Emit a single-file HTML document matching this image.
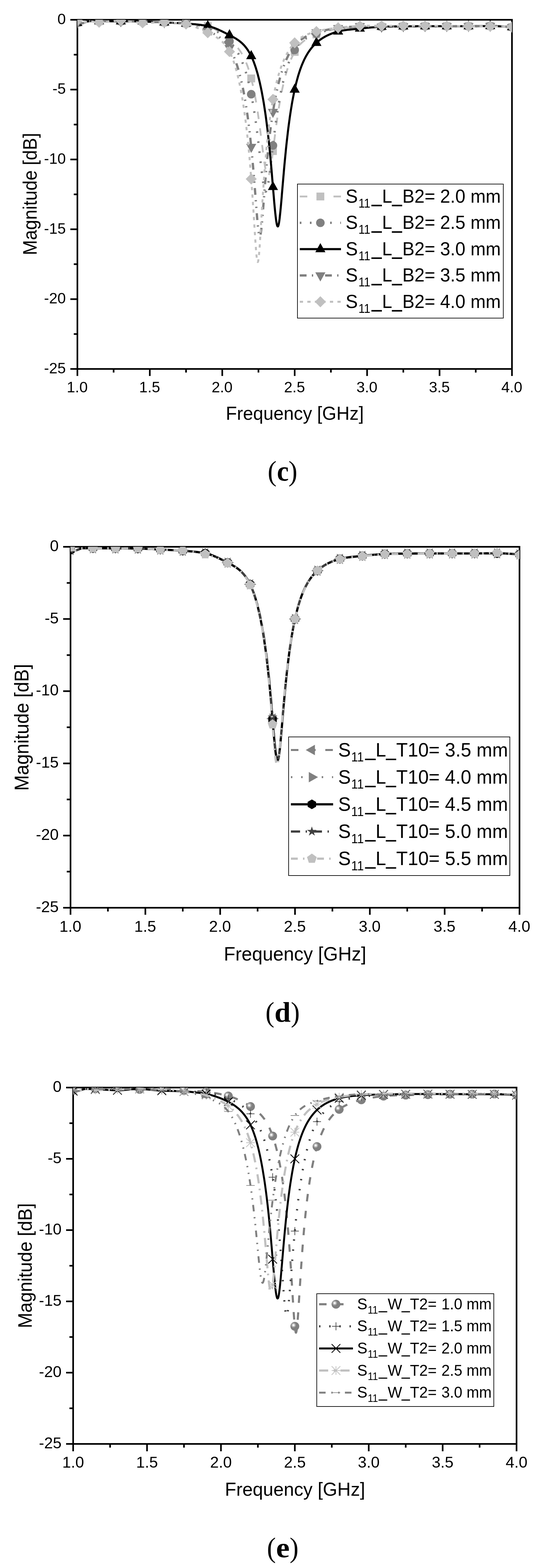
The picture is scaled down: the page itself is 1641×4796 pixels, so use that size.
<!DOCTYPE html>
<html lang="en">
<head>
<meta charset="utf-8">
<title>S11 parametric study</title>
<style>
html,body{margin:0;padding:0;background:#fff;}
body{width:1641px;height:4796px;overflow:hidden;}
svg{display:block;}
svg text{font-family:"Liberation Sans", sans-serif;fill:#000;}
svg text.cap{font-family:"Liberation Serif", serif;}
</style>
</head>
<body>
<svg width="1641" height="4796" viewBox="0 0 1641 4796">
<rect x="0" y="0" width="1641" height="4796" fill="#fff"/>
<g>
<clipPath id="clip0"><rect x="236.5" y="60.5" width="1328.0" height="1068.0"/></clipPath>
<rect x="236.5" y="60.5" width="1328.0" height="1068.0" fill="none" stroke="#000" stroke-width="5"/>
<g clip-path="url(#clip0)">
<path d="M236.5 69.9L240.9 70.7L245.4 71.1L249.8 71.2L254.2 70.6L258.6 69.0L263.1 67.1L267.5 65.5L271.9 64.8L276.3 64.7L280.8 64.7L285.2 64.7L289.6 64.7L294.0 64.7L298.5 64.8L302.9 64.8L307.3 64.8L311.8 64.8L316.2 64.8L320.6 64.8L325.0 64.9L329.5 64.9L333.9 64.9L338.3 65.0L342.7 65.0L347.2 65.0L351.6 65.1L356.0 65.1L360.4 65.1L364.9 65.2L369.3 65.2L373.7 65.2L378.2 65.2L382.6 65.2L387.0 65.2L391.4 65.2L395.9 65.2L400.3 65.2L404.7 65.2L409.1 65.2L413.6 65.2L418.0 65.3L422.4 65.3L426.8 65.4L431.3 65.5L435.7 65.6L440.1 65.8L444.6 65.9L449.0 66.1L453.4 66.3L457.8 66.4L462.3 66.6L466.7 66.8L471.1 67.0L475.5 67.2L480.0 67.5L484.4 67.7L488.8 67.9L493.2 68.1L497.7 68.4L502.1 68.6L506.5 68.9L511.0 69.1L515.4 69.3L519.8 69.5L524.2 69.7L528.7 69.9L533.1 70.1L537.5 70.3L541.9 70.5L546.4 70.7L550.8 70.9L555.2 71.2L559.6 71.4L564.1 71.7L568.5 72.0L572.9 72.3L577.4 72.6L581.8 72.9L586.2 73.2L590.6 73.5L595.1 73.9L599.5 74.2L603.9 74.6L608.3 75.1L612.8 75.6L617.2 76.2L621.6 76.9L626.0 77.7L630.5 78.7L634.9 79.7L639.3 81.0L643.8 82.7L648.2 84.7L652.6 87.0L657.0 89.5L661.5 92.3L665.9 95.3L670.3 98.4L674.7 101.6L679.2 104.9L680.1 105.6L680.9 106.3L681.8 107.0L682.7 107.7L683.6 108.4L684.5 109.1L685.4 109.8L686.2 110.5L687.1 111.2L688.0 111.9L688.9 112.6L689.8 113.3L690.7 114.0L691.6 114.7L692.4 115.4L693.3 116.1L694.2 116.8L695.1 117.5L696.0 118.2L696.9 118.9L697.8 119.6L698.6 120.3L699.5 121.0L700.4 121.7L701.3 122.4L702.2 123.2L703.1 123.9L704.0 124.6L704.8 125.3L705.7 126.0L706.6 126.8L707.5 127.5L708.4 128.3L709.3 129.0L710.2 129.8L711.0 130.6L711.9 131.4L712.8 132.2L713.7 133.0L714.6 133.8L715.5 134.7L716.4 135.5L717.2 136.4L718.1 137.3L719.0 138.1L719.9 139.1L720.8 140.0L721.7 140.9L722.5 141.9L723.4 142.9L724.3 143.9L725.2 144.9L726.1 146.0L727.0 147.0L727.9 148.1L728.7 149.2L729.6 150.4L730.5 151.5L731.4 152.7L732.3 154.0L733.2 155.2L734.1 156.5L734.9 157.8L735.8 159.1L736.7 160.5L737.6 161.9L738.5 163.4L739.4 164.9L740.3 166.4L741.1 167.9L742.0 169.5L742.9 171.2L743.8 172.9L744.7 174.6L745.6 176.4L746.5 178.2L747.3 180.0L748.2 182.0L749.1 183.9L750.0 185.9L750.9 188.0L751.8 190.1L752.6 192.3L753.5 194.6L754.4 196.9L755.3 199.2L756.2 201.7L757.1 204.2L758.0 206.7L758.8 209.4L759.7 212.1L760.6 214.8L761.5 217.7L762.4 220.6L763.3 223.6L764.2 226.7L765.0 229.9L765.9 233.1L766.8 236.5L767.7 239.9L768.6 243.4L769.5 247.1L770.4 250.8L771.2 254.6L772.1 258.4L773.0 262.4L773.9 266.5L774.8 270.7L775.7 275.0L776.6 279.4L777.4 283.9L778.3 288.5L779.2 293.2L780.1 298.0L781.0 302.9L781.9 308.0L782.8 313.1L783.6 318.4L784.5 323.8L785.4 329.3L786.3 335.0L787.2 340.7L788.1 346.6L788.9 352.6L789.8 358.7L790.7 364.9L791.6 371.3L792.5 377.7L793.4 384.3L794.3 390.9L795.1 397.7L796.0 404.5L796.9 411.4L797.8 418.3L798.7 425.4L799.6 432.4L800.5 439.5L801.3 446.6L802.2 453.6L803.1 460.6L804.0 467.6L804.9 474.4L805.8 481.1L806.7 487.7L807.5 494.0L808.4 500.1L809.3 505.9L810.2 511.4L811.1 516.5L812.0 521.2L812.9 525.4L813.7 529.1L814.6 532.3L815.5 534.9L816.4 536.8L817.3 538.2L818.2 538.9L819.0 538.9L819.9 538.3L820.8 537.0L821.7 535.1L822.6 532.6L823.5 529.6L824.4 526.0L825.2 521.8L826.1 517.2L827.0 512.2L827.9 506.8L828.8 501.1L829.7 495.1L830.6 488.9L831.4 482.4L832.3 475.7L833.2 469.0L834.1 462.1L835.0 455.1L835.9 448.1L836.8 441.1L837.6 434.0L838.5 427.0L839.4 420.1L840.3 413.1L841.2 406.3L842.1 399.5L843.0 392.8L843.8 386.2L844.7 379.7L845.6 373.3L846.5 367.0L847.4 360.8L848.3 354.7L849.2 348.8L850.0 342.9L850.9 337.2L851.8 331.6L852.7 326.1L853.6 320.7L854.5 315.5L855.3 310.3L856.2 305.3L857.1 300.4L858.0 295.6L858.9 290.9L859.8 286.3L860.7 281.8L861.5 277.4L862.4 273.1L863.3 268.9L864.2 264.9L865.1 260.9L866.0 257.0L866.9 253.2L867.7 249.5L868.6 245.8L869.5 242.3L870.4 238.8L871.3 235.5L872.2 232.2L873.1 228.9L873.9 225.8L874.8 222.7L875.7 219.7L876.6 216.8L877.5 214.0L878.4 211.2L879.3 208.4L880.1 205.8L881.0 203.2L881.9 200.6L882.8 198.1L883.7 195.7L884.6 193.3L885.4 191.0L886.3 188.8L887.2 186.5L888.1 184.4L889.0 182.3L889.9 180.2L890.8 178.2L891.6 176.2L892.5 174.3L893.4 172.4L894.3 170.6L895.2 168.8L896.1 167.0L897.0 165.3L897.8 163.6L898.7 161.9L899.6 160.3L900.5 158.8L901.4 157.2L902.3 155.7L903.2 154.3L904.0 152.8L904.9 151.5L905.8 150.1L906.7 148.8L907.6 147.5L908.5 146.3L909.4 145.1L910.2 143.9L911.1 142.7L912.0 141.6L912.9 140.5L913.8 139.5L914.7 138.4L915.6 137.4L916.4 136.4L917.3 135.5L918.2 134.6L919.1 133.7L920.0 132.8L920.9 131.9L921.7 131.1L922.6 130.3L923.5 129.5L924.4 128.7L925.3 127.9L926.2 127.2L927.1 126.5L927.9 125.8L928.8 125.1L929.7 124.4L930.6 123.8L931.5 123.1L932.4 122.5L933.3 121.9L934.1 121.3L935.0 120.7L935.9 120.2L936.8 119.6L937.7 119.1L938.6 118.6L939.5 118.0L940.3 117.5L941.2 117.0L942.1 116.6L943.0 116.1L943.9 115.6L944.8 115.2L945.7 114.7L946.5 114.3L947.4 113.8L948.3 113.4L949.2 113.0L950.1 112.6L951.0 112.1L951.8 111.7L952.7 111.3L953.6 110.9L954.5 110.6L955.4 110.2L956.3 109.8L957.2 109.4L958.0 109.0L958.9 108.7L959.8 108.3L960.7 107.9L961.6 107.6L962.5 107.2L963.4 106.8L964.2 106.5L965.1 106.1L966.0 105.7L966.9 105.4L967.8 105.0L968.7 104.6L969.6 104.3L970.4 103.9L971.3 103.6L972.2 103.3L973.1 102.9L974.0 102.6L974.9 102.3L975.8 101.9L976.6 101.6L977.5 101.3L978.4 101.0L979.3 100.7L980.2 100.4L981.1 100.1L982.0 99.8L982.8 99.6L983.7 99.3L984.6 99.0L985.5 98.7L986.4 98.4L987.3 98.2L988.1 97.9L989.0 97.7L989.9 97.4L990.8 97.2L991.7 96.9L992.6 96.7L993.5 96.4L994.3 96.2L995.2 95.9L996.1 95.7L997.0 95.5L997.9 95.2L998.8 95.0L999.7 94.8L1000.5 94.6L1001.4 94.4L1002.3 94.2L1003.2 93.9L1004.1 93.7L1005.0 93.5L1005.9 93.3L1006.7 93.1L1007.6 92.9L1008.5 92.7L1009.4 92.6L1010.3 92.4L1011.2 92.2L1012.1 92.0L1012.9 91.8L1013.8 91.6L1014.7 91.5L1015.6 91.3L1016.5 91.1L1017.4 90.9L1018.2 90.8L1019.1 90.6L1020.0 90.5L1020.9 90.3L1021.8 90.1L1022.7 90.0L1023.6 89.8L1024.4 89.7L1025.3 89.5L1026.2 89.4L1027.1 89.2L1028.0 89.1L1028.9 88.9L1029.8 88.8L1030.6 88.7L1031.5 88.5L1032.4 88.4L1033.3 88.3L1037.7 87.6L1042.2 87.0L1046.6 86.5L1051.0 85.9L1055.4 85.4L1059.9 84.9L1064.3 84.5L1068.7 84.1L1073.1 83.7L1077.6 83.3L1082.0 83.0L1086.4 82.6L1090.8 82.4L1095.3 82.1L1099.7 81.9L1104.1 81.7L1108.6 81.5L1113.0 81.5L1117.4 81.5L1121.8 81.5L1126.3 81.5L1130.7 81.6L1135.1 81.7L1139.5 81.7L1144.0 81.8L1148.4 81.9L1152.8 81.9L1157.2 81.9L1161.7 81.9L1166.1 81.9L1170.5 81.8L1175.0 81.7L1179.4 81.6L1183.8 81.5L1188.2 81.4L1192.7 81.3L1197.1 81.2L1201.5 81.1L1205.9 81.0L1210.4 80.9L1214.8 80.8L1219.2 80.8L1223.6 80.7L1228.1 80.6L1232.5 80.6L1236.9 80.5L1241.4 80.5L1245.8 80.4L1250.2 80.4L1254.6 80.4L1259.1 80.3L1263.5 80.3L1267.9 80.3L1272.3 80.3L1276.8 80.2L1281.2 80.2L1285.6 80.2L1290.0 80.2L1294.5 80.2L1298.9 80.2L1303.3 80.1L1307.8 80.1L1312.2 80.1L1316.6 80.1L1321.0 80.1L1325.5 80.1L1329.9 80.1L1334.3 80.1L1338.7 80.1L1343.2 80.1L1347.6 80.1L1352.0 80.1L1356.4 80.1L1360.9 80.2L1365.3 80.2L1369.7 80.2L1374.2 80.2L1378.6 80.2L1383.0 80.2L1387.4 80.2L1391.9 80.2L1396.3 80.2L1400.7 80.2L1405.1 80.2L1409.6 80.2L1414.0 80.2L1418.4 80.2L1422.8 80.2L1427.3 80.2L1431.7 80.2L1436.1 80.1L1440.6 80.1L1445.0 80.1L1449.4 80.0L1453.8 80.0L1458.3 80.0L1462.7 79.9L1467.1 79.9L1471.5 79.9L1476.0 79.8L1480.4 79.8L1484.8 79.8L1489.2 79.8L1493.7 79.7L1498.1 79.7L1502.5 79.7L1507.0 79.8L1511.4 79.9L1515.8 80.0L1520.2 80.2L1524.7 80.4L1529.1 80.6L1533.5 80.9L1537.9 81.1L1542.4 81.4L1546.8 81.8L1551.2 82.1L1555.6 82.4L1560.1 82.8L1564.5 83.1" fill="none" stroke="#c0c0c0" stroke-width="5.6" stroke-dasharray="23 28.5" stroke-linejoin="round"/>
<rect x="224.5" y="57.9" width="24.0" height="24.0" fill="#c0c0c0"/>
<rect x="290.9" y="52.8" width="24.0" height="24.0" fill="#c0c0c0"/>
<rect x="357.3" y="53.2" width="24.0" height="24.0" fill="#c0c0c0"/>
<rect x="423.7" y="53.6" width="24.0" height="24.0" fill="#c0c0c0"/>
<rect x="490.1" y="56.6" width="24.0" height="24.0" fill="#c0c0c0"/>
<rect x="556.5" y="60.0" width="24.0" height="24.0" fill="#c0c0c0"/>
<rect x="622.9" y="67.7" width="24.0" height="24.0" fill="#c0c0c0"/>
<rect x="689.3" y="110.4" width="24.0" height="24.0" fill="#c0c0c0"/>
<rect x="755.7" y="227.9" width="24.0" height="24.0" fill="#c0c0c0"/>
<rect x="822.1" y="450.1" width="24.0" height="24.0" fill="#c0c0c0"/>
<rect x="888.5" y="146.8" width="24.0" height="24.0" fill="#c0c0c0"/>
<rect x="954.9" y="93.4" width="24.0" height="24.0" fill="#c0c0c0"/>
<rect x="1021.3" y="76.3" width="24.0" height="24.0" fill="#c0c0c0"/>
<rect x="1087.7" y="69.9" width="24.0" height="24.0" fill="#c0c0c0"/>
<rect x="1154.1" y="69.9" width="24.0" height="24.0" fill="#c0c0c0"/>
<rect x="1220.5" y="68.6" width="24.0" height="24.0" fill="#c0c0c0"/>
<rect x="1286.9" y="68.2" width="24.0" height="24.0" fill="#c0c0c0"/>
<rect x="1353.3" y="68.2" width="24.0" height="24.0" fill="#c0c0c0"/>
<rect x="1419.7" y="68.2" width="24.0" height="24.0" fill="#c0c0c0"/>
<rect x="1486.1" y="67.7" width="24.0" height="24.0" fill="#c0c0c0"/>
<rect x="1552.5" y="71.1" width="24.0" height="24.0" fill="#c0c0c0"/>
<path d="M236.5 69.9L240.9 70.7L245.4 71.1L249.8 71.2L254.2 70.6L258.6 69.0L263.1 67.1L267.5 65.5L271.9 64.8L276.3 64.7L280.8 64.7L285.2 64.7L289.6 64.7L294.0 64.7L298.5 64.8L302.9 64.8L307.3 64.8L311.8 64.8L316.2 64.8L320.6 64.8L325.0 64.9L329.5 64.9L333.9 64.9L338.3 65.0L342.7 65.0L347.2 65.0L351.6 65.1L356.0 65.1L360.4 65.1L364.9 65.2L369.3 65.2L373.7 65.2L378.2 65.2L382.6 65.2L387.0 65.2L391.4 65.2L395.9 65.2L400.3 65.2L404.7 65.2L409.1 65.2L413.6 65.3L418.0 65.3L422.4 65.3L426.8 65.4L431.3 65.5L435.7 65.6L440.1 65.8L444.6 65.9L449.0 66.1L453.4 66.2L457.8 66.4L462.3 66.6L466.7 66.8L471.1 67.0L475.5 67.2L480.0 67.4L484.4 67.7L488.8 67.9L493.2 68.1L497.7 68.4L502.1 68.6L506.5 68.9L511.0 69.1L515.4 69.2L519.8 69.4L524.2 69.6L528.7 69.7L533.1 69.9L537.5 70.1L541.9 70.2L546.4 70.5L550.8 70.7L555.2 71.0L559.6 71.3L564.1 71.6L568.5 72.0L572.9 72.5L577.4 73.0L581.8 73.5L586.2 74.0L590.6 74.6L595.1 75.3L599.5 76.0L603.9 76.7L608.3 77.5L612.8 78.4L617.2 79.3L621.6 80.3L626.0 81.5L630.5 82.7L634.9 84.0L639.3 85.5L643.8 87.1L648.2 88.9L652.6 90.9L657.0 93.1L661.5 95.5L665.9 98.0L670.3 100.8L674.7 103.7L679.2 106.9L680.1 107.5L680.9 108.2L681.8 108.9L682.7 109.5L683.6 110.2L684.5 110.9L685.4 111.6L686.2 112.4L687.1 113.1L688.0 113.8L688.9 114.6L689.8 115.4L690.7 116.1L691.6 116.9L692.4 117.7L693.3 118.5L694.2 119.3L695.1 120.2L696.0 121.0L696.9 121.8L697.8 122.7L698.6 123.6L699.5 124.5L700.4 125.4L701.3 126.3L702.2 127.2L703.1 128.2L704.0 129.1L704.8 130.1L705.7 131.1L706.6 132.1L707.5 133.2L708.4 134.2L709.3 135.3L710.2 136.4L711.0 137.5L711.9 138.6L712.8 139.8L713.7 141.0L714.6 142.2L715.5 143.4L716.4 144.6L717.2 145.9L718.1 147.2L719.0 148.5L719.9 149.9L720.8 151.2L721.7 152.6L722.5 154.1L723.4 155.5L724.3 157.0L725.2 158.5L726.1 160.1L727.0 161.7L727.9 163.3L728.7 164.9L729.6 166.6L730.5 168.3L731.4 170.0L732.3 171.8L733.2 173.7L734.1 175.5L734.9 177.4L735.8 179.4L736.7 181.4L737.6 183.4L738.5 185.5L739.4 187.6L740.3 189.7L741.1 191.9L742.0 194.2L742.9 196.5L743.8 198.9L744.7 201.3L745.6 203.8L746.5 206.3L747.3 208.9L748.2 211.5L749.1 214.2L750.0 217.0L750.9 219.8L751.8 222.7L752.6 225.7L753.5 228.7L754.4 231.8L755.3 235.0L756.2 238.2L757.1 241.5L758.0 244.9L758.8 248.4L759.7 252.0L760.6 255.7L761.5 259.4L762.4 263.2L763.3 267.1L764.2 271.2L765.0 275.3L765.9 279.5L766.8 283.8L767.7 288.2L768.6 292.7L769.5 297.3L770.4 302.1L771.2 306.9L772.1 311.9L773.0 317.0L773.9 322.2L774.8 327.5L775.7 333.0L776.6 338.5L777.4 344.3L778.3 350.1L779.2 356.1L780.1 362.2L781.0 368.4L781.9 374.8L782.8 381.3L783.6 387.9L784.5 394.7L785.4 401.6L786.3 408.6L787.2 415.7L788.1 423.0L788.9 430.4L789.8 437.9L790.7 445.5L791.6 453.1L792.5 460.9L793.4 468.7L794.3 476.5L795.1 484.4L796.0 492.2L796.9 500.0L797.8 507.8L798.7 515.4L799.6 522.9L800.5 530.3L801.3 537.4L802.2 544.2L803.1 550.7L804.0 556.8L804.9 562.5L805.8 567.7L806.7 572.3L807.5 576.4L808.4 579.8L809.3 582.4L810.2 584.4L811.1 585.6L812.0 586.0L812.9 585.6L813.7 584.5L814.6 582.8L815.5 580.3L816.4 577.2L817.3 573.5L818.2 569.2L819.0 564.3L819.9 559.0L820.8 553.3L821.7 547.2L822.6 540.8L823.5 534.1L824.4 527.2L825.2 520.1L826.1 512.8L827.0 505.4L827.9 498.0L828.8 490.4L829.7 482.9L830.6 475.3L831.4 467.7L832.3 460.1L833.2 452.5L834.1 445.0L835.0 437.5L835.9 430.1L836.8 422.8L837.6 415.6L838.5 408.6L839.4 401.6L840.3 394.8L841.2 388.1L842.1 381.5L843.0 375.0L843.8 368.7L844.7 362.5L845.6 356.4L846.5 350.4L847.4 344.6L848.3 338.8L849.2 333.2L850.0 327.8L850.9 322.4L851.8 317.2L852.7 312.0L853.6 307.0L854.5 302.1L855.3 297.3L856.2 292.6L857.1 288.0L858.0 283.5L858.9 279.1L859.8 274.8L860.7 270.5L861.5 266.4L862.4 262.4L863.3 258.4L864.2 254.6L865.1 250.8L866.0 247.1L866.9 243.5L867.7 240.0L868.6 236.5L869.5 233.2L870.4 229.9L871.3 226.6L872.2 223.5L873.1 220.4L873.9 217.4L874.8 214.4L875.7 211.5L876.6 208.7L877.5 205.9L878.4 203.2L879.3 200.6L880.1 198.0L881.0 195.5L881.9 193.0L882.8 190.6L883.7 188.2L884.6 185.9L885.4 183.7L886.3 181.5L887.2 179.3L888.1 177.2L889.0 175.2L889.9 173.2L890.8 171.2L891.6 169.3L892.5 167.5L893.4 165.7L894.3 163.9L895.2 162.2L896.1 160.5L897.0 158.9L897.8 157.3L898.7 155.7L899.6 154.2L900.5 152.8L901.4 151.4L902.3 150.0L903.2 148.6L904.0 147.3L904.9 146.0L905.8 144.8L906.7 143.6L907.6 142.4L908.5 141.2L909.4 140.1L910.2 139.0L911.1 137.9L912.0 136.9L912.9 135.9L913.8 134.9L914.7 133.9L915.6 133.0L916.4 132.1L917.3 131.2L918.2 130.4L919.1 129.5L920.0 128.7L920.9 127.9L921.7 127.1L922.6 126.4L923.5 125.6L924.4 124.9L925.3 124.2L926.2 123.5L927.1 122.8L927.9 122.2L928.8 121.6L929.7 120.9L930.6 120.3L931.5 119.7L932.4 119.2L933.3 118.6L934.1 118.1L935.0 117.5L935.9 117.0L936.8 116.5L937.7 116.0L938.6 115.5L939.5 115.0L940.3 114.5L941.2 114.1L942.1 113.6L943.0 113.2L943.9 112.8L944.8 112.3L945.7 111.9L946.5 111.5L947.4 111.1L948.3 110.7L949.2 110.3L950.1 109.9L951.0 109.6L951.8 109.2L952.7 108.8L953.6 108.4L954.5 108.1L955.4 107.7L956.3 107.4L957.2 107.0L958.0 106.7L958.9 106.3L959.8 106.0L960.7 105.6L961.6 105.3L962.5 104.9L963.4 104.6L964.2 104.2L965.1 103.9L966.0 103.6L966.9 103.2L967.8 102.9L968.7 102.5L969.6 102.2L970.4 101.9L971.3 101.6L972.2 101.2L973.1 100.9L974.0 100.6L974.9 100.3L975.8 100.0L976.6 99.7L977.5 99.4L978.4 99.1L979.3 98.8L980.2 98.6L981.1 98.3L982.0 98.0L982.8 97.7L983.7 97.5L984.6 97.2L985.5 97.0L986.4 96.7L987.3 96.4L988.1 96.2L989.0 96.0L989.9 95.7L990.8 95.5L991.7 95.2L992.6 95.0L993.5 94.8L994.3 94.5L995.2 94.3L996.1 94.1L997.0 93.9L997.9 93.7L998.8 93.4L999.7 93.2L1000.5 93.0L1001.4 92.8L1002.3 92.6L1003.2 92.4L1004.1 92.2L1005.0 92.0L1005.9 91.8L1006.7 91.6L1007.6 91.4L1008.5 91.3L1009.4 91.1L1010.3 90.9L1011.2 90.7L1012.1 90.5L1012.9 90.4L1013.8 90.2L1014.7 90.0L1015.6 89.9L1016.5 89.7L1017.4 89.5L1018.2 89.4L1019.1 89.2L1020.0 89.1L1020.9 88.9L1021.8 88.8L1022.7 88.6L1023.6 88.5L1024.4 88.3L1025.3 88.2L1026.2 88.0L1027.1 87.9L1028.0 87.8L1028.9 87.6L1029.8 87.5L1030.6 87.4L1031.5 87.2L1032.4 87.1L1033.3 87.0L1037.7 86.4L1042.2 85.8L1046.6 85.3L1051.0 84.8L1055.4 84.3L1059.9 83.8L1064.3 83.4L1068.7 83.0L1073.1 82.6L1077.6 82.3L1082.0 82.0L1086.4 81.7L1090.8 81.4L1095.3 81.2L1099.7 81.0L1104.1 80.9L1108.6 80.8L1113.0 80.8L1117.4 80.8L1121.8 80.9L1126.3 81.0L1130.7 81.2L1135.1 81.3L1139.5 81.5L1144.0 81.6L1148.4 81.8L1152.8 81.8L1157.2 81.9L1161.7 81.9L1166.1 81.9L1170.5 81.8L1175.0 81.7L1179.4 81.6L1183.8 81.5L1188.2 81.4L1192.7 81.3L1197.1 81.2L1201.5 81.1L1205.9 81.0L1210.4 80.9L1214.8 80.8L1219.2 80.8L1223.6 80.7L1228.1 80.6L1232.5 80.6L1236.9 80.5L1241.4 80.5L1245.8 80.4L1250.2 80.4L1254.6 80.4L1259.1 80.3L1263.5 80.3L1267.9 80.3L1272.3 80.3L1276.8 80.2L1281.2 80.2L1285.6 80.2L1290.0 80.2L1294.5 80.2L1298.9 80.2L1303.3 80.1L1307.8 80.1L1312.2 80.1L1316.6 80.1L1321.0 80.1L1325.5 80.1L1329.9 80.1L1334.3 80.1L1338.7 80.1L1343.2 80.1L1347.6 80.1L1352.0 80.1L1356.4 80.1L1360.9 80.2L1365.3 80.2L1369.7 80.2L1374.2 80.2L1378.6 80.2L1383.0 80.2L1387.4 80.2L1391.9 80.2L1396.3 80.2L1400.7 80.2L1405.1 80.2L1409.6 80.2L1414.0 80.2L1418.4 80.2L1422.8 80.2L1427.3 80.2L1431.7 80.2L1436.1 80.1L1440.6 80.1L1445.0 80.1L1449.4 80.0L1453.8 80.0L1458.3 80.0L1462.7 79.9L1467.1 79.9L1471.5 79.9L1476.0 79.8L1480.4 79.8L1484.8 79.8L1489.2 79.8L1493.7 79.7L1498.1 79.7L1502.5 79.7L1507.0 79.8L1511.4 79.9L1515.8 80.0L1520.2 80.2L1524.7 80.4L1529.1 80.6L1533.5 80.9L1537.9 81.1L1542.4 81.4L1546.8 81.8L1551.2 82.1L1555.6 82.4L1560.1 82.8L1564.5 83.1" fill="none" stroke="#808080" stroke-width="7" stroke-dasharray="5 25.9" stroke-linejoin="round"/>
<circle cx="236.5" cy="69.9" r="13.1" fill="#808080"/>
<circle cx="302.9" cy="64.8" r="13.1" fill="#808080"/>
<circle cx="369.3" cy="65.2" r="13.1" fill="#808080"/>
<circle cx="435.7" cy="65.6" r="13.1" fill="#808080"/>
<circle cx="502.1" cy="68.6" r="13.1" fill="#808080"/>
<circle cx="568.5" cy="72.0" r="13.1" fill="#808080"/>
<circle cx="634.9" cy="84.0" r="13.1" fill="#808080"/>
<circle cx="701.3" cy="126.3" r="13.1" fill="#808080"/>
<circle cx="767.7" cy="288.2" r="13.1" fill="#808080"/>
<circle cx="834.1" cy="445.0" r="13.1" fill="#808080"/>
<circle cx="900.5" cy="152.8" r="13.1" fill="#808080"/>
<circle cx="966.9" cy="103.2" r="13.1" fill="#808080"/>
<circle cx="1033.3" cy="87.0" r="13.1" fill="#808080"/>
<circle cx="1099.7" cy="81.0" r="13.1" fill="#808080"/>
<circle cx="1166.1" cy="81.9" r="13.1" fill="#808080"/>
<circle cx="1232.5" cy="80.6" r="13.1" fill="#808080"/>
<circle cx="1298.9" cy="80.2" r="13.1" fill="#808080"/>
<circle cx="1365.3" cy="80.2" r="13.1" fill="#808080"/>
<circle cx="1431.7" cy="80.2" r="13.1" fill="#808080"/>
<circle cx="1498.1" cy="79.7" r="13.1" fill="#808080"/>
<circle cx="1564.5" cy="83.1" r="13.1" fill="#808080"/>
<path d="M236.5 69.9L240.9 70.7L245.4 71.1L249.8 71.2L254.2 70.6L258.6 69.0L263.1 67.1L267.5 65.5L271.9 64.8L276.3 64.7L280.8 64.7L285.2 64.7L289.6 64.7L294.0 64.7L298.5 64.8L302.9 64.8L307.3 64.8L311.8 64.8L316.2 64.8L320.6 64.8L325.0 64.9L329.5 64.9L333.9 64.9L338.3 65.0L342.7 65.0L347.2 65.0L351.6 65.1L356.0 65.1L360.4 65.1L364.9 65.2L369.3 65.2L373.7 65.2L378.2 65.2L382.6 65.2L387.0 65.2L391.4 65.2L395.9 65.2L400.3 65.2L404.7 65.2L409.1 65.2L413.6 65.3L418.0 65.3L422.4 65.3L426.8 65.4L431.3 65.5L435.7 65.6L440.1 65.8L444.6 65.9L449.0 66.1L453.4 66.3L457.8 66.5L462.3 66.6L466.7 66.9L471.1 67.1L475.5 67.3L480.0 67.5L484.4 67.7L488.8 68.0L493.2 68.2L497.7 68.4L502.1 68.6L506.5 68.8L511.0 69.0L515.4 69.2L519.8 69.4L524.2 69.6L528.7 69.8L533.1 70.0L537.5 70.2L541.9 70.4L546.4 70.7L550.8 70.9L555.2 71.2L559.6 71.4L564.1 71.7L568.5 72.0L572.9 72.4L577.4 72.7L581.8 73.1L586.2 73.4L590.6 73.8L595.1 74.2L599.5 74.7L603.9 75.1L608.3 75.7L612.8 76.2L617.2 76.8L621.6 77.4L626.0 78.1L630.5 78.9L634.9 79.7L639.3 80.7L643.8 81.8L648.2 83.2L652.6 84.7L657.0 86.3L661.5 88.1L665.9 90.0L670.3 92.0L674.7 94.1L679.2 96.2L680.1 96.7L680.9 97.1L681.8 97.5L682.7 98.0L683.6 98.4L684.5 98.9L685.4 99.3L686.2 99.7L687.1 100.2L688.0 100.6L688.9 101.1L689.8 101.5L690.7 102.0L691.6 102.5L692.4 102.9L693.3 103.4L694.2 103.8L695.1 104.3L696.0 104.7L696.9 105.2L697.8 105.7L698.6 106.1L699.5 106.6L700.4 107.0L701.3 107.5L702.2 108.0L703.1 108.4L704.0 108.9L704.8 109.3L705.7 109.8L706.6 110.3L707.5 110.7L708.4 111.2L709.3 111.7L710.2 112.1L711.0 112.6L711.9 113.1L712.8 113.6L713.7 114.1L714.6 114.5L715.5 115.0L716.4 115.5L717.2 116.1L718.1 116.6L719.0 117.1L719.9 117.6L720.8 118.1L721.7 118.7L722.5 119.2L723.4 119.8L724.3 120.4L725.2 121.0L726.1 121.5L727.0 122.1L727.9 122.8L728.7 123.4L729.6 124.0L730.5 124.7L731.4 125.3L732.3 126.0L733.2 126.7L734.1 127.4L734.9 128.1L735.8 128.8L736.7 129.6L737.6 130.4L738.5 131.1L739.4 132.0L740.3 132.8L741.1 133.6L742.0 134.5L742.9 135.4L743.8 136.3L744.7 137.2L745.6 138.1L746.5 139.1L747.3 140.1L748.2 141.1L749.1 142.2L750.0 143.3L750.9 144.4L751.8 145.5L752.6 146.6L753.5 147.8L754.4 149.0L755.3 150.3L756.2 151.6L757.1 152.9L758.0 154.2L758.8 155.6L759.7 157.0L760.6 158.5L761.5 160.0L762.4 161.5L763.3 163.1L764.2 164.7L765.0 166.3L765.9 168.0L766.8 169.8L767.7 171.6L768.6 173.4L769.5 175.3L770.4 177.2L771.2 179.2L772.1 181.3L773.0 183.4L773.9 185.6L774.8 187.8L775.7 190.1L776.6 192.5L777.4 194.9L778.3 197.4L779.2 199.9L780.1 202.5L781.0 205.2L781.9 208.0L782.8 210.8L783.6 213.7L784.5 216.6L785.4 219.6L786.3 222.7L787.2 225.9L788.1 229.2L788.9 232.5L789.8 235.9L790.7 239.4L791.6 243.0L792.5 246.7L793.4 250.5L794.3 254.3L795.1 258.3L796.0 262.3L796.9 266.5L797.8 270.7L798.7 275.1L799.6 279.5L800.5 284.1L801.3 288.8L802.2 293.6L803.1 298.5L804.0 303.5L804.9 308.7L805.8 313.9L806.7 319.4L807.5 324.9L808.4 330.6L809.3 336.4L810.2 342.4L811.1 348.5L812.0 354.8L812.9 361.3L813.7 367.9L814.6 374.6L815.5 381.6L816.4 388.7L817.3 396.0L818.2 403.5L819.0 411.2L819.9 419.0L820.8 427.1L821.7 435.4L822.6 443.8L823.5 452.5L824.4 461.4L825.2 470.5L826.1 479.8L827.0 489.3L827.9 499.0L828.8 508.9L829.7 519.0L830.6 529.3L831.4 539.7L832.3 550.3L833.2 561.0L834.1 571.9L835.0 582.6L835.9 593.3L836.8 603.7L837.6 614.0L838.5 623.9L839.4 633.6L840.3 642.8L841.2 651.6L842.1 659.8L843.0 667.3L843.8 674.0L844.7 679.8L845.6 684.7L846.5 688.5L847.4 691.1L848.3 692.5L849.2 692.7L850.0 691.6L850.9 689.2L851.8 685.6L852.7 680.9L853.6 675.1L854.5 668.3L855.3 660.7L856.2 652.4L857.1 643.5L858.0 634.1L858.9 624.3L859.8 614.2L860.7 603.9L861.5 593.4L862.4 582.9L863.3 572.4L864.2 561.9L865.1 551.4L866.0 541.1L866.9 530.9L867.7 520.9L868.6 511.0L869.5 501.3L870.4 491.7L871.3 482.4L872.2 473.3L873.1 464.3L873.9 455.6L874.8 447.1L875.7 438.7L876.6 430.6L877.5 422.7L878.4 415.0L879.3 407.4L880.1 400.1L881.0 392.9L881.9 385.9L882.8 379.1L883.7 372.5L884.6 366.1L885.4 359.8L886.3 353.6L887.2 347.7L888.1 341.8L889.0 336.1L889.9 330.6L890.8 325.2L891.6 320.0L892.5 314.8L893.4 309.8L894.3 305.0L895.2 300.2L896.1 295.6L897.0 291.1L897.8 286.7L898.7 282.4L899.6 278.2L900.5 274.1L901.4 270.1L902.3 266.2L903.2 262.4L904.0 258.7L904.9 255.1L905.8 251.6L906.7 248.2L907.6 244.8L908.5 241.6L909.4 238.4L910.2 235.3L911.1 232.2L912.0 229.3L912.9 226.4L913.8 223.5L914.7 220.8L915.6 218.1L916.4 215.5L917.3 212.9L918.2 210.4L919.1 207.9L920.0 205.5L920.9 203.2L921.7 200.9L922.6 198.7L923.5 196.5L924.4 194.4L925.3 192.3L926.2 190.2L927.1 188.3L927.9 186.3L928.8 184.4L929.7 182.5L930.6 180.7L931.5 178.9L932.4 177.2L933.3 175.5L934.1 173.8L935.0 172.2L935.9 170.6L936.8 169.1L937.7 167.5L938.6 166.0L939.5 164.6L940.3 163.1L941.2 161.7L942.1 160.3L943.0 159.0L943.9 157.7L944.8 156.4L945.7 155.1L946.5 153.9L947.4 152.7L948.3 151.5L949.2 150.3L950.1 149.2L951.0 148.0L951.8 146.9L952.7 145.8L953.6 144.8L954.5 143.7L955.4 142.7L956.3 141.7L957.2 140.7L958.0 139.8L958.9 138.8L959.8 137.9L960.7 137.0L961.6 136.1L962.5 135.2L963.4 134.3L964.2 133.5L965.1 132.6L966.0 131.8L966.9 131.0L967.8 130.2L968.7 129.4L969.6 128.6L970.4 127.9L971.3 127.1L972.2 126.4L973.1 125.7L974.0 125.0L974.9 124.3L975.8 123.6L976.6 122.9L977.5 122.3L978.4 121.6L979.3 121.0L980.2 120.3L981.1 119.7L982.0 119.1L982.8 118.5L983.7 117.9L984.6 117.3L985.5 116.8L986.4 116.2L987.3 115.7L988.1 115.1L989.0 114.6L989.9 114.1L990.8 113.5L991.7 113.0L992.6 112.5L993.5 112.0L994.3 111.5L995.2 111.1L996.1 110.6L997.0 110.1L997.9 109.7L998.8 109.2L999.7 108.8L1000.5 108.4L1001.4 107.9L1002.3 107.5L1003.2 107.1L1004.1 106.7L1005.0 106.3L1005.9 105.9L1006.7 105.5L1007.6 105.1L1008.5 104.8L1009.4 104.4L1010.3 104.0L1011.2 103.7L1012.1 103.3L1012.9 103.0L1013.8 102.6L1014.7 102.3L1015.6 102.0L1016.5 101.6L1017.4 101.3L1018.2 101.0L1019.1 100.7L1020.0 100.4L1020.9 100.1L1021.8 99.8L1022.7 99.5L1023.6 99.2L1024.4 98.9L1025.3 98.7L1026.2 98.4L1027.1 98.1L1028.0 97.9L1028.9 97.6L1029.8 97.4L1030.6 97.1L1031.5 96.9L1032.4 96.6L1033.3 96.4L1037.7 95.3L1042.2 94.3L1046.6 93.5L1051.0 92.7L1055.4 92.1L1059.9 91.5L1064.3 90.9L1068.7 90.5L1073.1 90.0L1077.6 89.6L1082.0 89.2L1086.4 88.8L1090.8 88.3L1095.3 87.9L1099.7 87.4L1104.1 86.9L1108.6 86.5L1113.0 86.0L1117.4 85.6L1121.8 85.1L1126.3 84.7L1130.7 84.3L1135.1 83.9L1139.5 83.6L1144.0 83.3L1148.4 82.9L1152.8 82.6L1157.2 82.4L1161.7 82.1L1166.1 81.9L1170.5 81.7L1175.0 81.5L1179.4 81.3L1183.8 81.2L1188.2 81.1L1192.7 81.0L1197.1 80.9L1201.5 80.9L1205.9 80.8L1210.4 80.8L1214.8 80.7L1219.2 80.7L1223.6 80.7L1228.1 80.6L1232.5 80.6L1236.9 80.5L1241.4 80.5L1245.8 80.4L1250.2 80.4L1254.6 80.4L1259.1 80.3L1263.5 80.3L1267.9 80.3L1272.3 80.3L1276.8 80.2L1281.2 80.2L1285.6 80.2L1290.0 80.2L1294.5 80.2L1298.9 80.2L1303.3 80.1L1307.8 80.1L1312.2 80.1L1316.6 80.1L1321.0 80.1L1325.5 80.1L1329.9 80.1L1334.3 80.1L1338.7 80.1L1343.2 80.1L1347.6 80.1L1352.0 80.1L1356.4 80.1L1360.9 80.2L1365.3 80.2L1369.7 80.2L1374.2 80.2L1378.6 80.2L1383.0 80.2L1387.4 80.2L1391.9 80.2L1396.3 80.2L1400.7 80.2L1405.1 80.2L1409.6 80.2L1414.0 80.2L1418.4 80.2L1422.8 80.2L1427.3 80.2L1431.7 80.2L1436.1 80.1L1440.6 80.1L1445.0 80.1L1449.4 80.0L1453.8 80.0L1458.3 80.0L1462.7 79.9L1467.1 79.9L1471.5 79.9L1476.0 79.8L1480.4 79.8L1484.8 79.8L1489.2 79.8L1493.7 79.7L1498.1 79.7L1502.5 79.7L1507.0 79.8L1511.4 79.9L1515.8 80.0L1520.2 80.2L1524.7 80.4L1529.1 80.6L1533.5 80.9L1537.9 81.2L1542.4 81.5L1546.8 81.8L1551.2 82.1L1555.6 82.4L1560.1 82.8L1564.5 83.1" fill="none" stroke="#000000" stroke-width="6.3" stroke-linejoin="round"/>
<polygon points="236.5,51.4 252.0,79.3 221.0,79.3" fill="#000000"/>
<polygon points="302.9,46.3 318.4,74.2 287.4,74.2" fill="#000000"/>
<polygon points="369.3,46.7 384.8,74.6 353.8,74.6" fill="#000000"/>
<polygon points="435.7,47.1 451.2,75.0 420.2,75.0" fill="#000000"/>
<polygon points="502.1,50.1 517.6,78.0 486.6,78.0" fill="#000000"/>
<polygon points="568.5,53.5 584.0,81.4 553.0,81.4" fill="#000000"/>
<polygon points="634.9,61.2 650.4,89.1 619.4,89.1" fill="#000000"/>
<polygon points="701.3,89.0 716.8,116.9 685.8,116.9" fill="#000000"/>
<polygon points="767.7,153.1 783.2,181.0 752.2,181.0" fill="#000000"/>
<polygon points="834.1,553.4 849.6,581.3 818.6,581.3" fill="#000000"/>
<polygon points="900.5,255.6 916.0,283.5 885.0,283.5" fill="#000000"/>
<polygon points="966.9,112.5 982.4,140.4 951.4,140.4" fill="#000000"/>
<polygon points="1033.3,77.9 1048.8,105.8 1017.8,105.8" fill="#000000"/>
<polygon points="1099.7,68.9 1115.2,96.8 1084.2,96.8" fill="#000000"/>
<polygon points="1166.1,63.4 1181.6,91.3 1150.6,91.3" fill="#000000"/>
<polygon points="1232.5,62.1 1248.0,90.0 1217.0,90.0" fill="#000000"/>
<polygon points="1298.9,61.7 1314.4,89.6 1283.4,89.6" fill="#000000"/>
<polygon points="1365.3,61.7 1380.8,89.6 1349.8,89.6" fill="#000000"/>
<polygon points="1431.7,61.7 1447.2,89.6 1416.2,89.6" fill="#000000"/>
<polygon points="1498.1,61.2 1513.6,89.1 1482.6,89.1" fill="#000000"/>
<polygon points="1564.5,64.6 1580.0,92.5 1549.0,92.5" fill="#000000"/>
<path d="M236.5 69.9L240.9 70.7L245.4 71.1L249.8 71.2L254.2 70.6L258.6 69.0L263.1 67.1L267.5 65.5L271.9 64.8L276.3 64.7L280.8 64.7L285.2 64.7L289.6 64.7L294.0 64.7L298.5 64.8L302.9 64.8L307.3 64.8L311.8 64.8L316.2 64.8L320.6 64.8L325.0 64.9L329.5 64.9L333.9 64.9L338.3 65.0L342.7 65.0L347.2 65.0L351.6 65.1L356.0 65.1L360.4 65.1L364.9 65.2L369.3 65.2L373.7 65.2L378.2 65.2L382.6 65.3L387.0 65.3L391.4 65.3L395.9 65.3L400.3 65.3L404.7 65.3L409.1 65.3L413.6 65.3L418.0 65.3L422.4 65.4L426.8 65.4L431.3 65.5L435.7 65.6L440.1 65.7L444.6 65.9L449.0 66.0L453.4 66.2L457.8 66.4L462.3 66.6L466.7 66.8L471.1 67.0L475.5 67.2L480.0 67.4L484.4 67.6L488.8 67.9L493.2 68.1L497.7 68.4L502.1 68.6L506.5 68.8L511.0 69.0L515.4 69.1L519.8 69.2L524.2 69.2L528.7 69.3L533.1 69.4L537.5 69.5L541.9 69.6L546.4 69.8L550.8 70.0L555.2 70.4L559.6 70.8L564.1 71.4L568.5 72.0L572.9 72.9L577.4 73.8L581.8 74.9L586.2 76.2L590.6 77.5L595.1 78.9L599.5 80.5L603.9 82.1L608.3 83.7L612.8 85.4L617.2 87.2L621.6 89.0L626.0 90.9L630.5 92.8L634.9 94.7L639.3 96.6L643.8 98.6L648.2 100.7L652.6 102.9L657.0 105.2L661.5 107.8L665.9 110.6L670.3 113.6L674.7 117.0L679.2 120.7L680.1 121.5L680.9 122.4L681.8 123.2L682.7 124.0L683.6 124.9L684.5 125.8L685.4 126.7L686.2 127.6L687.1 128.6L688.0 129.6L688.9 130.6L689.8 131.6L690.7 132.6L691.6 133.7L692.4 134.8L693.3 135.9L694.2 137.0L695.1 138.2L696.0 139.4L696.9 140.6L697.8 141.9L698.6 143.2L699.5 144.5L700.4 145.8L701.3 147.2L702.2 148.6L703.1 150.1L704.0 151.6L704.8 153.2L705.7 154.8L706.6 156.4L707.5 158.1L708.4 159.8L709.3 161.6L710.2 163.4L711.0 165.3L711.9 167.2L712.8 169.2L713.7 171.3L714.6 173.3L715.5 175.5L716.4 177.6L717.2 179.9L718.1 182.2L719.0 184.5L719.9 186.9L720.8 189.4L721.7 191.9L722.5 194.5L723.4 197.1L724.3 199.8L725.2 202.5L726.1 205.4L727.0 208.2L727.9 211.2L728.7 214.2L729.6 217.3L730.5 220.5L731.4 223.7L732.3 227.0L733.2 230.4L734.1 233.8L734.9 237.3L735.8 240.9L736.7 244.6L737.6 248.4L738.5 252.3L739.4 256.2L740.3 260.3L741.1 264.4L742.0 268.7L742.9 273.0L743.8 277.4L744.7 282.0L745.6 286.6L746.5 291.4L747.3 296.3L748.2 301.3L749.1 306.4L750.0 311.6L750.9 317.0L751.8 322.5L752.6 328.1L753.5 333.9L754.4 339.8L755.3 345.9L756.2 352.1L757.1 358.5L758.0 365.0L758.8 371.7L759.7 378.6L760.6 385.7L761.5 392.9L762.4 400.4L763.3 408.0L764.2 415.8L765.0 423.9L765.9 432.1L766.8 440.6L767.7 449.3L768.6 458.1L769.5 467.2L770.4 476.6L771.2 486.1L772.1 495.8L773.0 505.8L773.9 516.0L774.8 526.4L775.7 537.0L776.6 547.9L777.4 558.9L778.3 570.1L779.2 581.5L780.1 593.0L781.0 604.6L781.9 616.2L782.8 627.8L783.6 639.3L784.5 650.6L785.4 661.6L786.3 672.1L787.2 682.1L788.1 691.3L788.9 699.6L789.8 706.9L790.7 713.0L791.6 717.6L792.5 720.8L793.4 722.5L794.3 722.5L795.1 720.8L796.0 717.6L796.9 712.9L797.8 706.9L798.7 699.6L799.6 691.2L800.5 682.0L801.3 672.0L802.2 661.5L803.1 650.5L804.0 639.3L804.9 627.8L805.8 616.2L806.7 604.7L807.5 593.1L808.4 581.7L809.3 570.4L810.2 559.3L811.1 548.4L812.0 537.7L812.9 527.2L813.7 517.0L814.6 507.0L815.5 497.3L816.4 487.8L817.3 478.6L818.2 469.6L819.0 460.8L819.9 452.3L820.8 444.1L821.7 436.0L822.6 428.1L823.5 420.5L824.4 413.1L825.2 405.8L826.1 398.8L827.0 391.9L827.9 385.2L828.8 378.7L829.7 372.3L830.6 366.0L831.4 359.9L832.3 354.0L833.2 348.2L834.1 342.5L835.0 336.9L835.9 331.4L836.8 326.1L837.6 320.9L838.5 315.9L839.4 311.0L840.3 306.2L841.2 301.5L842.1 296.9L843.0 292.4L843.8 288.0L844.7 283.8L845.6 279.6L846.5 275.5L847.4 271.5L848.3 267.6L849.2 263.8L850.0 260.1L850.9 256.5L851.8 252.9L852.7 249.4L853.6 246.0L854.5 242.7L855.3 239.5L856.2 236.3L857.1 233.2L858.0 230.1L858.9 227.1L859.8 224.2L860.7 221.3L861.5 218.5L862.4 215.8L863.3 213.1L864.2 210.5L865.1 207.9L866.0 205.4L866.9 202.9L867.7 200.5L868.6 198.1L869.5 195.8L870.4 193.5L871.3 191.3L872.2 189.1L873.1 187.0L873.9 184.9L874.8 182.8L875.7 180.8L876.6 178.9L877.5 176.9L878.4 175.1L879.3 173.2L880.1 171.4L881.0 169.6L881.9 167.9L882.8 166.2L883.7 164.6L884.6 162.9L885.4 161.4L886.3 159.8L887.2 158.3L888.1 156.8L889.0 155.4L889.9 154.0L890.8 152.6L891.6 151.2L892.5 149.9L893.4 148.7L894.3 147.4L895.2 146.2L896.1 145.0L897.0 143.8L897.8 142.7L898.7 141.6L899.6 140.6L900.5 139.5L901.4 138.5L902.3 137.5L903.2 136.6L904.0 135.6L904.9 134.7L905.8 133.8L906.7 132.9L907.6 132.0L908.5 131.2L909.4 130.3L910.2 129.5L911.1 128.7L912.0 127.9L912.9 127.1L913.8 126.4L914.7 125.6L915.6 124.9L916.4 124.2L917.3 123.5L918.2 122.8L919.1 122.1L920.0 121.5L920.9 120.8L921.7 120.2L922.6 119.6L923.5 118.9L924.4 118.3L925.3 117.7L926.2 117.2L927.1 116.6L927.9 116.0L928.8 115.5L929.7 115.0L930.6 114.4L931.5 113.9L932.4 113.4L933.3 112.9L934.1 112.4L935.0 111.9L935.9 111.5L936.8 111.0L937.7 110.5L938.6 110.1L939.5 109.7L940.3 109.2L941.2 108.8L942.1 108.4L943.0 108.0L943.9 107.6L944.8 107.2L945.7 106.8L946.5 106.4L947.4 106.0L948.3 105.6L949.2 105.3L950.1 104.9L951.0 104.5L951.8 104.2L952.7 103.9L953.6 103.5L954.5 103.2L955.4 102.8L956.3 102.5L957.2 102.2L958.0 101.9L958.9 101.6L959.8 101.3L960.7 101.0L961.6 100.7L962.5 100.4L963.4 100.1L964.2 99.8L965.1 99.5L966.0 99.2L966.9 98.9L967.8 98.7L968.7 98.4L969.6 98.1L970.4 97.9L971.3 97.6L972.2 97.4L973.1 97.1L974.0 96.9L974.9 96.6L975.8 96.4L976.6 96.2L977.5 95.9L978.4 95.7L979.3 95.5L980.2 95.3L981.1 95.0L982.0 94.8L982.8 94.6L983.7 94.4L984.6 94.2L985.5 94.0L986.4 93.8L987.3 93.6L988.1 93.4L989.0 93.2L989.9 93.0L990.8 92.8L991.7 92.7L992.6 92.5L993.5 92.3L994.3 92.1L995.2 92.0L996.1 91.8L997.0 91.6L997.9 91.5L998.8 91.3L999.7 91.1L1000.5 91.0L1001.4 90.8L1002.3 90.7L1003.2 90.5L1004.1 90.4L1005.0 90.2L1005.9 90.1L1006.7 89.9L1007.6 89.8L1008.5 89.6L1009.4 89.5L1010.3 89.3L1011.2 89.2L1012.1 89.1L1012.9 88.9L1013.8 88.8L1014.7 88.7L1015.6 88.5L1016.5 88.4L1017.4 88.3L1018.2 88.1L1019.1 88.0L1020.0 87.9L1020.9 87.8L1021.8 87.6L1022.7 87.5L1023.6 87.4L1024.4 87.3L1025.3 87.2L1026.2 87.0L1027.1 86.9L1028.0 86.8L1028.9 86.7L1029.8 86.6L1030.6 86.5L1031.5 86.4L1032.4 86.2L1033.3 86.1L1037.7 85.6L1042.2 85.1L1046.6 84.6L1051.0 84.1L1055.4 83.6L1059.9 83.2L1064.3 82.7L1068.7 82.3L1073.1 82.0L1077.6 81.6L1082.0 81.3L1086.4 80.9L1090.8 80.7L1095.3 80.4L1099.7 80.2L1104.1 80.0L1108.6 79.9L1113.0 79.9L1117.4 80.0L1121.8 80.2L1126.3 80.4L1130.7 80.6L1135.1 80.9L1139.5 81.1L1144.0 81.4L1148.4 81.6L1152.8 81.7L1157.2 81.8L1161.7 81.9L1166.1 81.9L1170.5 81.8L1175.0 81.7L1179.4 81.6L1183.8 81.5L1188.2 81.4L1192.7 81.3L1197.1 81.2L1201.5 81.1L1205.9 81.0L1210.4 80.9L1214.8 80.9L1219.2 80.8L1223.6 80.7L1228.1 80.6L1232.5 80.6L1236.9 80.5L1241.4 80.5L1245.8 80.4L1250.2 80.4L1254.6 80.4L1259.1 80.3L1263.5 80.3L1267.9 80.3L1272.3 80.3L1276.8 80.2L1281.2 80.2L1285.6 80.2L1290.0 80.2L1294.5 80.2L1298.9 80.2L1303.3 80.1L1307.8 80.1L1312.2 80.1L1316.6 80.1L1321.0 80.1L1325.5 80.1L1329.9 80.1L1334.3 80.1L1338.7 80.1L1343.2 80.1L1347.6 80.1L1352.0 80.1L1356.4 80.1L1360.9 80.2L1365.3 80.2L1369.7 80.2L1374.2 80.2L1378.6 80.2L1383.0 80.2L1387.4 80.2L1391.9 80.2L1396.3 80.2L1400.7 80.2L1405.1 80.2L1409.6 80.2L1414.0 80.2L1418.4 80.2L1422.8 80.2L1427.3 80.2L1431.7 80.2L1436.1 80.1L1440.6 80.1L1445.0 80.1L1449.4 80.0L1453.8 80.0L1458.3 80.0L1462.7 79.9L1467.1 79.9L1471.5 79.9L1476.0 79.8L1480.4 79.8L1484.8 79.8L1489.2 79.8L1493.7 79.7L1498.1 79.7L1502.5 79.7L1507.0 79.8L1511.4 79.9L1515.8 80.0L1520.2 80.2L1524.7 80.4L1529.1 80.6L1533.5 80.9L1537.9 81.1L1542.4 81.4L1546.8 81.8L1551.2 82.1L1555.6 82.4L1560.1 82.8L1564.5 83.1" fill="none" stroke="#808080" stroke-width="7" stroke-dasharray="20.7 16.2 4 16.2 4 16.2" stroke-linejoin="round"/>
<polygon points="221.0,60.5 252.0,60.5 236.5,88.4" fill="#808080"/>
<polygon points="287.4,55.4 318.4,55.4 302.9,83.3" fill="#808080"/>
<polygon points="353.8,55.8 384.8,55.8 369.3,83.7" fill="#808080"/>
<polygon points="420.2,56.2 451.2,56.2 435.7,84.1" fill="#808080"/>
<polygon points="486.6,59.2 517.6,59.2 502.1,87.1" fill="#808080"/>
<polygon points="553.0,62.6 584.0,62.6 568.5,90.5" fill="#808080"/>
<polygon points="619.4,85.3 650.4,85.3 634.9,113.2" fill="#808080"/>
<polygon points="685.8,137.8 716.8,137.8 701.3,165.7" fill="#808080"/>
<polygon points="752.2,439.9 783.2,439.9 767.7,467.8" fill="#808080"/>
<polygon points="818.6,333.1 849.6,333.1 834.1,361.0" fill="#808080"/>
<polygon points="885.0,130.1 916.0,130.1 900.5,158.0" fill="#808080"/>
<polygon points="951.4,89.5 982.4,89.5 966.9,117.4" fill="#808080"/>
<polygon points="1017.8,76.7 1048.8,76.7 1033.3,104.6" fill="#808080"/>
<polygon points="1084.2,70.8 1115.2,70.8 1099.7,98.7" fill="#808080"/>
<polygon points="1150.6,72.5 1181.6,72.5 1166.1,100.4" fill="#808080"/>
<polygon points="1217.0,71.2 1248.0,71.2 1232.5,99.1" fill="#808080"/>
<polygon points="1283.4,70.8 1314.4,70.8 1298.9,98.7" fill="#808080"/>
<polygon points="1349.8,70.8 1380.8,70.8 1365.3,98.7" fill="#808080"/>
<polygon points="1416.2,70.8 1447.2,70.8 1431.7,98.7" fill="#808080"/>
<polygon points="1482.6,70.3 1513.6,70.3 1498.1,98.2" fill="#808080"/>
<polygon points="1549.0,73.7 1580.0,73.7 1564.5,101.6" fill="#808080"/>
<path d="M236.5 62.6L240.9 66.8L245.4 69.9L249.8 71.2L254.2 70.5L258.6 68.9L263.1 67.0L267.5 65.4L271.9 64.8L276.3 65.0L280.8 65.5L285.2 66.1L289.6 66.8L294.0 67.5L298.5 67.9L302.9 68.2L307.3 68.2L311.8 68.0L316.2 67.8L320.6 67.4L325.0 66.9L329.5 66.4L333.9 65.8L338.3 65.3L342.7 64.7L347.2 64.2L351.6 63.7L356.0 63.4L360.4 63.1L364.9 63.0L369.3 63.1L373.7 63.3L378.2 63.5L382.6 63.9L387.0 64.4L391.4 64.9L395.9 65.4L400.3 66.0L404.7 66.6L409.1 67.2L413.6 67.8L418.0 68.3L422.4 68.8L426.8 69.3L431.3 69.6L435.7 69.9L440.1 70.1L444.6 70.1L449.0 70.1L453.4 70.0L457.8 69.8L462.3 69.6L466.7 69.4L471.1 69.1L475.5 68.8L480.0 68.6L484.4 68.4L488.8 68.2L493.2 68.1L497.7 68.1L502.1 68.2L506.5 68.3L511.0 68.5L515.4 68.6L519.8 68.8L524.2 69.0L528.7 69.2L533.1 69.5L537.5 69.8L541.9 70.2L546.4 70.6L550.8 71.1L555.2 71.6L559.6 72.3L564.1 73.0L568.5 73.7L572.9 74.7L577.4 75.8L581.8 77.1L586.2 78.5L590.6 80.1L595.1 81.8L599.5 83.6L603.9 85.5L608.3 87.5L612.8 89.5L617.2 91.6L621.6 93.7L626.0 95.9L630.5 98.0L634.9 100.2L639.3 102.4L643.8 104.5L648.2 106.7L652.6 109.0L657.0 111.4L661.5 114.0L665.9 116.8L670.3 120.0L674.7 123.5L679.2 127.6L680.1 128.4L680.9 129.3L681.8 130.2L682.7 131.2L683.6 132.1L684.5 133.1L685.4 134.1L686.2 135.2L687.1 136.3L688.0 137.4L688.9 138.5L689.8 139.6L690.7 140.8L691.6 142.1L692.4 143.3L693.3 144.6L694.2 145.9L695.1 147.3L696.0 148.7L696.9 150.1L697.8 151.6L698.6 153.1L699.5 154.7L700.4 156.3L701.3 157.9L702.2 159.6L703.1 161.4L704.0 163.2L704.8 165.0L705.7 167.0L706.6 169.0L707.5 171.1L708.4 173.2L709.3 175.4L710.2 177.7L711.0 180.0L711.9 182.4L712.8 184.9L713.7 187.4L714.6 190.0L715.5 192.7L716.4 195.4L717.2 198.2L718.1 201.1L719.0 204.0L719.9 207.1L720.8 210.2L721.7 213.3L722.5 216.6L723.4 219.9L724.3 223.3L725.2 226.8L726.1 230.4L727.0 234.1L727.9 237.8L728.7 241.6L729.6 245.6L730.5 249.6L731.4 253.7L732.3 257.9L733.2 262.2L734.1 266.6L734.9 271.1L735.8 275.7L736.7 280.4L737.6 285.2L738.5 290.1L739.4 295.2L740.3 300.4L741.1 305.7L742.0 311.1L742.9 316.6L743.8 322.3L744.7 328.1L745.6 334.1L746.5 340.2L747.3 346.5L748.2 352.9L749.1 359.5L750.0 366.3L750.9 373.2L751.8 380.3L752.6 387.6L753.5 395.1L754.4 402.8L755.3 410.7L756.2 418.8L757.1 427.1L758.0 435.7L758.8 444.4L759.7 453.5L760.6 462.8L761.5 472.4L762.4 482.2L763.3 492.3L764.2 502.7L765.0 513.5L765.9 524.5L766.8 535.8L767.7 547.5L768.6 559.4L769.5 571.6L770.4 584.0L771.2 596.6L772.1 609.4L773.0 622.6L773.9 635.9L774.8 649.5L775.7 663.2L776.6 677.1L777.4 691.1L778.3 705.1L779.2 718.9L780.1 732.4L781.0 745.5L781.9 757.8L782.8 769.1L783.6 779.2L784.5 787.7L785.4 794.4L786.3 799.0L787.2 801.4L788.1 801.4L788.9 798.9L789.8 794.0L790.7 786.9L791.6 777.9L792.5 767.2L793.4 755.1L794.3 742.1L795.1 728.3L796.0 713.9L796.9 699.2L797.8 684.4L798.7 669.6L799.6 654.9L800.5 640.3L801.3 626.0L802.2 612.0L803.1 598.3L804.0 584.9L804.9 571.9L805.8 559.3L806.7 547.0L807.5 535.1L808.4 523.5L809.3 512.3L810.2 501.4L811.1 490.9L812.0 480.7L812.9 470.8L813.7 461.2L814.6 451.9L815.5 442.9L816.4 434.1L817.3 425.7L818.2 417.5L819.0 409.5L819.9 401.8L820.8 394.3L821.7 387.0L822.6 379.9L823.5 373.0L824.4 366.4L825.2 359.9L826.1 353.6L827.0 347.4L827.9 341.5L828.8 335.7L829.7 330.1L830.6 324.6L831.4 319.2L832.3 314.0L833.2 308.9L834.1 304.0L835.0 299.2L835.9 294.5L836.8 289.9L837.6 285.5L838.5 281.1L839.4 276.9L840.3 272.8L841.2 268.7L842.1 264.8L843.0 261.0L843.8 257.2L844.7 253.6L845.6 250.0L846.5 246.5L847.4 243.1L848.3 239.8L849.2 236.6L850.0 233.4L850.9 230.3L851.8 227.3L852.7 224.3L853.6 221.4L854.5 218.6L855.3 215.9L856.2 213.2L857.1 210.5L858.0 207.9L858.9 205.4L859.8 202.9L860.7 200.5L861.5 198.1L862.4 195.8L863.3 193.6L864.2 191.3L865.1 189.2L866.0 187.1L866.9 185.0L867.7 182.9L868.6 180.9L869.5 179.0L870.4 177.1L871.3 175.2L872.2 173.4L873.1 171.6L873.9 169.8L874.8 168.1L875.7 166.4L876.6 164.7L877.5 163.1L878.4 161.5L879.3 160.0L880.1 158.5L881.0 157.0L881.9 155.5L882.8 154.1L883.7 152.7L884.6 151.3L885.4 150.0L886.3 148.7L887.2 147.4L888.1 146.1L889.0 144.9L889.9 143.7L890.8 142.5L891.6 141.3L892.5 140.2L893.4 139.1L894.3 138.0L895.2 136.9L896.1 135.9L897.0 134.8L897.8 133.8L898.7 132.9L899.6 131.9L900.5 131.0L901.4 130.1L902.3 129.2L903.2 128.3L904.0 127.5L904.9 126.6L905.8 125.8L906.7 125.0L907.6 124.3L908.5 123.5L909.4 122.7L910.2 122.0L911.1 121.3L912.0 120.6L912.9 119.9L913.8 119.3L914.7 118.6L915.6 118.0L916.4 117.4L917.3 116.8L918.2 116.2L919.1 115.6L920.0 115.0L920.9 114.5L921.7 113.9L922.6 113.4L923.5 112.9L924.4 112.4L925.3 111.9L926.2 111.4L927.1 110.9L927.9 110.4L928.8 110.0L929.7 109.5L930.6 109.1L931.5 108.7L932.4 108.3L933.3 107.8L934.1 107.4L935.0 107.0L935.9 106.7L936.8 106.3L937.7 105.9L938.6 105.5L939.5 105.2L940.3 104.8L941.2 104.5L942.1 104.1L943.0 103.8L943.9 103.5L944.8 103.2L945.7 102.8L946.5 102.5L947.4 102.2L948.3 101.9L949.2 101.6L950.1 101.3L951.0 101.1L951.8 100.8L952.7 100.5L953.6 100.2L954.5 99.9L955.4 99.7L956.3 99.4L957.2 99.1L958.0 98.9L958.9 98.6L959.8 98.4L960.7 98.1L961.6 97.9L962.5 97.6L963.4 97.4L964.2 97.1L965.1 96.9L966.0 96.6L966.9 96.4L967.8 96.1L968.7 95.9L969.6 95.7L970.4 95.4L971.3 95.2L972.2 95.0L973.1 94.8L974.0 94.6L974.9 94.3L975.8 94.1L976.6 93.9L977.5 93.7L978.4 93.5L979.3 93.3L980.2 93.1L981.1 92.9L982.0 92.7L982.8 92.6L983.7 92.4L984.6 92.2L985.5 92.0L986.4 91.8L987.3 91.7L988.1 91.5L989.0 91.3L989.9 91.2L990.8 91.0L991.7 90.8L992.6 90.7L993.5 90.5L994.3 90.3L995.2 90.2L996.1 90.0L997.0 89.9L997.9 89.7L998.8 89.6L999.7 89.4L1000.5 89.3L1001.4 89.1L1002.3 89.0L1003.2 88.9L1004.1 88.7L1005.0 88.6L1005.9 88.5L1006.7 88.3L1007.6 88.2L1008.5 88.1L1009.4 87.9L1010.3 87.8L1011.2 87.7L1012.1 87.5L1012.9 87.4L1013.8 87.3L1014.7 87.2L1015.6 87.1L1016.5 86.9L1017.4 86.8L1018.2 86.7L1019.1 86.6L1020.0 86.5L1020.9 86.4L1021.8 86.2L1022.7 86.1L1023.6 86.0L1024.4 85.9L1025.3 85.8L1026.2 85.7L1027.1 85.6L1028.0 85.5L1028.9 85.4L1029.8 85.3L1030.6 85.2L1031.5 85.1L1032.4 85.0L1033.3 84.9L1037.7 84.3L1042.2 83.9L1046.6 83.4L1051.0 82.9L1055.4 82.5L1059.9 82.1L1064.3 81.7L1068.7 81.3L1073.1 81.0L1077.6 80.6L1082.0 80.3L1086.4 80.0L1090.8 79.8L1095.3 79.5L1099.7 79.3L1104.1 79.1L1108.6 79.0L1113.0 78.9L1117.4 78.8L1121.8 78.7L1126.3 78.7L1130.7 78.7L1135.1 78.7L1139.5 78.7L1144.0 78.8L1148.4 78.8L1152.8 78.8L1157.2 78.9L1161.7 78.9L1166.1 78.9L1170.5 78.9L1175.0 78.9L1179.4 78.9L1183.8 78.8L1188.2 78.8L1192.7 78.9L1197.1 78.9L1201.5 78.9L1205.9 78.9L1210.4 78.9L1214.8 78.9L1219.2 78.9L1223.6 78.9L1228.1 78.9L1232.5 78.9L1236.9 78.9L1241.4 78.9L1245.8 78.9L1250.2 78.9L1254.6 78.9L1259.1 78.8L1263.5 78.8L1267.9 78.8L1272.3 78.8L1276.8 78.8L1281.2 78.8L1285.6 78.8L1290.0 78.8L1294.5 78.9L1298.9 78.9L1303.3 78.9L1307.8 78.9L1312.2 78.9L1316.6 78.9L1321.0 79.0L1325.5 79.0L1329.9 79.0L1334.3 79.0L1338.7 79.1L1343.2 79.1L1347.6 79.1L1352.0 79.2L1356.4 79.2L1360.9 79.3L1365.3 79.3L1369.7 79.3L1374.2 79.4L1378.6 79.5L1383.0 79.5L1387.4 79.6L1391.9 79.6L1396.3 79.7L1400.7 79.8L1405.1 79.8L1409.6 79.9L1414.0 80.0L1418.4 80.0L1422.8 80.1L1427.3 80.1L1431.7 80.2L1436.1 80.2L1440.6 80.2L1445.0 80.2L1449.4 80.3L1453.8 80.3L1458.3 80.3L1462.7 80.3L1467.1 80.3L1471.5 80.4L1476.0 80.4L1480.4 80.4L1484.8 80.4L1489.2 80.5L1493.7 80.5L1498.1 80.6L1502.5 80.6L1507.0 80.7L1511.4 80.8L1515.8 80.9L1520.2 81.0L1524.7 81.1L1529.1 81.2L1533.5 81.3L1537.9 81.4L1542.4 81.6L1546.8 81.7L1551.2 81.8L1555.6 82.0L1560.1 82.1L1564.5 82.3" fill="none" stroke="#c0c0c0" stroke-width="6" stroke-dasharray="10 13" stroke-linejoin="round"/>
<polygon points="236.5,45.7 253.4,62.6 236.5,79.5 219.6,62.6" fill="#c0c0c0"/>
<polygon points="302.9,51.3 319.8,68.2 302.9,85.1 286.0,68.2" fill="#c0c0c0"/>
<polygon points="369.3,46.2 386.2,63.1 369.3,80.0 352.4,63.1" fill="#c0c0c0"/>
<polygon points="435.7,53.0 452.6,69.9 435.7,86.8 418.8,69.9" fill="#c0c0c0"/>
<polygon points="502.1,51.3 519.0,68.2 502.1,85.1 485.2,68.2" fill="#c0c0c0"/>
<polygon points="568.5,56.8 585.4,73.7 568.5,90.6 551.6,73.7" fill="#c0c0c0"/>
<polygon points="634.9,83.3 651.8,100.2 634.9,117.1 618.0,100.2" fill="#c0c0c0"/>
<polygon points="701.3,141.0 718.2,157.9 701.3,174.8 684.4,157.9" fill="#c0c0c0"/>
<polygon points="767.7,530.6 784.6,547.5 767.7,564.4 750.8,547.5" fill="#c0c0c0"/>
<polygon points="834.1,287.1 851.0,304.0 834.1,320.9 817.2,304.0" fill="#c0c0c0"/>
<polygon points="900.5,114.1 917.4,131.0 900.5,147.9 883.6,131.0" fill="#c0c0c0"/>
<polygon points="966.9,79.5 983.8,96.4 966.9,113.3 950.0,96.4" fill="#c0c0c0"/>
<polygon points="1033.3,68.0 1050.2,84.9 1033.3,101.8 1016.4,84.9" fill="#c0c0c0"/>
<polygon points="1099.7,62.4 1116.6,79.3 1099.7,96.2 1082.8,79.3" fill="#c0c0c0"/>
<polygon points="1166.1,62.0 1183.0,78.9 1166.1,95.8 1149.2,78.9" fill="#c0c0c0"/>
<polygon points="1232.5,62.0 1249.4,78.9 1232.5,95.8 1215.6,78.9" fill="#c0c0c0"/>
<polygon points="1298.9,62.0 1315.8,78.9 1298.9,95.8 1282.0,78.9" fill="#c0c0c0"/>
<polygon points="1365.3,62.4 1382.2,79.3 1365.3,96.2 1348.4,79.3" fill="#c0c0c0"/>
<polygon points="1431.7,63.3 1448.6,80.2 1431.7,97.1 1414.8,80.2" fill="#c0c0c0"/>
<polygon points="1498.1,63.7 1515.0,80.6 1498.1,97.5 1481.2,80.6" fill="#c0c0c0"/>
<polygon points="1564.5,65.4 1581.4,82.3 1564.5,99.2 1547.6,82.3" fill="#c0c0c0"/>
</g>
<path d="M215.0 60.5H234.5M225.5 167.3H234.5M215.0 274.1H234.5M225.5 380.9H234.5M215.0 487.7H234.5M225.5 594.5H234.5M215.0 701.3H234.5M225.5 808.1H234.5M215.0 914.9H234.5M225.5 1021.7H234.5M215.0 1128.5H234.5M236.5 1130.5V1150.0M347.2 1130.5V1139.5M457.8 1130.5V1150.0M568.5 1130.5V1139.5M679.2 1130.5V1150.0M789.8 1130.5V1139.5M900.5 1130.5V1150.0M1011.2 1130.5V1139.5M1121.8 1130.5V1150.0M1232.5 1130.5V1139.5M1343.2 1130.5V1150.0M1453.8 1130.5V1139.5M1564.5 1130.5V1150.0" stroke="#000" stroke-width="5" fill="none"/>
<text transform="translate(201.1 73.8)" font-size="46" text-anchor="end">0</text>
<text transform="translate(201.1 287.4)" font-size="46" text-anchor="end">-5</text>
<text transform="translate(201.1 501)" font-size="46" text-anchor="end">-10</text>
<text transform="translate(201.1 714.6)" font-size="46" text-anchor="end">-15</text>
<text transform="translate(201.1 928.2)" font-size="46" text-anchor="end">-20</text>
<text transform="translate(201.1 1141.8)" font-size="46" text-anchor="end">-25</text>
<text transform="translate(236 1199.7)" font-size="46" text-anchor="middle">1.0</text>
<text transform="translate(457.33 1199.7)" font-size="46" text-anchor="middle">1.5</text>
<text transform="translate(678.67 1199.7)" font-size="46" text-anchor="middle">2.0</text>
<text transform="translate(900 1199.7)" font-size="46" text-anchor="middle">2.5</text>
<text transform="translate(1121.33 1199.7)" font-size="46" text-anchor="middle">3.0</text>
<text transform="translate(1342.67 1199.7)" font-size="46" text-anchor="middle">3.5</text>
<text transform="translate(1564 1199.7)" font-size="46" text-anchor="middle">4.0</text>
<text transform="translate(689.9 1284.4) scale(1.0000 1.0200)" font-size="55.8">Frequency [GHz]</text>
<text transform="translate(112.1 780.49) rotate(-90) scale(1.0000 1.0500)" font-size="55.6">Magnitude [dB]</text>
<rect x="909.0" y="563.0" width="629.0" height="410.0" fill="#fff" stroke="#000" stroke-width="2"/>
<path d="M916.1 601.0H1042.0" stroke="#c0c0c0" stroke-width="5.6" stroke-dasharray="23 28.5" fill="none"/>
<rect x="967.0" y="589.0" width="24.0" height="24.0" fill="#c0c0c0"/>
<text transform="translate(0 619.6) scale(1 1.0400)" font-size="55.6"><tspan x="1056.2" y="0">S</tspan><tspan x="1095.49" y="14.71" font-size="37.34" textLength="36.08" lengthAdjust="spacingAndGlyphs">11</tspan><tspan x="1135.83" y="-3.4" font-size="70.77" textLength="30.65" lengthAdjust="spacingAndGlyphs">_</tspan><tspan x="1167.41" y="0">L</tspan><tspan x="1198.31" y="-3.4" font-size="70.77" textLength="30.17" lengthAdjust="spacingAndGlyphs">_</tspan><tspan x="1229.41" y="0">B2= </tspan><tspan x="1344.93" y="0">2.0 mm</tspan></text>
<path d="M916.1 681.5H1042.0" stroke="#808080" stroke-width="7" stroke-dasharray="5 25.9" fill="none"/>
<circle cx="979.0" cy="681.5" r="13.1" fill="#808080"/>
<text transform="translate(0 700.1) scale(1 1.0400)" font-size="55.6"><tspan x="1056.2" y="0">S</tspan><tspan x="1095.49" y="14.71" font-size="37.34" textLength="36.08" lengthAdjust="spacingAndGlyphs">11</tspan><tspan x="1135.83" y="-3.4" font-size="70.77" textLength="30.65" lengthAdjust="spacingAndGlyphs">_</tspan><tspan x="1167.41" y="0">L</tspan><tspan x="1198.31" y="-3.4" font-size="70.77" textLength="30.17" lengthAdjust="spacingAndGlyphs">_</tspan><tspan x="1229.41" y="0">B2= </tspan><tspan x="1344.93" y="0">2.5 mm</tspan></text>
<path d="M916.1 762.0H1042.0" stroke="#000000" stroke-width="6.3" fill="none"/>
<polygon points="979.0,743.5 994.5,771.4 963.5,771.4" fill="#000000"/>
<text transform="translate(0 780.6) scale(1 1.0400)" font-size="55.6"><tspan x="1056.2" y="0">S</tspan><tspan x="1095.49" y="14.71" font-size="37.34" textLength="36.08" lengthAdjust="spacingAndGlyphs">11</tspan><tspan x="1135.83" y="-3.4" font-size="70.77" textLength="30.65" lengthAdjust="spacingAndGlyphs">_</tspan><tspan x="1167.41" y="0">L</tspan><tspan x="1198.31" y="-3.4" font-size="70.77" textLength="30.17" lengthAdjust="spacingAndGlyphs">_</tspan><tspan x="1229.41" y="0">B2= </tspan><tspan x="1344.93" y="0">3.0 mm</tspan></text>
<path d="M916.1 842.5H1042.0" stroke="#808080" stroke-width="7" stroke-dasharray="20.7 16.2 4 16.2 4 16.2" fill="none"/>
<polygon points="963.5,833.1 994.5,833.1 979.0,861.0" fill="#808080"/>
<text transform="translate(0 861.1) scale(1 1.0400)" font-size="55.6"><tspan x="1056.2" y="0">S</tspan><tspan x="1095.49" y="14.71" font-size="37.34" textLength="36.08" lengthAdjust="spacingAndGlyphs">11</tspan><tspan x="1135.83" y="-3.4" font-size="70.77" textLength="30.65" lengthAdjust="spacingAndGlyphs">_</tspan><tspan x="1167.41" y="0">L</tspan><tspan x="1198.31" y="-3.4" font-size="70.77" textLength="30.17" lengthAdjust="spacingAndGlyphs">_</tspan><tspan x="1229.41" y="0">B2= </tspan><tspan x="1344.93" y="0">3.5 mm</tspan></text>
<path d="M916.1 923.0H1042.0" stroke="#c0c0c0" stroke-width="6" stroke-dasharray="10 13" fill="none"/>
<polygon points="979.0,906.1 995.9,923.0 979.0,939.9 962.1,923.0" fill="#c0c0c0"/>
<text transform="translate(0 941.6) scale(1 1.0400)" font-size="55.6"><tspan x="1056.2" y="0">S</tspan><tspan x="1095.49" y="14.71" font-size="37.34" textLength="36.08" lengthAdjust="spacingAndGlyphs">11</tspan><tspan x="1135.83" y="-3.4" font-size="70.77" textLength="30.65" lengthAdjust="spacingAndGlyphs">_</tspan><tspan x="1167.41" y="0">L</tspan><tspan x="1198.31" y="-3.4" font-size="70.77" textLength="30.17" lengthAdjust="spacingAndGlyphs">_</tspan><tspan x="1229.41" y="0">B2= </tspan><tspan x="1344.93" y="0">4.0 mm</tspan></text>
<text class="cap" transform="translate(0 1469.93) scale(1 1.0600)" font-size="81.8"><tspan x="818.02" y="0">(</tspan><tspan x="846.15" y="0" font-weight="bold" textLength="36.09" lengthAdjust="spacingAndGlyphs">c</tspan><tspan x="881.58" y="0">)</tspan></text>
</g>
<g>
<clipPath id="clip1"><rect x="215.5" y="1672.5" width="1372.0" height="1104.0"/></clipPath>
<rect x="215.5" y="1672.5" width="1372.0" height="1104.0" fill="none" stroke="#000" stroke-width="5"/>
<g clip-path="url(#clip1)">
<path d="M215.5 1682.2L220.1 1683.0L224.6 1683.4L229.2 1683.5L233.8 1682.9L238.4 1681.3L242.9 1679.3L247.5 1677.7L252.1 1676.9L256.7 1676.9L261.2 1676.8L265.8 1676.8L270.4 1676.9L275.0 1676.9L279.5 1676.9L284.1 1676.9L288.7 1676.9L293.2 1676.9L297.8 1677.0L302.4 1677.0L307.0 1677.0L311.5 1677.0L316.1 1677.1L320.7 1677.1L325.3 1677.1L329.8 1677.2L334.4 1677.2L339.0 1677.3L343.6 1677.3L348.1 1677.3L352.7 1677.4L357.3 1677.4L361.8 1677.4L366.4 1677.4L371.0 1677.4L375.6 1677.4L380.1 1677.4L384.7 1677.4L389.3 1677.4L393.9 1677.4L398.4 1677.4L403.0 1677.5L407.6 1677.5L412.2 1677.6L416.7 1677.7L421.3 1677.8L425.9 1677.9L430.4 1678.1L435.0 1678.3L439.6 1678.5L444.2 1678.7L448.7 1678.9L453.3 1679.1L457.9 1679.3L462.5 1679.5L467.0 1679.7L471.6 1680.0L476.2 1680.2L480.8 1680.4L485.3 1680.7L489.9 1680.9L494.5 1681.1L499.0 1681.3L503.6 1681.5L508.2 1681.7L512.8 1681.9L517.3 1682.1L521.9 1682.3L526.5 1682.6L531.1 1682.8L535.6 1683.0L540.2 1683.3L544.8 1683.5L549.4 1683.8L553.9 1684.1L558.5 1684.4L563.1 1684.8L567.6 1685.1L572.2 1685.5L576.8 1685.9L581.4 1686.3L585.9 1686.7L590.5 1687.2L595.1 1687.6L599.7 1688.2L604.2 1688.7L608.8 1689.4L613.4 1690.0L618.0 1690.7L622.5 1691.5L627.1 1692.4L631.7 1693.4L636.2 1694.6L640.8 1696.0L645.4 1697.5L650.0 1699.2L654.5 1701.1L659.1 1703.0L663.7 1705.1L668.3 1707.2L672.8 1709.4L673.7 1709.9L674.7 1710.3L675.6 1710.8L676.5 1711.2L677.4 1711.7L678.3 1712.1L679.2 1712.6L680.2 1713.1L681.1 1713.5L682.0 1714.0L682.9 1714.5L683.8 1714.9L684.7 1715.4L685.6 1715.9L686.6 1716.3L687.5 1716.8L688.4 1717.3L689.3 1717.8L690.2 1718.2L691.1 1718.7L692.0 1719.2L693.0 1719.6L693.9 1720.1L694.8 1720.6L695.7 1721.1L696.6 1721.6L697.5 1722.0L698.4 1722.5L699.4 1723.0L700.3 1723.5L701.2 1723.9L702.1 1724.4L703.0 1724.9L703.9 1725.4L704.8 1725.9L705.8 1726.4L706.7 1726.9L707.6 1727.4L708.5 1727.9L709.4 1728.4L710.3 1728.9L711.2 1729.4L712.2 1729.9L713.1 1730.5L714.0 1731.0L714.9 1731.5L715.8 1732.1L716.7 1732.7L717.7 1733.2L718.6 1733.8L719.5 1734.4L720.4 1735.0L721.3 1735.6L722.2 1736.2L723.1 1736.9L724.1 1737.5L725.0 1738.2L725.9 1738.8L726.8 1739.5L727.7 1740.2L728.6 1740.9L729.5 1741.6L730.5 1742.4L731.4 1743.1L732.3 1743.9L733.2 1744.7L734.1 1745.5L735.0 1746.4L735.9 1747.2L736.9 1748.1L737.8 1749.0L738.7 1749.9L739.6 1750.8L740.5 1751.8L741.4 1752.8L742.3 1753.8L743.3 1754.8L744.2 1755.9L745.1 1756.9L746.0 1758.0L746.9 1759.2L747.8 1760.4L748.8 1761.5L749.7 1762.8L750.6 1764.0L751.5 1765.3L752.4 1766.6L753.3 1768.0L754.2 1769.4L755.2 1770.8L756.1 1772.3L757.0 1773.8L757.9 1775.3L758.8 1776.9L759.7 1778.5L760.6 1780.2L761.6 1781.9L762.5 1783.7L763.4 1785.5L764.3 1787.3L765.2 1789.2L766.1 1791.2L767.0 1793.2L768.0 1795.2L768.9 1797.3L769.8 1799.5L770.7 1801.7L771.6 1804.0L772.5 1806.4L773.4 1808.8L774.4 1811.3L775.3 1813.8L776.2 1816.4L777.1 1819.0L778.0 1821.8L778.9 1824.6L779.8 1827.4L780.8 1830.4L781.7 1833.4L782.6 1836.5L783.5 1839.6L784.4 1842.9L785.3 1846.2L786.3 1849.6L787.2 1853.1L788.1 1856.6L789.0 1860.3L789.9 1864.0L790.8 1867.9L791.7 1871.8L792.7 1875.8L793.6 1879.9L794.5 1884.1L795.4 1888.5L796.3 1892.9L797.2 1897.5L798.1 1902.1L799.1 1906.9L800.0 1911.8L800.9 1916.8L801.8 1921.9L802.7 1927.2L803.6 1932.6L804.5 1938.1L805.5 1943.8L806.4 1949.6L807.3 1955.6L808.2 1961.7L809.1 1968.0L810.0 1974.4L810.9 1981.0L811.9 1987.8L812.8 1994.8L813.7 2001.9L814.6 2009.2L815.5 2016.7L816.4 2024.4L817.4 2032.3L818.3 2040.4L819.2 2048.7L820.1 2057.2L821.0 2065.9L821.9 2074.8L822.8 2084.0L823.8 2093.3L824.7 2102.9L825.6 2112.7L826.5 2122.7L827.4 2133.0L828.3 2143.4L829.2 2154.0L830.2 2164.8L831.1 2175.7L832.0 2186.8L832.9 2198.0L833.8 2209.2L834.7 2220.3L835.6 2231.2L836.6 2242.0L837.5 2252.5L838.4 2262.7L839.3 2272.5L840.2 2281.9L841.1 2290.6L842.0 2298.6L843.0 2305.8L843.9 2312.1L844.8 2317.3L845.7 2321.4L846.6 2324.2L847.5 2325.8L848.4 2326.0L849.4 2324.9L850.3 2322.4L851.2 2318.7L852.1 2313.8L853.0 2307.8L853.9 2300.8L854.9 2293.0L855.8 2284.4L856.7 2275.1L857.6 2265.4L858.5 2255.3L859.4 2244.8L860.3 2234.2L861.3 2223.4L862.2 2212.5L863.1 2201.6L864.0 2190.8L864.9 2180.0L865.8 2169.3L866.7 2158.8L867.7 2148.4L868.6 2138.2L869.5 2128.1L870.4 2118.3L871.3 2108.6L872.2 2099.2L873.1 2089.9L874.1 2080.9L875.0 2072.1L875.9 2063.5L876.8 2055.1L877.7 2046.9L878.6 2038.9L879.5 2031.1L880.5 2023.5L881.4 2016.1L882.3 2008.9L883.2 2001.9L884.1 1995.0L885.0 1988.4L886.0 1981.9L886.9 1975.5L887.8 1969.3L888.7 1963.3L889.6 1957.4L890.5 1951.7L891.4 1946.1L892.4 1940.7L893.3 1935.4L894.2 1930.2L895.1 1925.2L896.0 1920.3L896.9 1915.5L897.8 1910.9L898.8 1906.3L899.7 1901.9L900.6 1897.5L901.5 1893.3L902.4 1889.2L903.3 1885.2L904.2 1881.2L905.2 1877.4L906.1 1873.7L907.0 1870.1L907.9 1866.5L908.8 1863.0L909.7 1859.7L910.6 1856.4L911.6 1853.1L912.5 1850.0L913.4 1846.9L914.3 1844.0L915.2 1841.0L916.1 1838.2L917.0 1835.4L918.0 1832.7L918.9 1830.0L919.8 1827.4L920.7 1824.9L921.6 1822.4L922.5 1820.0L923.5 1817.6L924.4 1815.3L925.3 1813.1L926.2 1810.9L927.1 1808.7L928.0 1806.6L928.9 1804.6L929.9 1802.6L930.8 1800.6L931.7 1798.7L932.6 1796.8L933.5 1794.9L934.4 1793.1L935.3 1791.4L936.3 1789.7L937.2 1788.0L938.1 1786.3L939.0 1784.7L939.9 1783.1L940.8 1781.6L941.7 1780.1L942.7 1778.6L943.6 1777.1L944.5 1775.7L945.4 1774.3L946.3 1773.0L947.2 1771.6L948.1 1770.3L949.1 1769.0L950.0 1767.8L950.9 1766.5L951.8 1765.3L952.7 1764.1L953.6 1763.0L954.6 1761.8L955.5 1760.7L956.4 1759.6L957.3 1758.6L958.2 1757.5L959.1 1756.5L960.0 1755.4L961.0 1754.4L961.9 1753.5L962.8 1752.5L963.7 1751.6L964.6 1750.6L965.5 1749.7L966.4 1748.8L967.4 1747.9L968.3 1747.1L969.2 1746.2L970.1 1745.4L971.0 1744.5L971.9 1743.7L972.8 1742.9L973.8 1742.1L974.7 1741.4L975.6 1740.6L976.5 1739.9L977.4 1739.1L978.3 1738.4L979.2 1737.7L980.2 1737.0L981.1 1736.3L982.0 1735.7L982.9 1735.0L983.8 1734.3L984.7 1733.7L985.6 1733.1L986.6 1732.5L987.5 1731.9L988.4 1731.3L989.3 1730.7L990.2 1730.1L991.1 1729.5L992.1 1729.0L993.0 1728.4L993.9 1727.9L994.8 1727.3L995.7 1726.8L996.6 1726.3L997.5 1725.8L998.5 1725.3L999.4 1724.8L1000.3 1724.3L1001.2 1723.8L1002.1 1723.3L1003.0 1722.9L1003.9 1722.4L1004.9 1722.0L1005.8 1721.5L1006.7 1721.1L1007.6 1720.7L1008.5 1720.3L1009.4 1719.8L1010.3 1719.4L1011.3 1719.0L1012.2 1718.6L1013.1 1718.2L1014.0 1717.9L1014.9 1717.5L1015.8 1717.1L1016.7 1716.8L1017.7 1716.4L1018.6 1716.0L1019.5 1715.7L1020.4 1715.4L1021.3 1715.0L1022.2 1714.7L1023.2 1714.4L1024.1 1714.0L1025.0 1713.7L1025.9 1713.4L1026.8 1713.1L1027.7 1712.8L1028.6 1712.5L1029.6 1712.2L1030.5 1711.9L1031.4 1711.7L1032.3 1711.4L1033.2 1711.1L1034.1 1710.9L1035.0 1710.6L1036.0 1710.3L1036.9 1710.1L1037.8 1709.8L1038.7 1709.6L1043.3 1708.5L1047.8 1707.5L1052.4 1706.6L1057.0 1705.8L1061.6 1705.1L1066.1 1704.5L1070.7 1704.0L1075.3 1703.5L1079.9 1703.0L1084.4 1702.6L1089.0 1702.1L1093.6 1701.7L1098.2 1701.3L1102.7 1700.8L1107.3 1700.3L1111.9 1699.8L1116.4 1699.3L1121.0 1698.9L1125.6 1698.4L1130.2 1698.0L1134.7 1697.5L1139.3 1697.1L1143.9 1696.7L1148.5 1696.4L1153.0 1696.0L1157.6 1695.7L1162.2 1695.4L1166.8 1695.1L1171.3 1694.8L1175.9 1694.6L1180.5 1694.4L1185.0 1694.2L1189.6 1694.0L1194.2 1693.9L1198.8 1693.8L1203.3 1693.7L1207.9 1693.6L1212.5 1693.6L1217.1 1693.5L1221.6 1693.5L1226.2 1693.4L1230.8 1693.4L1235.4 1693.3L1239.9 1693.3L1244.5 1693.3L1249.1 1693.2L1253.6 1693.2L1258.2 1693.1L1262.8 1693.1L1267.4 1693.0L1271.9 1693.0L1276.5 1693.0L1281.1 1692.9L1285.7 1692.9L1290.2 1692.9L1294.8 1692.9L1299.4 1692.9L1304.0 1692.8L1308.5 1692.8L1313.1 1692.8L1317.7 1692.8L1322.2 1692.8L1326.8 1692.8L1331.4 1692.8L1336.0 1692.8L1340.5 1692.8L1345.1 1692.8L1349.7 1692.8L1354.3 1692.8L1358.8 1692.8L1363.4 1692.8L1368.0 1692.8L1372.6 1692.8L1377.1 1692.8L1381.7 1692.8L1386.3 1692.8L1390.8 1692.8L1395.4 1692.8L1400.0 1692.8L1404.6 1692.8L1409.1 1692.9L1413.7 1692.9L1418.3 1692.9L1422.9 1692.9L1427.4 1692.9L1432.0 1692.9L1436.6 1692.9L1441.2 1692.9L1445.7 1692.8L1450.3 1692.8L1454.9 1692.8L1459.4 1692.8L1464.0 1692.7L1468.6 1692.7L1473.2 1692.6L1477.7 1692.6L1482.3 1692.6L1486.9 1692.5L1491.5 1692.5L1496.0 1692.5L1500.6 1692.4L1505.2 1692.4L1509.8 1692.4L1514.3 1692.4L1518.9 1692.4L1523.5 1692.4L1528.0 1692.4L1532.6 1692.5L1537.2 1692.7L1541.8 1692.9L1546.3 1693.1L1550.9 1693.3L1555.5 1693.6L1560.1 1693.9L1564.6 1694.2L1569.2 1694.5L1573.8 1694.8L1578.4 1695.2L1582.9 1695.5L1587.5 1695.9" fill="none" stroke="#808080" stroke-width="6" stroke-dasharray="23.1 29.5" stroke-linejoin="round"/>
<polygon points="196.8,1682.2 224.9,1666.3 224.9,1698.1" fill="#808080"/>
<polygon points="265.4,1676.9 293.5,1661.0 293.5,1692.8" fill="#808080"/>
<polygon points="334.0,1677.4 362.1,1661.5 362.1,1693.3" fill="#808080"/>
<polygon points="402.6,1677.8 430.7,1661.9 430.7,1693.7" fill="#808080"/>
<polygon points="471.2,1680.9 499.3,1665.0 499.3,1696.8" fill="#808080"/>
<polygon points="539.8,1684.4 567.9,1668.5 567.9,1700.3" fill="#808080"/>
<polygon points="608.4,1692.4 636.5,1676.5 636.5,1708.3" fill="#808080"/>
<polygon points="677.0,1721.1 705.1,1705.2 705.1,1737.0" fill="#808080"/>
<polygon points="745.6,1787.3 773.7,1771.4 773.7,1803.2" fill="#808080"/>
<polygon points="814.2,2198.0 842.3,2182.1 842.3,2213.9" fill="#808080"/>
<polygon points="882.8,1893.3 910.9,1877.4 910.9,1909.2" fill="#808080"/>
<polygon points="951.4,1745.4 979.5,1729.5 979.5,1761.3" fill="#808080"/>
<polygon points="1020.0,1709.6 1048.1,1693.7 1048.1,1725.5" fill="#808080"/>
<polygon points="1088.6,1700.3 1116.7,1684.4 1116.7,1716.2" fill="#808080"/>
<polygon points="1157.2,1694.6 1185.3,1678.7 1185.3,1710.5" fill="#808080"/>
<polygon points="1225.8,1693.3 1253.9,1677.4 1253.9,1709.2" fill="#808080"/>
<polygon points="1294.4,1692.8 1322.5,1676.9 1322.5,1708.7" fill="#808080"/>
<polygon points="1363.0,1692.8 1391.1,1676.9 1391.1,1708.7" fill="#808080"/>
<polygon points="1431.6,1692.8 1459.7,1676.9 1459.7,1708.7" fill="#808080"/>
<polygon points="1500.2,1692.4 1528.3,1676.5 1528.3,1708.3" fill="#808080"/>
<polygon points="1568.8,1695.9 1596.9,1680.0 1596.9,1711.8" fill="#808080"/>
<path d="M215.5 1682.2L220.1 1683.0L224.6 1683.4L229.2 1683.5L233.8 1682.9L238.4 1681.3L242.9 1679.3L247.5 1677.7L252.1 1676.9L256.7 1676.9L261.2 1676.8L265.8 1676.8L270.4 1676.9L275.0 1676.9L279.5 1676.9L284.1 1676.9L288.7 1676.9L293.2 1676.9L297.8 1677.0L302.4 1677.0L307.0 1677.0L311.5 1677.0L316.1 1677.1L320.7 1677.1L325.3 1677.1L329.8 1677.2L334.4 1677.2L339.0 1677.3L343.6 1677.3L348.1 1677.3L352.7 1677.4L357.3 1677.4L361.8 1677.4L366.4 1677.4L371.0 1677.4L375.6 1677.4L380.1 1677.4L384.7 1677.4L389.3 1677.4L393.9 1677.4L398.4 1677.4L403.0 1677.5L407.6 1677.5L412.2 1677.6L416.7 1677.7L421.3 1677.8L425.9 1677.9L430.4 1678.1L435.0 1678.3L439.6 1678.5L444.2 1678.7L448.7 1678.9L453.3 1679.1L457.9 1679.3L462.5 1679.5L467.0 1679.7L471.6 1680.0L476.2 1680.2L480.8 1680.4L485.3 1680.7L489.9 1680.9L494.5 1681.1L499.0 1681.3L503.6 1681.5L508.2 1681.7L512.8 1681.9L517.3 1682.1L521.9 1682.3L526.5 1682.6L531.1 1682.8L535.6 1683.0L540.2 1683.3L544.8 1683.5L549.4 1683.8L553.9 1684.1L558.5 1684.4L563.1 1684.8L567.6 1685.1L572.2 1685.5L576.8 1685.9L581.4 1686.3L585.9 1686.7L590.5 1687.2L595.1 1687.6L599.7 1688.2L604.2 1688.7L608.8 1689.4L613.4 1690.0L618.0 1690.7L622.5 1691.5L627.1 1692.4L631.7 1693.4L636.2 1694.6L640.8 1696.0L645.4 1697.5L650.0 1699.2L654.5 1701.1L659.1 1703.0L663.7 1705.1L668.3 1707.2L672.8 1709.4L673.7 1709.9L674.7 1710.3L675.6 1710.8L676.5 1711.2L677.4 1711.7L678.3 1712.1L679.2 1712.6L680.2 1713.1L681.1 1713.5L682.0 1714.0L682.9 1714.5L683.8 1714.9L684.7 1715.4L685.6 1715.9L686.6 1716.3L687.5 1716.8L688.4 1717.3L689.3 1717.8L690.2 1718.2L691.1 1718.7L692.0 1719.2L693.0 1719.6L693.9 1720.1L694.8 1720.6L695.7 1721.1L696.6 1721.6L697.5 1722.0L698.4 1722.5L699.4 1723.0L700.3 1723.5L701.2 1723.9L702.1 1724.4L703.0 1724.9L703.9 1725.4L704.8 1725.9L705.8 1726.4L706.7 1726.9L707.6 1727.4L708.5 1727.9L709.4 1728.4L710.3 1728.9L711.2 1729.4L712.2 1729.9L713.1 1730.5L714.0 1731.0L714.9 1731.5L715.8 1732.1L716.7 1732.7L717.7 1733.2L718.6 1733.8L719.5 1734.4L720.4 1735.0L721.3 1735.6L722.2 1736.2L723.1 1736.9L724.1 1737.5L725.0 1738.2L725.9 1738.8L726.8 1739.5L727.7 1740.2L728.6 1740.9L729.5 1741.6L730.5 1742.4L731.4 1743.1L732.3 1743.9L733.2 1744.7L734.1 1745.5L735.0 1746.4L735.9 1747.2L736.9 1748.1L737.8 1749.0L738.7 1749.9L739.6 1750.8L740.5 1751.8L741.4 1752.8L742.3 1753.8L743.3 1754.8L744.2 1755.9L745.1 1756.9L746.0 1758.0L746.9 1759.2L747.8 1760.4L748.8 1761.5L749.7 1762.8L750.6 1764.0L751.5 1765.3L752.4 1766.6L753.3 1768.0L754.2 1769.4L755.2 1770.8L756.1 1772.3L757.0 1773.8L757.9 1775.3L758.8 1776.9L759.7 1778.5L760.6 1780.2L761.6 1781.9L762.5 1783.7L763.4 1785.5L764.3 1787.3L765.2 1789.2L766.1 1791.2L767.0 1793.2L768.0 1795.2L768.9 1797.3L769.8 1799.5L770.7 1801.7L771.6 1804.0L772.5 1806.4L773.4 1808.8L774.4 1811.3L775.3 1813.8L776.2 1816.4L777.1 1819.0L778.0 1821.8L778.9 1824.6L779.8 1827.4L780.8 1830.4L781.7 1833.4L782.6 1836.5L783.5 1839.6L784.4 1842.9L785.3 1846.2L786.3 1849.6L787.2 1853.1L788.1 1856.6L789.0 1860.3L789.9 1864.0L790.8 1867.9L791.7 1871.8L792.7 1875.8L793.6 1879.9L794.5 1884.1L795.4 1888.5L796.3 1892.9L797.2 1897.5L798.1 1902.1L799.1 1906.9L800.0 1911.8L800.9 1916.8L801.8 1921.9L802.7 1927.2L803.6 1932.6L804.5 1938.1L805.5 1943.8L806.4 1949.6L807.3 1955.6L808.2 1961.7L809.1 1968.0L810.0 1974.4L810.9 1981.0L811.9 1987.8L812.8 1994.8L813.7 2001.9L814.6 2009.2L815.5 2016.7L816.4 2024.4L817.4 2032.3L818.3 2040.4L819.2 2048.7L820.1 2057.2L821.0 2065.9L821.9 2074.8L822.8 2084.0L823.8 2093.3L824.7 2102.9L825.6 2112.7L826.5 2122.7L827.4 2133.0L828.3 2143.4L829.2 2154.0L830.2 2164.8L831.1 2175.7L832.0 2186.8L832.9 2198.0L833.8 2209.2L834.7 2220.3L835.6 2231.2L836.6 2242.0L837.5 2252.5L838.4 2262.7L839.3 2272.5L840.2 2281.9L841.1 2290.6L842.0 2298.6L843.0 2305.8L843.9 2312.1L844.8 2317.3L845.7 2321.4L846.6 2324.2L847.5 2325.8L848.4 2326.0L849.4 2324.9L850.3 2322.4L851.2 2318.7L852.1 2313.8L853.0 2307.8L853.9 2300.8L854.9 2293.0L855.8 2284.4L856.7 2275.1L857.6 2265.4L858.5 2255.3L859.4 2244.8L860.3 2234.2L861.3 2223.4L862.2 2212.5L863.1 2201.6L864.0 2190.8L864.9 2180.0L865.8 2169.3L866.7 2158.8L867.7 2148.4L868.6 2138.2L869.5 2128.1L870.4 2118.3L871.3 2108.6L872.2 2099.2L873.1 2089.9L874.1 2080.9L875.0 2072.1L875.9 2063.5L876.8 2055.1L877.7 2046.9L878.6 2038.9L879.5 2031.1L880.5 2023.5L881.4 2016.1L882.3 2008.9L883.2 2001.9L884.1 1995.0L885.0 1988.4L886.0 1981.9L886.9 1975.5L887.8 1969.3L888.7 1963.3L889.6 1957.4L890.5 1951.7L891.4 1946.1L892.4 1940.7L893.3 1935.4L894.2 1930.2L895.1 1925.2L896.0 1920.3L896.9 1915.5L897.8 1910.9L898.8 1906.3L899.7 1901.9L900.6 1897.5L901.5 1893.3L902.4 1889.2L903.3 1885.2L904.2 1881.2L905.2 1877.4L906.1 1873.7L907.0 1870.1L907.9 1866.5L908.8 1863.0L909.7 1859.7L910.6 1856.4L911.6 1853.1L912.5 1850.0L913.4 1846.9L914.3 1844.0L915.2 1841.0L916.1 1838.2L917.0 1835.4L918.0 1832.7L918.9 1830.0L919.8 1827.4L920.7 1824.9L921.6 1822.4L922.5 1820.0L923.5 1817.6L924.4 1815.3L925.3 1813.1L926.2 1810.9L927.1 1808.7L928.0 1806.6L928.9 1804.6L929.9 1802.6L930.8 1800.6L931.7 1798.7L932.6 1796.8L933.5 1794.9L934.4 1793.1L935.3 1791.4L936.3 1789.7L937.2 1788.0L938.1 1786.3L939.0 1784.7L939.9 1783.1L940.8 1781.6L941.7 1780.1L942.7 1778.6L943.6 1777.1L944.5 1775.7L945.4 1774.3L946.3 1773.0L947.2 1771.6L948.1 1770.3L949.1 1769.0L950.0 1767.8L950.9 1766.5L951.8 1765.3L952.7 1764.1L953.6 1763.0L954.6 1761.8L955.5 1760.7L956.4 1759.6L957.3 1758.6L958.2 1757.5L959.1 1756.5L960.0 1755.4L961.0 1754.4L961.9 1753.5L962.8 1752.5L963.7 1751.6L964.6 1750.6L965.5 1749.7L966.4 1748.8L967.4 1747.9L968.3 1747.1L969.2 1746.2L970.1 1745.4L971.0 1744.5L971.9 1743.7L972.8 1742.9L973.8 1742.1L974.7 1741.4L975.6 1740.6L976.5 1739.9L977.4 1739.1L978.3 1738.4L979.2 1737.7L980.2 1737.0L981.1 1736.3L982.0 1735.7L982.9 1735.0L983.8 1734.3L984.7 1733.7L985.6 1733.1L986.6 1732.5L987.5 1731.9L988.4 1731.3L989.3 1730.7L990.2 1730.1L991.1 1729.5L992.1 1729.0L993.0 1728.4L993.9 1727.9L994.8 1727.3L995.7 1726.8L996.6 1726.3L997.5 1725.8L998.5 1725.3L999.4 1724.8L1000.3 1724.3L1001.2 1723.8L1002.1 1723.3L1003.0 1722.9L1003.9 1722.4L1004.9 1722.0L1005.8 1721.5L1006.7 1721.1L1007.6 1720.7L1008.5 1720.3L1009.4 1719.8L1010.3 1719.4L1011.3 1719.0L1012.2 1718.6L1013.1 1718.2L1014.0 1717.9L1014.9 1717.5L1015.8 1717.1L1016.7 1716.8L1017.7 1716.4L1018.6 1716.0L1019.5 1715.7L1020.4 1715.4L1021.3 1715.0L1022.2 1714.7L1023.2 1714.4L1024.1 1714.0L1025.0 1713.7L1025.9 1713.4L1026.8 1713.1L1027.7 1712.8L1028.6 1712.5L1029.6 1712.2L1030.5 1711.9L1031.4 1711.7L1032.3 1711.4L1033.2 1711.1L1034.1 1710.9L1035.0 1710.6L1036.0 1710.3L1036.9 1710.1L1037.8 1709.8L1038.7 1709.6L1043.3 1708.5L1047.8 1707.5L1052.4 1706.6L1057.0 1705.8L1061.6 1705.1L1066.1 1704.5L1070.7 1704.0L1075.3 1703.5L1079.9 1703.0L1084.4 1702.6L1089.0 1702.1L1093.6 1701.7L1098.2 1701.3L1102.7 1700.8L1107.3 1700.3L1111.9 1699.8L1116.4 1699.3L1121.0 1698.9L1125.6 1698.4L1130.2 1698.0L1134.7 1697.5L1139.3 1697.1L1143.9 1696.7L1148.5 1696.4L1153.0 1696.0L1157.6 1695.7L1162.2 1695.4L1166.8 1695.1L1171.3 1694.8L1175.9 1694.6L1180.5 1694.4L1185.0 1694.2L1189.6 1694.0L1194.2 1693.9L1198.8 1693.8L1203.3 1693.7L1207.9 1693.6L1212.5 1693.6L1217.1 1693.5L1221.6 1693.5L1226.2 1693.4L1230.8 1693.4L1235.4 1693.3L1239.9 1693.3L1244.5 1693.3L1249.1 1693.2L1253.6 1693.2L1258.2 1693.1L1262.8 1693.1L1267.4 1693.0L1271.9 1693.0L1276.5 1693.0L1281.1 1692.9L1285.7 1692.9L1290.2 1692.9L1294.8 1692.9L1299.4 1692.9L1304.0 1692.8L1308.5 1692.8L1313.1 1692.8L1317.7 1692.8L1322.2 1692.8L1326.8 1692.8L1331.4 1692.8L1336.0 1692.8L1340.5 1692.8L1345.1 1692.8L1349.7 1692.8L1354.3 1692.8L1358.8 1692.8L1363.4 1692.8L1368.0 1692.8L1372.6 1692.8L1377.1 1692.8L1381.7 1692.8L1386.3 1692.8L1390.8 1692.8L1395.4 1692.8L1400.0 1692.8L1404.6 1692.8L1409.1 1692.9L1413.7 1692.9L1418.3 1692.9L1422.9 1692.9L1427.4 1692.9L1432.0 1692.9L1436.6 1692.9L1441.2 1692.9L1445.7 1692.8L1450.3 1692.8L1454.9 1692.8L1459.4 1692.8L1464.0 1692.7L1468.6 1692.7L1473.2 1692.6L1477.7 1692.6L1482.3 1692.6L1486.9 1692.5L1491.5 1692.5L1496.0 1692.5L1500.6 1692.4L1505.2 1692.4L1509.8 1692.4L1514.3 1692.4L1518.9 1692.4L1523.5 1692.4L1528.0 1692.4L1532.6 1692.5L1537.2 1692.7L1541.8 1692.9L1546.3 1693.1L1550.9 1693.3L1555.5 1693.6L1560.1 1693.9L1564.6 1694.2L1569.2 1694.5L1573.8 1694.8L1578.4 1695.2L1582.9 1695.5L1587.5 1695.9" fill="none" stroke="#808080" stroke-width="6" stroke-dasharray="4.5 26.9" stroke-linejoin="round"/>
<polygon points="206.1,1666.3 234.4,1682.2 206.1,1698.1" fill="#808080"/>
<polygon points="274.7,1661.0 303.0,1676.9 274.7,1692.8" fill="#808080"/>
<polygon points="343.3,1661.5 371.6,1677.4 343.3,1693.3" fill="#808080"/>
<polygon points="411.9,1661.9 440.2,1677.8 411.9,1693.7" fill="#808080"/>
<polygon points="480.5,1665.0 508.8,1680.9 480.5,1696.8" fill="#808080"/>
<polygon points="549.1,1668.5 577.4,1684.4 549.1,1700.3" fill="#808080"/>
<polygon points="617.7,1676.5 646.0,1692.4 617.7,1708.3" fill="#808080"/>
<polygon points="686.3,1705.2 714.6,1721.1 686.3,1737.0" fill="#808080"/>
<polygon points="754.9,1771.4 783.2,1787.3 754.9,1803.2" fill="#808080"/>
<polygon points="823.5,2182.1 851.8,2198.0 823.5,2213.9" fill="#808080"/>
<polygon points="892.1,1877.4 920.4,1893.3 892.1,1909.2" fill="#808080"/>
<polygon points="960.7,1729.5 989.0,1745.4 960.7,1761.3" fill="#808080"/>
<polygon points="1029.3,1693.7 1057.6,1709.6 1029.3,1725.5" fill="#808080"/>
<polygon points="1097.9,1684.4 1126.2,1700.3 1097.9,1716.2" fill="#808080"/>
<polygon points="1166.5,1678.7 1194.8,1694.6 1166.5,1710.5" fill="#808080"/>
<polygon points="1235.1,1677.4 1263.4,1693.3 1235.1,1709.2" fill="#808080"/>
<polygon points="1303.7,1676.9 1332.0,1692.8 1303.7,1708.7" fill="#808080"/>
<polygon points="1372.3,1676.9 1400.6,1692.8 1372.3,1708.7" fill="#808080"/>
<polygon points="1440.9,1676.9 1469.2,1692.8 1440.9,1708.7" fill="#808080"/>
<polygon points="1509.5,1676.5 1537.8,1692.4 1509.5,1708.3" fill="#808080"/>
<polygon points="1578.1,1680.0 1606.4,1695.9 1578.1,1711.8" fill="#808080"/>
<path d="M215.5 1682.2L220.1 1683.0L224.6 1683.4L229.2 1683.5L233.8 1682.9L238.4 1681.3L242.9 1679.3L247.5 1677.7L252.1 1676.9L256.7 1676.9L261.2 1676.8L265.8 1676.8L270.4 1676.9L275.0 1676.9L279.5 1676.9L284.1 1676.9L288.7 1676.9L293.2 1676.9L297.8 1677.0L302.4 1677.0L307.0 1677.0L311.5 1677.0L316.1 1677.1L320.7 1677.1L325.3 1677.1L329.8 1677.2L334.4 1677.2L339.0 1677.3L343.6 1677.3L348.1 1677.3L352.7 1677.4L357.3 1677.4L361.8 1677.4L366.4 1677.4L371.0 1677.4L375.6 1677.4L380.1 1677.4L384.7 1677.4L389.3 1677.4L393.9 1677.4L398.4 1677.4L403.0 1677.5L407.6 1677.5L412.2 1677.6L416.7 1677.7L421.3 1677.8L425.9 1677.9L430.4 1678.1L435.0 1678.3L439.6 1678.5L444.2 1678.7L448.7 1678.9L453.3 1679.1L457.9 1679.3L462.5 1679.5L467.0 1679.7L471.6 1680.0L476.2 1680.2L480.8 1680.4L485.3 1680.7L489.9 1680.9L494.5 1681.1L499.0 1681.3L503.6 1681.5L508.2 1681.7L512.8 1681.9L517.3 1682.1L521.9 1682.3L526.5 1682.6L531.1 1682.8L535.6 1683.0L540.2 1683.3L544.8 1683.5L549.4 1683.8L553.9 1684.1L558.5 1684.4L563.1 1684.8L567.6 1685.1L572.2 1685.5L576.8 1685.9L581.4 1686.3L585.9 1686.7L590.5 1687.2L595.1 1687.6L599.7 1688.2L604.2 1688.7L608.8 1689.4L613.4 1690.0L618.0 1690.7L622.5 1691.5L627.1 1692.4L631.7 1693.4L636.2 1694.6L640.8 1696.0L645.4 1697.5L650.0 1699.2L654.5 1701.1L659.1 1703.0L663.7 1705.1L668.3 1707.2L672.8 1709.4L673.7 1709.9L674.7 1710.3L675.6 1710.8L676.5 1711.2L677.4 1711.7L678.3 1712.1L679.2 1712.6L680.2 1713.1L681.1 1713.5L682.0 1714.0L682.9 1714.5L683.8 1714.9L684.7 1715.4L685.6 1715.9L686.6 1716.3L687.5 1716.8L688.4 1717.3L689.3 1717.8L690.2 1718.2L691.1 1718.7L692.0 1719.2L693.0 1719.6L693.9 1720.1L694.8 1720.6L695.7 1721.1L696.6 1721.6L697.5 1722.0L698.4 1722.5L699.4 1723.0L700.3 1723.5L701.2 1723.9L702.1 1724.4L703.0 1724.9L703.9 1725.4L704.8 1725.9L705.8 1726.4L706.7 1726.9L707.6 1727.4L708.5 1727.9L709.4 1728.4L710.3 1728.9L711.2 1729.4L712.2 1729.9L713.1 1730.5L714.0 1731.0L714.9 1731.5L715.8 1732.1L716.7 1732.7L717.7 1733.2L718.6 1733.8L719.5 1734.4L720.4 1735.0L721.3 1735.6L722.2 1736.2L723.1 1736.9L724.1 1737.5L725.0 1738.2L725.9 1738.8L726.8 1739.5L727.7 1740.2L728.6 1740.9L729.5 1741.6L730.5 1742.4L731.4 1743.1L732.3 1743.9L733.2 1744.7L734.1 1745.5L735.0 1746.4L735.9 1747.2L736.9 1748.1L737.8 1749.0L738.7 1749.9L739.6 1750.8L740.5 1751.8L741.4 1752.8L742.3 1753.8L743.3 1754.8L744.2 1755.9L745.1 1756.9L746.0 1758.0L746.9 1759.2L747.8 1760.4L748.8 1761.5L749.7 1762.8L750.6 1764.0L751.5 1765.3L752.4 1766.6L753.3 1768.0L754.2 1769.4L755.2 1770.8L756.1 1772.3L757.0 1773.8L757.9 1775.3L758.8 1776.9L759.7 1778.5L760.6 1780.2L761.6 1781.9L762.5 1783.7L763.4 1785.5L764.3 1787.3L765.2 1789.2L766.1 1791.2L767.0 1793.2L768.0 1795.3L768.9 1797.4L769.8 1799.6L770.7 1801.8L771.6 1804.1L772.5 1806.5L773.4 1808.9L774.4 1811.4L775.3 1814.0L776.2 1816.6L777.1 1819.3L778.0 1822.1L778.9 1824.9L779.8 1827.8L780.8 1830.8L781.7 1833.9L782.6 1837.0L783.5 1840.2L784.4 1843.5L785.3 1846.9L786.3 1850.3L787.2 1853.9L788.1 1857.5L789.0 1861.2L789.9 1865.0L790.8 1868.9L791.7 1872.9L792.7 1877.0L793.6 1881.1L794.5 1885.4L795.4 1889.8L796.3 1894.3L797.2 1898.9L798.1 1903.6L799.1 1908.5L800.0 1913.4L800.9 1918.5L801.8 1923.7L802.7 1929.0L803.6 1934.5L804.5 1940.1L805.5 1945.8L806.4 1951.7L807.3 1957.7L808.2 1963.9L809.1 1970.2L810.0 1976.7L810.9 1983.4L811.9 1990.2L812.8 1997.2L813.7 2004.4L814.6 2011.8L815.5 2019.3L816.4 2027.0L817.4 2035.0L818.3 2043.1L819.2 2051.4L820.1 2060.0L821.0 2068.7L821.9 2077.7L822.8 2086.9L823.8 2096.3L824.7 2105.9L825.6 2115.7L826.5 2125.8L827.4 2136.0L828.3 2146.4L829.2 2157.1L830.2 2167.9L831.1 2178.8L832.0 2189.9L832.9 2201.1L833.8 2212.2L834.7 2223.2L835.6 2234.0L836.6 2244.6L837.5 2254.9L838.4 2264.9L839.3 2274.4L840.2 2283.5L841.1 2292.0L842.0 2299.7L843.0 2306.7L843.9 2312.7L844.8 2317.7L845.7 2321.6L846.6 2324.3L847.5 2325.8L848.4 2326.0L849.4 2324.9L850.3 2322.4L851.2 2318.7L852.1 2313.8L853.0 2307.8L853.9 2300.8L854.9 2293.0L855.8 2284.4L856.7 2275.1L857.6 2265.4L858.5 2255.3L859.4 2244.8L860.3 2234.2L861.3 2223.4L862.2 2212.5L863.1 2201.6L864.0 2190.8L864.9 2180.0L865.8 2169.3L866.7 2158.8L867.7 2148.4L868.6 2138.2L869.5 2128.1L870.4 2118.3L871.3 2108.6L872.2 2099.2L873.1 2089.9L874.1 2080.9L875.0 2072.1L875.9 2063.5L876.8 2055.1L877.7 2046.9L878.6 2038.9L879.5 2031.1L880.5 2023.5L881.4 2016.1L882.3 2008.9L883.2 2001.9L884.1 1995.0L885.0 1988.4L886.0 1981.9L886.9 1975.5L887.8 1969.3L888.7 1963.3L889.6 1957.4L890.5 1951.7L891.4 1946.1L892.4 1940.7L893.3 1935.4L894.2 1930.2L895.1 1925.2L896.0 1920.3L896.9 1915.5L897.8 1910.8L898.8 1906.3L899.7 1901.9L900.6 1897.5L901.5 1893.3L902.4 1889.2L903.3 1885.2L904.2 1881.2L905.2 1877.4L906.1 1873.7L907.0 1870.1L907.9 1866.5L908.8 1863.0L909.7 1859.7L910.6 1856.4L911.6 1853.1L912.5 1850.0L913.4 1846.9L914.3 1844.0L915.2 1841.0L916.1 1838.2L917.0 1835.4L918.0 1832.7L918.9 1830.0L919.8 1827.4L920.7 1824.9L921.6 1822.4L922.5 1820.0L923.5 1817.6L924.4 1815.3L925.3 1813.1L926.2 1810.9L927.1 1808.7L928.0 1806.6L928.9 1804.6L929.9 1802.6L930.8 1800.6L931.7 1798.7L932.6 1796.8L933.5 1794.9L934.4 1793.1L935.3 1791.4L936.3 1789.7L937.2 1788.0L938.1 1786.3L939.0 1784.7L939.9 1783.1L940.8 1781.6L941.7 1780.1L942.7 1778.6L943.6 1777.1L944.5 1775.7L945.4 1774.3L946.3 1773.0L947.2 1771.6L948.1 1770.3L949.1 1769.0L950.0 1767.8L950.9 1766.5L951.8 1765.3L952.7 1764.1L953.6 1763.0L954.6 1761.8L955.5 1760.7L956.4 1759.6L957.3 1758.6L958.2 1757.5L959.1 1756.5L960.0 1755.4L961.0 1754.4L961.9 1753.5L962.8 1752.5L963.7 1751.6L964.6 1750.6L965.5 1749.7L966.4 1748.8L967.4 1747.9L968.3 1747.1L969.2 1746.2L970.1 1745.4L971.0 1744.5L971.9 1743.7L972.8 1742.9L973.8 1742.1L974.7 1741.4L975.6 1740.6L976.5 1739.9L977.4 1739.1L978.3 1738.4L979.2 1737.7L980.2 1737.0L981.1 1736.3L982.0 1735.7L982.9 1735.0L983.8 1734.3L984.7 1733.7L985.6 1733.1L986.6 1732.5L987.5 1731.9L988.4 1731.3L989.3 1730.7L990.2 1730.1L991.1 1729.5L992.1 1729.0L993.0 1728.4L993.9 1727.9L994.8 1727.3L995.7 1726.8L996.6 1726.3L997.5 1725.8L998.5 1725.3L999.4 1724.8L1000.3 1724.3L1001.2 1723.8L1002.1 1723.3L1003.0 1722.9L1003.9 1722.4L1004.9 1722.0L1005.8 1721.5L1006.7 1721.1L1007.6 1720.7L1008.5 1720.3L1009.4 1719.8L1010.3 1719.4L1011.3 1719.0L1012.2 1718.6L1013.1 1718.2L1014.0 1717.9L1014.9 1717.5L1015.8 1717.1L1016.7 1716.8L1017.7 1716.4L1018.6 1716.0L1019.5 1715.7L1020.4 1715.4L1021.3 1715.0L1022.2 1714.7L1023.2 1714.4L1024.1 1714.0L1025.0 1713.7L1025.9 1713.4L1026.8 1713.1L1027.7 1712.8L1028.6 1712.5L1029.6 1712.2L1030.5 1711.9L1031.4 1711.7L1032.3 1711.4L1033.2 1711.1L1034.1 1710.9L1035.0 1710.6L1036.0 1710.3L1036.9 1710.1L1037.8 1709.8L1038.7 1709.6L1043.3 1708.5L1047.8 1707.5L1052.4 1706.6L1057.0 1705.8L1061.6 1705.1L1066.1 1704.5L1070.7 1704.0L1075.3 1703.5L1079.9 1703.0L1084.4 1702.6L1089.0 1702.1L1093.6 1701.7L1098.2 1701.3L1102.7 1700.8L1107.3 1700.3L1111.9 1699.8L1116.4 1699.3L1121.0 1698.9L1125.6 1698.4L1130.2 1698.0L1134.7 1697.5L1139.3 1697.1L1143.9 1696.7L1148.5 1696.4L1153.0 1696.0L1157.6 1695.7L1162.2 1695.4L1166.8 1695.1L1171.3 1694.8L1175.9 1694.6L1180.5 1694.4L1185.0 1694.2L1189.6 1694.0L1194.2 1693.9L1198.8 1693.8L1203.3 1693.7L1207.9 1693.6L1212.5 1693.6L1217.1 1693.5L1221.6 1693.5L1226.2 1693.4L1230.8 1693.4L1235.4 1693.3L1239.9 1693.3L1244.5 1693.3L1249.1 1693.2L1253.6 1693.2L1258.2 1693.1L1262.8 1693.1L1267.4 1693.0L1271.9 1693.0L1276.5 1693.0L1281.1 1692.9L1285.7 1692.9L1290.2 1692.9L1294.8 1692.9L1299.4 1692.9L1304.0 1692.8L1308.5 1692.8L1313.1 1692.8L1317.7 1692.8L1322.2 1692.8L1326.8 1692.8L1331.4 1692.8L1336.0 1692.8L1340.5 1692.8L1345.1 1692.8L1349.7 1692.8L1354.3 1692.8L1358.8 1692.8L1363.4 1692.8L1368.0 1692.8L1372.6 1692.8L1377.1 1692.8L1381.7 1692.8L1386.3 1692.8L1390.8 1692.8L1395.4 1692.8L1400.0 1692.8L1404.6 1692.8L1409.1 1692.9L1413.7 1692.9L1418.3 1692.9L1422.9 1692.9L1427.4 1692.9L1432.0 1692.9L1436.6 1692.9L1441.2 1692.9L1445.7 1692.8L1450.3 1692.8L1454.9 1692.8L1459.4 1692.8L1464.0 1692.7L1468.6 1692.7L1473.2 1692.6L1477.7 1692.6L1482.3 1692.6L1486.9 1692.5L1491.5 1692.5L1496.0 1692.5L1500.6 1692.4L1505.2 1692.4L1509.8 1692.4L1514.3 1692.4L1518.9 1692.4L1523.5 1692.4L1528.0 1692.4L1532.6 1692.5L1537.2 1692.7L1541.8 1692.9L1546.3 1693.1L1550.9 1693.3L1555.5 1693.6L1560.1 1693.9L1564.6 1694.2L1569.2 1694.5L1573.8 1694.8L1578.4 1695.2L1582.9 1695.5L1587.5 1695.9" fill="none" stroke="#000000" stroke-width="6.8" stroke-linejoin="round"/>
<polygon points="215.5,1667.3 202.6,1674.8 202.6,1689.7 215.5,1697.1 228.4,1689.7 228.4,1674.8" fill="#000000"/>
<polygon points="284.1,1662.0 271.2,1669.5 271.2,1684.4 284.1,1691.8 297.0,1684.4 297.0,1669.5" fill="#000000"/>
<polygon points="352.7,1662.5 339.8,1669.9 339.8,1684.8 352.7,1692.3 365.6,1684.8 365.6,1669.9" fill="#000000"/>
<polygon points="421.3,1662.9 408.4,1670.3 408.4,1685.2 421.3,1692.7 434.2,1685.2 434.2,1670.3" fill="#000000"/>
<polygon points="489.9,1666.0 477.0,1673.4 477.0,1688.3 489.9,1695.8 502.8,1688.3 502.8,1673.4" fill="#000000"/>
<polygon points="558.5,1669.5 545.6,1677.0 545.6,1691.9 558.5,1699.3 571.4,1691.9 571.4,1677.0" fill="#000000"/>
<polygon points="627.1,1677.5 614.2,1684.9 614.2,1699.8 627.1,1707.3 640.0,1699.8 640.0,1684.9" fill="#000000"/>
<polygon points="695.7,1706.2 682.8,1713.6 682.8,1728.5 695.7,1736.0 708.6,1728.5 708.6,1713.6" fill="#000000"/>
<polygon points="764.3,1772.4 751.4,1779.9 751.4,1794.8 764.3,1802.2 777.2,1794.8 777.2,1779.9" fill="#000000"/>
<polygon points="832.9,2186.2 820.0,2193.6 820.0,2208.5 832.9,2216.0 845.8,2208.5 845.8,2193.6" fill="#000000"/>
<polygon points="901.5,1878.4 888.6,1885.8 888.6,1900.8 901.5,1908.2 914.4,1900.8 914.4,1885.8" fill="#000000"/>
<polygon points="970.1,1730.5 957.2,1737.9 957.2,1752.8 970.1,1760.3 983.0,1752.8 983.0,1737.9" fill="#000000"/>
<polygon points="1038.7,1694.7 1025.8,1702.1 1025.8,1717.0 1038.7,1724.5 1051.6,1717.0 1051.6,1702.1" fill="#000000"/>
<polygon points="1107.3,1685.4 1094.4,1692.9 1094.4,1707.8 1107.3,1715.2 1120.2,1707.8 1120.2,1692.9" fill="#000000"/>
<polygon points="1175.9,1679.7 1163.0,1687.1 1163.0,1702.0 1175.9,1709.5 1188.8,1702.0 1188.8,1687.1" fill="#000000"/>
<polygon points="1244.5,1678.4 1231.6,1685.8 1231.6,1700.7 1244.5,1708.2 1257.4,1700.7 1257.4,1685.8" fill="#000000"/>
<polygon points="1313.1,1677.9 1300.2,1685.4 1300.2,1700.3 1313.1,1707.7 1326.0,1700.3 1326.0,1685.4" fill="#000000"/>
<polygon points="1381.7,1677.9 1368.8,1685.4 1368.8,1700.3 1381.7,1707.7 1394.6,1700.3 1394.6,1685.4" fill="#000000"/>
<polygon points="1450.3,1677.9 1437.4,1685.4 1437.4,1700.3 1450.3,1707.7 1463.2,1700.3 1463.2,1685.4" fill="#000000"/>
<polygon points="1518.9,1677.5 1506.0,1684.9 1506.0,1699.8 1518.9,1707.3 1531.8,1699.8 1531.8,1684.9" fill="#000000"/>
<polygon points="1587.5,1681.0 1574.6,1688.5 1574.6,1703.4 1587.5,1710.8 1600.4,1703.4 1600.4,1688.5" fill="#000000"/>
<path d="M215.5 1682.2L220.1 1683.0L224.6 1683.4L229.2 1683.5L233.8 1682.9L238.4 1681.3L242.9 1679.3L247.5 1677.7L252.1 1676.9L256.7 1676.9L261.2 1676.8L265.8 1676.8L270.4 1676.9L275.0 1676.9L279.5 1676.9L284.1 1676.9L288.7 1676.9L293.2 1676.9L297.8 1677.0L302.4 1677.0L307.0 1677.0L311.5 1677.0L316.1 1677.1L320.7 1677.1L325.3 1677.1L329.8 1677.2L334.4 1677.2L339.0 1677.3L343.6 1677.3L348.1 1677.3L352.7 1677.4L357.3 1677.4L361.8 1677.4L366.4 1677.4L371.0 1677.4L375.6 1677.4L380.1 1677.4L384.7 1677.4L389.3 1677.4L393.9 1677.4L398.4 1677.4L403.0 1677.5L407.6 1677.5L412.2 1677.6L416.7 1677.7L421.3 1677.8L425.9 1677.9L430.4 1678.1L435.0 1678.3L439.6 1678.5L444.2 1678.7L448.7 1678.9L453.3 1679.1L457.9 1679.3L462.5 1679.5L467.0 1679.7L471.6 1680.0L476.2 1680.2L480.8 1680.4L485.3 1680.7L489.9 1680.9L494.5 1681.1L499.0 1681.3L503.6 1681.5L508.2 1681.7L512.8 1681.9L517.3 1682.1L521.9 1682.3L526.5 1682.6L531.1 1682.8L535.6 1683.0L540.2 1683.3L544.8 1683.5L549.4 1683.8L553.9 1684.1L558.5 1684.4L563.1 1684.8L567.6 1685.1L572.2 1685.5L576.8 1685.9L581.4 1686.3L585.9 1686.7L590.5 1687.2L595.1 1687.6L599.7 1688.2L604.2 1688.7L608.8 1689.4L613.4 1690.0L618.0 1690.7L622.5 1691.5L627.1 1692.4L631.7 1693.4L636.2 1694.6L640.8 1696.0L645.4 1697.5L650.0 1699.2L654.5 1701.1L659.1 1703.0L663.7 1705.1L668.3 1707.2L672.8 1709.4L673.7 1709.9L674.7 1710.3L675.6 1710.8L676.5 1711.2L677.4 1711.7L678.3 1712.1L679.2 1712.6L680.2 1713.1L681.1 1713.5L682.0 1714.0L682.9 1714.5L683.8 1714.9L684.7 1715.4L685.6 1715.9L686.6 1716.3L687.5 1716.8L688.4 1717.3L689.3 1717.8L690.2 1718.2L691.1 1718.7L692.0 1719.2L693.0 1719.6L693.9 1720.1L694.8 1720.6L695.7 1721.1L696.6 1721.6L697.5 1722.0L698.4 1722.5L699.4 1723.0L700.3 1723.5L701.2 1723.9L702.1 1724.4L703.0 1724.9L703.9 1725.4L704.8 1725.9L705.8 1726.4L706.7 1726.9L707.6 1727.4L708.5 1727.9L709.4 1728.4L710.3 1728.9L711.2 1729.4L712.2 1729.9L713.1 1730.5L714.0 1731.0L714.9 1731.5L715.8 1732.1L716.7 1732.7L717.7 1733.2L718.6 1733.8L719.5 1734.4L720.4 1735.0L721.3 1735.6L722.2 1736.2L723.1 1736.9L724.1 1737.5L725.0 1738.2L725.9 1738.8L726.8 1739.5L727.7 1740.2L728.6 1740.9L729.5 1741.6L730.5 1742.4L731.4 1743.1L732.3 1743.9L733.2 1744.7L734.1 1745.5L735.0 1746.4L735.9 1747.2L736.9 1748.1L737.8 1749.0L738.7 1749.9L739.6 1750.8L740.5 1751.8L741.4 1752.8L742.3 1753.8L743.3 1754.8L744.2 1755.9L745.1 1756.9L746.0 1758.0L746.9 1759.2L747.8 1760.4L748.8 1761.5L749.7 1762.8L750.6 1764.0L751.5 1765.3L752.4 1766.6L753.3 1768.0L754.2 1769.4L755.2 1770.8L756.1 1772.3L757.0 1773.8L757.9 1775.3L758.8 1776.9L759.7 1778.5L760.6 1780.2L761.6 1781.9L762.5 1783.7L763.4 1785.5L764.3 1787.3L765.2 1789.2L766.1 1791.2L767.0 1793.1L768.0 1795.2L768.9 1797.3L769.8 1799.4L770.7 1801.6L771.6 1803.9L772.5 1806.2L773.4 1808.6L774.4 1811.0L775.3 1813.5L776.2 1816.0L777.1 1818.6L778.0 1821.3L778.9 1824.1L779.8 1826.9L780.8 1829.7L781.7 1832.7L782.6 1835.7L783.5 1838.8L784.4 1841.9L785.3 1845.2L786.3 1848.5L787.2 1851.9L788.1 1855.4L789.0 1859.0L789.9 1862.6L790.8 1866.4L791.7 1870.2L792.7 1874.2L793.6 1878.2L794.5 1882.3L795.4 1886.6L796.3 1890.9L797.2 1895.4L798.1 1900.0L799.1 1904.6L800.0 1909.4L800.9 1914.4L801.8 1919.4L802.7 1924.6L803.6 1929.9L804.5 1935.4L805.5 1941.0L806.4 1946.7L807.3 1952.6L808.2 1958.6L809.1 1964.8L810.0 1971.2L810.9 1977.7L811.9 1984.4L812.8 1991.3L813.7 1998.3L814.6 2005.6L815.5 2013.0L816.4 2020.6L817.4 2028.5L818.3 2036.5L819.2 2044.7L820.1 2053.2L821.0 2061.8L821.9 2070.7L822.8 2079.8L823.8 2089.1L824.7 2098.7L825.6 2108.5L826.5 2118.4L827.4 2128.6L828.3 2139.0L829.2 2149.6L830.2 2160.4L831.1 2171.3L832.0 2182.4L832.9 2193.6L833.8 2204.8L834.7 2216.0L835.6 2227.2L836.6 2238.2L837.5 2249.0L838.4 2259.6L839.3 2269.8L840.2 2279.5L841.1 2288.6L842.0 2297.1L843.0 2304.6L843.9 2311.3L844.8 2316.8L845.7 2321.1L846.6 2324.1L847.5 2325.8L848.4 2326.0L849.4 2324.9L850.3 2322.4L851.2 2318.7L852.1 2313.8L853.0 2307.8L853.9 2300.8L854.9 2293.0L855.8 2284.4L856.7 2275.2L857.6 2265.4L858.5 2255.3L859.4 2244.9L860.3 2234.2L861.3 2223.4L862.2 2212.5L863.1 2201.7L864.0 2190.8L864.9 2180.0L865.8 2169.3L866.7 2158.8L867.7 2148.4L868.6 2138.2L869.5 2128.1L870.4 2118.3L871.3 2108.6L872.2 2099.2L873.1 2090.0L874.1 2080.9L875.0 2072.1L875.9 2063.5L876.8 2055.1L877.7 2046.9L878.6 2038.9L879.5 2031.2L880.5 2023.6L881.4 2016.2L882.3 2008.9L883.2 2001.9L884.1 1995.1L885.0 1988.4L886.0 1981.9L886.9 1975.5L887.8 1969.3L888.7 1963.3L889.6 1957.4L890.5 1951.7L891.4 1946.2L892.4 1940.7L893.3 1935.4L894.2 1930.3L895.1 1925.2L896.0 1920.3L896.9 1915.5L897.8 1910.9L898.8 1906.3L899.7 1901.9L900.6 1897.5L901.5 1893.3L902.4 1889.2L903.3 1885.2L904.2 1881.2L905.2 1877.4L906.1 1873.7L907.0 1870.1L907.9 1866.5L908.8 1863.0L909.7 1859.7L910.6 1856.4L911.6 1853.1L912.5 1850.0L913.4 1846.9L914.3 1844.0L915.2 1841.0L916.1 1838.2L917.0 1835.4L918.0 1832.7L918.9 1830.0L919.8 1827.4L920.7 1824.9L921.6 1822.4L922.5 1820.0L923.5 1817.6L924.4 1815.3L925.3 1813.1L926.2 1810.9L927.1 1808.7L928.0 1806.6L928.9 1804.6L929.9 1802.6L930.8 1800.6L931.7 1798.7L932.6 1796.8L933.5 1794.9L934.4 1793.1L935.3 1791.4L936.3 1789.7L937.2 1788.0L938.1 1786.3L939.0 1784.7L939.9 1783.1L940.8 1781.6L941.7 1780.1L942.7 1778.6L943.6 1777.1L944.5 1775.7L945.4 1774.3L946.3 1773.0L947.2 1771.6L948.1 1770.3L949.1 1769.0L950.0 1767.8L950.9 1766.5L951.8 1765.3L952.7 1764.1L953.6 1763.0L954.6 1761.8L955.5 1760.7L956.4 1759.6L957.3 1758.6L958.2 1757.5L959.1 1756.5L960.0 1755.4L961.0 1754.4L961.9 1753.5L962.8 1752.5L963.7 1751.6L964.6 1750.6L965.5 1749.7L966.4 1748.8L967.4 1747.9L968.3 1747.1L969.2 1746.2L970.1 1745.4L971.0 1744.5L971.9 1743.7L972.8 1742.9L973.8 1742.1L974.7 1741.4L975.6 1740.6L976.5 1739.9L977.4 1739.1L978.3 1738.4L979.2 1737.7L980.2 1737.0L981.1 1736.3L982.0 1735.7L982.9 1735.0L983.8 1734.3L984.7 1733.7L985.6 1733.1L986.6 1732.5L987.5 1731.9L988.4 1731.3L989.3 1730.7L990.2 1730.1L991.1 1729.5L992.1 1729.0L993.0 1728.4L993.9 1727.9L994.8 1727.3L995.7 1726.8L996.6 1726.3L997.5 1725.8L998.5 1725.3L999.4 1724.8L1000.3 1724.3L1001.2 1723.8L1002.1 1723.3L1003.0 1722.9L1003.9 1722.4L1004.9 1722.0L1005.8 1721.5L1006.7 1721.1L1007.6 1720.7L1008.5 1720.3L1009.4 1719.8L1010.3 1719.4L1011.3 1719.0L1012.2 1718.6L1013.1 1718.2L1014.0 1717.9L1014.9 1717.5L1015.8 1717.1L1016.7 1716.8L1017.7 1716.4L1018.6 1716.0L1019.5 1715.7L1020.4 1715.4L1021.3 1715.0L1022.2 1714.7L1023.2 1714.4L1024.1 1714.0L1025.0 1713.7L1025.9 1713.4L1026.8 1713.1L1027.7 1712.8L1028.6 1712.5L1029.6 1712.2L1030.5 1711.9L1031.4 1711.7L1032.3 1711.4L1033.2 1711.1L1034.1 1710.9L1035.0 1710.6L1036.0 1710.3L1036.9 1710.1L1037.8 1709.8L1038.7 1709.6L1043.3 1708.5L1047.8 1707.5L1052.4 1706.6L1057.0 1705.8L1061.6 1705.1L1066.1 1704.5L1070.7 1704.0L1075.3 1703.5L1079.9 1703.0L1084.4 1702.6L1089.0 1702.1L1093.6 1701.7L1098.2 1701.3L1102.7 1700.8L1107.3 1700.3L1111.9 1699.8L1116.4 1699.3L1121.0 1698.9L1125.6 1698.4L1130.2 1698.0L1134.7 1697.5L1139.3 1697.1L1143.9 1696.7L1148.5 1696.4L1153.0 1696.0L1157.6 1695.7L1162.2 1695.4L1166.8 1695.1L1171.3 1694.8L1175.9 1694.6L1180.5 1694.4L1185.0 1694.2L1189.6 1694.0L1194.2 1693.9L1198.8 1693.8L1203.3 1693.7L1207.9 1693.6L1212.5 1693.6L1217.1 1693.5L1221.6 1693.5L1226.2 1693.4L1230.8 1693.4L1235.4 1693.3L1239.9 1693.3L1244.5 1693.3L1249.1 1693.2L1253.6 1693.2L1258.2 1693.1L1262.8 1693.1L1267.4 1693.0L1271.9 1693.0L1276.5 1693.0L1281.1 1692.9L1285.7 1692.9L1290.2 1692.9L1294.8 1692.9L1299.4 1692.9L1304.0 1692.8L1308.5 1692.8L1313.1 1692.8L1317.7 1692.8L1322.2 1692.8L1326.8 1692.8L1331.4 1692.8L1336.0 1692.8L1340.5 1692.8L1345.1 1692.8L1349.7 1692.8L1354.3 1692.8L1358.8 1692.8L1363.4 1692.8L1368.0 1692.8L1372.6 1692.8L1377.1 1692.8L1381.7 1692.8L1386.3 1692.8L1390.8 1692.8L1395.4 1692.8L1400.0 1692.8L1404.6 1692.8L1409.1 1692.9L1413.7 1692.9L1418.3 1692.9L1422.9 1692.9L1427.4 1692.9L1432.0 1692.9L1436.6 1692.9L1441.2 1692.9L1445.7 1692.8L1450.3 1692.8L1454.9 1692.8L1459.4 1692.8L1464.0 1692.7L1468.6 1692.7L1473.2 1692.6L1477.7 1692.6L1482.3 1692.6L1486.9 1692.5L1491.5 1692.5L1496.0 1692.5L1500.6 1692.4L1505.2 1692.4L1509.8 1692.4L1514.3 1692.4L1518.9 1692.4L1523.5 1692.4L1528.0 1692.4L1532.6 1692.5L1537.2 1692.7L1541.8 1692.9L1546.3 1693.1L1550.9 1693.3L1555.5 1693.6L1560.1 1693.9L1564.6 1694.2L1569.2 1694.5L1573.8 1694.8L1578.4 1695.2L1582.9 1695.5L1587.5 1695.9" fill="none" stroke="#404040" stroke-width="6.8" stroke-dasharray="28.1 17 4 17.8" stroke-linejoin="round"/>
<polygon points="215.5,1666.6 212.0,1677.4 200.6,1677.4 209.8,1684.1 206.3,1694.9 215.5,1688.2 224.7,1694.9 221.2,1684.1 230.4,1677.4 219.0,1677.4" fill="#404040"/>
<polygon points="284.1,1661.3 280.6,1672.1 269.2,1672.1 278.4,1678.8 274.9,1689.6 284.1,1682.9 293.3,1689.6 289.8,1678.8 299.0,1672.1 287.6,1672.1" fill="#404040"/>
<polygon points="352.7,1661.7 349.2,1672.5 337.8,1672.5 347.0,1679.2 343.5,1690.0 352.7,1683.4 361.9,1690.0 358.4,1679.2 367.6,1672.5 356.2,1672.5" fill="#404040"/>
<polygon points="421.3,1662.1 417.8,1672.9 406.4,1673.0 415.6,1679.7 412.1,1690.5 421.3,1683.8 430.5,1690.5 427.0,1679.7 436.2,1673.0 424.8,1672.9" fill="#404040"/>
<polygon points="489.9,1665.2 486.4,1676.0 475.0,1676.1 484.2,1682.7 480.7,1693.6 489.9,1686.9 499.1,1693.6 495.6,1682.7 504.8,1676.1 493.4,1676.0" fill="#404040"/>
<polygon points="558.5,1668.8 555.0,1679.6 543.6,1679.6 552.8,1686.3 549.3,1697.1 558.5,1690.4 567.7,1697.1 564.2,1686.3 573.4,1679.6 562.0,1679.6" fill="#404040"/>
<polygon points="627.1,1676.7 623.6,1687.5 612.2,1687.5 621.4,1694.2 617.9,1705.0 627.1,1698.4 636.3,1705.0 632.8,1694.2 642.0,1687.5 630.6,1687.5" fill="#404040"/>
<polygon points="695.7,1705.4 692.2,1716.2 680.8,1716.2 690.0,1722.9 686.5,1733.7 695.7,1727.1 704.9,1733.7 701.4,1722.9 710.6,1716.2 699.2,1716.2" fill="#404040"/>
<polygon points="764.3,1771.7 760.8,1782.5 749.4,1782.5 758.6,1789.2 755.1,1800.0 764.3,1793.3 773.5,1800.0 770.0,1789.2 779.2,1782.5 767.8,1782.5" fill="#404040"/>
<polygon points="832.9,2177.9 829.4,2188.7 818.0,2188.8 827.2,2195.4 823.7,2206.2 832.9,2199.6 842.1,2206.2 838.6,2195.4 847.8,2188.8 836.4,2188.7" fill="#404040"/>
<polygon points="901.5,1877.6 898.0,1888.4 886.6,1888.5 895.8,1895.2 892.3,1906.0 901.5,1899.3 910.7,1906.0 907.2,1895.2 916.4,1888.5 905.0,1888.4" fill="#404040"/>
<polygon points="970.1,1729.7 966.6,1740.5 955.2,1740.5 964.4,1747.2 960.9,1758.0 970.1,1751.4 979.3,1758.0 975.8,1747.2 985.0,1740.5 973.6,1740.5" fill="#404040"/>
<polygon points="1038.7,1693.9 1035.2,1704.7 1023.8,1704.8 1033.0,1711.4 1029.5,1722.3 1038.7,1715.6 1047.9,1722.3 1044.4,1711.4 1053.6,1704.8 1042.2,1704.7" fill="#404040"/>
<polygon points="1107.3,1684.7 1103.8,1695.5 1092.4,1695.5 1101.6,1702.2 1098.1,1713.0 1107.3,1706.3 1116.5,1713.0 1113.0,1702.2 1122.2,1695.5 1110.8,1695.5" fill="#404040"/>
<polygon points="1175.9,1678.9 1172.4,1689.7 1161.0,1689.7 1170.2,1696.4 1166.7,1707.2 1175.9,1700.6 1185.1,1707.2 1181.6,1696.4 1190.8,1689.7 1179.4,1689.7" fill="#404040"/>
<polygon points="1244.5,1677.6 1241.0,1688.4 1229.6,1688.4 1238.8,1695.1 1235.3,1705.9 1244.5,1699.3 1253.7,1705.9 1250.2,1695.1 1259.4,1688.4 1248.0,1688.4" fill="#404040"/>
<polygon points="1313.1,1677.2 1309.6,1688.0 1298.2,1688.0 1307.4,1694.7 1303.9,1705.5 1313.1,1698.8 1322.3,1705.5 1318.8,1694.7 1328.0,1688.0 1316.6,1688.0" fill="#404040"/>
<polygon points="1381.7,1677.2 1378.2,1688.0 1366.8,1688.0 1376.0,1694.7 1372.5,1705.5 1381.7,1698.8 1390.9,1705.5 1387.4,1694.7 1396.6,1688.0 1385.2,1688.0" fill="#404040"/>
<polygon points="1450.3,1677.2 1446.8,1688.0 1435.4,1688.0 1444.6,1694.7 1441.1,1705.5 1450.3,1698.8 1459.5,1705.5 1456.0,1694.7 1465.2,1688.0 1453.8,1688.0" fill="#404040"/>
<polygon points="1518.9,1676.7 1515.4,1687.5 1504.0,1687.5 1513.2,1694.2 1509.7,1705.0 1518.9,1698.4 1528.1,1705.0 1524.6,1694.2 1533.8,1687.5 1522.4,1687.5" fill="#404040"/>
<polygon points="1587.5,1680.3 1584.0,1691.1 1572.6,1691.1 1581.8,1697.8 1578.3,1708.6 1587.5,1701.9 1596.7,1708.6 1593.2,1697.8 1602.4,1691.1 1591.0,1691.1" fill="#404040"/>
<path d="M215.5 1673.8L220.1 1678.5L224.6 1682.1L229.2 1683.5L233.8 1682.9L238.4 1681.3L242.9 1679.3L247.5 1677.7L252.1 1676.9L256.7 1676.9L261.2 1676.8L265.8 1676.8L270.4 1676.9L275.0 1676.9L279.5 1676.9L284.1 1676.9L288.7 1676.9L293.2 1676.9L297.8 1677.0L302.4 1677.0L307.0 1677.0L311.5 1677.1L316.1 1677.1L320.7 1677.1L325.3 1677.2L329.8 1677.2L334.4 1677.2L339.0 1677.3L343.6 1677.3L348.1 1677.3L352.7 1677.4L357.3 1677.4L361.8 1677.4L366.4 1677.3L371.0 1677.3L375.6 1677.3L380.1 1677.2L384.7 1677.2L389.3 1677.1L393.9 1677.1L398.4 1677.1L403.0 1677.1L407.6 1677.1L412.2 1677.2L416.7 1677.2L421.3 1677.4L425.9 1677.5L430.4 1677.7L435.0 1677.9L439.6 1678.2L444.2 1678.4L448.7 1678.7L453.3 1679.0L457.9 1679.3L462.5 1679.6L467.0 1679.9L471.6 1680.3L476.2 1680.5L480.8 1680.8L485.3 1681.1L489.9 1681.3L494.5 1681.5L499.0 1681.7L503.6 1681.8L508.2 1682.0L512.8 1682.1L517.3 1682.2L521.9 1682.2L526.5 1682.4L531.1 1682.5L535.6 1682.6L540.2 1682.8L544.8 1683.0L549.4 1683.3L553.9 1683.6L558.5 1684.0L563.1 1684.4L567.6 1684.9L572.2 1685.4L576.8 1686.0L581.4 1686.6L585.9 1687.3L590.5 1687.9L595.1 1688.7L599.7 1689.5L604.2 1690.3L608.8 1691.1L613.4 1692.0L618.0 1693.0L622.5 1694.0L627.1 1695.0L631.7 1696.2L636.2 1697.4L640.8 1698.8L645.4 1700.3L650.0 1701.9L654.5 1703.5L659.1 1705.3L663.7 1707.2L668.3 1709.1L672.8 1711.1L673.7 1711.6L674.7 1712.0L675.6 1712.4L676.5 1712.8L677.4 1713.2L678.3 1713.7L679.2 1714.1L680.2 1714.5L681.1 1715.0L682.0 1715.4L682.9 1715.9L683.8 1716.3L684.7 1716.8L685.6 1717.2L686.6 1717.7L687.5 1718.1L688.4 1718.6L689.3 1719.1L690.2 1719.5L691.1 1720.0L692.0 1720.5L693.0 1720.9L693.9 1721.4L694.8 1721.9L695.7 1722.4L696.6 1722.9L697.5 1723.4L698.4 1723.9L699.4 1724.3L700.3 1724.8L701.2 1725.3L702.1 1725.8L703.0 1726.3L703.9 1726.8L704.8 1727.3L705.8 1727.8L706.7 1728.2L707.6 1728.7L708.5 1729.2L709.4 1729.8L710.3 1730.3L711.2 1730.8L712.2 1731.3L713.1 1731.8L714.0 1732.3L714.9 1732.9L715.8 1733.4L716.7 1734.0L717.7 1734.5L718.6 1735.1L719.5 1735.7L720.4 1736.3L721.3 1736.9L722.2 1737.5L723.1 1738.1L724.1 1738.8L725.0 1739.4L725.9 1740.1L726.8 1740.7L727.7 1741.4L728.6 1742.1L729.5 1742.9L730.5 1743.6L731.4 1744.4L732.3 1745.1L733.2 1745.9L734.1 1746.7L735.0 1747.6L735.9 1748.4L736.9 1749.3L737.8 1750.2L738.7 1751.1L739.6 1752.0L740.5 1753.0L741.4 1754.0L742.3 1755.0L743.3 1756.0L744.2 1757.1L745.1 1758.2L746.0 1759.3L746.9 1760.5L747.8 1761.7L748.8 1762.9L749.7 1764.2L750.6 1765.4L751.5 1766.8L752.4 1768.1L753.3 1769.5L754.2 1771.0L755.2 1772.4L756.1 1773.9L757.0 1775.5L757.9 1777.1L758.8 1778.7L759.7 1780.4L760.6 1782.1L761.6 1783.9L762.5 1785.7L763.4 1787.6L764.3 1789.5L765.2 1791.5L766.1 1793.5L767.0 1795.6L768.0 1797.7L768.9 1799.9L769.8 1802.1L770.7 1804.4L771.6 1806.7L772.5 1809.1L773.4 1811.5L774.4 1814.0L775.3 1816.5L776.2 1819.2L777.1 1821.8L778.0 1824.6L778.9 1827.4L779.8 1830.3L780.8 1833.2L781.7 1836.2L782.6 1839.3L783.5 1842.5L784.4 1845.7L785.3 1849.1L786.3 1852.5L787.2 1856.0L788.1 1859.6L789.0 1863.2L789.9 1867.0L790.8 1870.9L791.7 1874.8L792.7 1878.9L793.6 1883.1L794.5 1887.3L795.4 1891.7L796.3 1896.2L797.2 1900.8L798.1 1905.6L799.1 1910.4L800.0 1915.4L800.9 1920.5L801.8 1925.8L802.7 1931.2L803.6 1936.7L804.5 1942.4L805.5 1948.3L806.4 1954.3L807.3 1960.4L808.2 1966.7L809.1 1973.2L810.0 1979.9L810.9 1986.8L811.9 1993.8L812.8 2001.1L813.7 2008.5L814.6 2016.2L815.5 2024.0L816.4 2032.1L817.4 2040.4L818.3 2048.9L819.2 2057.6L820.1 2066.6L821.0 2075.8L821.9 2085.2L822.8 2094.9L823.8 2104.8L824.7 2115.0L825.6 2125.4L826.5 2136.0L827.4 2146.8L828.3 2157.9L829.2 2169.2L830.2 2180.6L831.1 2192.2L832.0 2203.9L832.9 2215.7L833.8 2227.5L834.7 2239.2L835.6 2250.9L836.6 2262.3L837.5 2273.5L838.4 2284.2L839.3 2294.4L840.2 2303.9L841.1 2312.6L842.0 2320.3L843.0 2326.9L843.9 2332.2L844.8 2336.1L845.7 2338.5L846.6 2339.3L847.5 2338.7L848.4 2336.6L849.4 2333.1L850.3 2328.4L851.2 2322.4L852.1 2315.4L853.0 2307.4L853.9 2298.7L854.9 2289.2L855.8 2279.2L856.7 2268.8L857.6 2258.1L858.5 2247.1L859.4 2236.0L860.3 2224.9L861.3 2213.7L862.2 2202.6L863.1 2191.5L864.0 2180.6L864.9 2169.8L865.8 2159.2L866.7 2148.8L867.7 2138.5L868.6 2128.5L869.5 2118.7L870.4 2109.1L871.3 2099.7L872.2 2090.6L873.1 2081.7L874.1 2073.0L875.0 2064.5L875.9 2056.2L876.8 2048.1L877.7 2040.3L878.6 2032.6L879.5 2025.2L880.5 2017.9L881.4 2010.8L882.3 2003.9L883.2 1997.2L884.1 1990.7L885.0 1984.3L886.0 1978.1L886.9 1972.0L887.8 1966.1L888.7 1960.4L889.6 1954.8L890.5 1949.3L891.4 1944.0L892.4 1938.8L893.3 1933.7L894.2 1928.8L895.1 1924.0L896.0 1919.3L896.9 1914.7L897.8 1910.2L898.8 1905.8L899.7 1901.6L900.6 1897.4L901.5 1893.3L902.4 1889.3L903.3 1885.4L904.2 1881.6L905.2 1877.9L906.1 1874.3L907.0 1870.8L907.9 1867.3L908.8 1863.9L909.7 1860.7L910.6 1857.4L911.6 1854.3L912.5 1851.2L913.4 1848.2L914.3 1845.3L915.2 1842.4L916.1 1839.6L917.0 1836.8L918.0 1834.2L918.9 1831.5L919.8 1829.0L920.7 1826.5L921.6 1824.0L922.5 1821.6L923.5 1819.2L924.4 1816.9L925.3 1814.7L926.2 1812.5L927.1 1810.3L928.0 1808.2L928.9 1806.1L929.9 1804.1L930.8 1802.1L931.7 1800.2L932.6 1798.3L933.5 1796.4L934.4 1794.6L935.3 1792.8L936.3 1791.0L937.2 1789.3L938.1 1787.6L939.0 1786.0L939.9 1784.4L940.8 1782.8L941.7 1781.2L942.7 1779.7L943.6 1778.2L944.5 1776.7L945.4 1775.3L946.3 1773.9L947.2 1772.5L948.1 1771.2L949.1 1769.8L950.0 1768.5L950.9 1767.3L951.8 1766.0L952.7 1764.8L953.6 1763.6L954.6 1762.4L955.5 1761.2L956.4 1760.1L957.3 1759.0L958.2 1757.9L959.1 1756.8L960.0 1755.7L961.0 1754.7L961.9 1753.7L962.8 1752.7L963.7 1751.7L964.6 1750.8L965.5 1749.8L966.4 1748.9L967.4 1748.0L968.3 1747.1L969.2 1746.2L970.1 1745.4L971.0 1744.5L971.9 1743.7L972.8 1742.9L973.8 1742.1L974.7 1741.3L975.6 1740.6L976.5 1739.8L977.4 1739.1L978.3 1738.3L979.2 1737.6L980.2 1736.9L981.1 1736.3L982.0 1735.6L982.9 1734.9L983.8 1734.3L984.7 1733.6L985.6 1733.0L986.6 1732.4L987.5 1731.8L988.4 1731.2L989.3 1730.6L990.2 1730.1L991.1 1729.5L992.1 1729.0L993.0 1728.4L993.9 1727.9L994.8 1727.4L995.7 1726.9L996.6 1726.4L997.5 1725.9L998.5 1725.4L999.4 1724.9L1000.3 1724.4L1001.2 1724.0L1002.1 1723.5L1003.0 1723.1L1003.9 1722.7L1004.9 1722.2L1005.8 1721.8L1006.7 1721.4L1007.6 1721.0L1008.5 1720.6L1009.4 1720.2L1010.3 1719.8L1011.3 1719.4L1012.2 1719.1L1013.1 1718.7L1014.0 1718.3L1014.9 1718.0L1015.8 1717.6L1016.7 1717.3L1017.7 1716.9L1018.6 1716.6L1019.5 1716.3L1020.4 1716.0L1021.3 1715.7L1022.2 1715.3L1023.2 1715.0L1024.1 1714.7L1025.0 1714.4L1025.9 1714.1L1026.8 1713.9L1027.7 1713.6L1028.6 1713.3L1029.6 1713.0L1030.5 1712.7L1031.4 1712.5L1032.3 1712.2L1033.2 1712.0L1034.1 1711.7L1035.0 1711.4L1036.0 1711.2L1036.9 1711.0L1037.8 1710.7L1038.7 1710.5L1043.3 1709.4L1047.8 1708.4L1052.4 1707.5L1057.0 1706.7L1061.6 1706.1L1066.1 1705.4L1070.7 1704.9L1075.3 1704.4L1079.9 1703.9L1084.4 1703.5L1089.0 1703.0L1093.6 1702.6L1098.2 1702.2L1102.7 1701.7L1107.3 1701.2L1111.9 1700.7L1116.4 1700.2L1121.0 1699.7L1125.6 1699.3L1130.2 1698.8L1134.7 1698.4L1139.3 1698.0L1143.9 1697.6L1148.5 1697.3L1153.0 1696.9L1157.6 1696.6L1162.2 1696.3L1166.8 1696.0L1171.3 1695.7L1175.9 1695.5L1180.5 1695.2L1185.0 1695.1L1189.6 1694.9L1194.2 1694.8L1198.8 1694.7L1203.3 1694.6L1207.9 1694.5L1212.5 1694.5L1217.1 1694.4L1221.6 1694.4L1226.2 1694.3L1230.8 1694.3L1235.4 1694.3L1239.9 1694.2L1244.5 1694.1L1249.1 1694.1L1253.6 1694.0L1258.2 1693.9L1262.8 1693.8L1267.4 1693.8L1271.9 1693.7L1276.5 1693.6L1281.1 1693.6L1285.7 1693.5L1290.2 1693.5L1294.8 1693.4L1299.4 1693.4L1304.0 1693.3L1308.5 1693.3L1313.1 1693.3L1317.7 1693.2L1322.2 1693.2L1326.8 1693.2L1331.4 1693.2L1336.0 1693.2L1340.5 1693.2L1345.1 1693.2L1349.7 1693.2L1354.3 1693.2L1358.8 1693.2L1363.4 1693.2L1368.0 1693.2L1372.6 1693.3L1377.1 1693.3L1381.7 1693.3L1386.3 1693.3L1390.8 1693.3L1395.4 1693.3L1400.0 1693.3L1404.6 1693.3L1409.1 1693.3L1413.7 1693.3L1418.3 1693.4L1422.9 1693.4L1427.4 1693.4L1432.0 1693.4L1436.6 1693.4L1441.2 1693.3L1445.7 1693.3L1450.3 1693.3L1454.9 1693.2L1459.4 1693.1L1464.0 1692.9L1468.6 1692.8L1473.2 1692.6L1477.7 1692.4L1482.3 1692.2L1486.9 1692.0L1491.5 1691.8L1496.0 1691.6L1500.6 1691.5L1505.2 1691.3L1509.8 1691.2L1514.3 1691.1L1518.9 1691.0L1523.5 1691.1L1528.0 1691.1L1532.6 1691.3L1537.2 1691.6L1541.8 1691.9L1546.3 1692.2L1550.9 1692.7L1555.5 1693.2L1560.1 1693.7L1564.6 1694.3L1569.2 1694.9L1573.8 1695.6L1578.4 1696.2L1582.9 1696.9L1587.5 1697.7" fill="none" stroke="#c0c0c0" stroke-width="6.8" stroke-dasharray="21 16 4.5 16 4.5 18" stroke-linejoin="round"/>
<polygon points="215.5,1658.2 200.6,1669.0 206.3,1686.5 224.7,1686.5 230.4,1669.0" fill="#c0c0c0"/>
<polygon points="284.1,1661.3 269.2,1672.1 274.9,1689.6 293.3,1689.6 299.0,1672.1" fill="#c0c0c0"/>
<polygon points="352.7,1661.7 337.8,1672.5 343.5,1690.0 361.9,1690.0 367.6,1672.5" fill="#c0c0c0"/>
<polygon points="421.3,1661.7 406.4,1672.5 412.1,1690.0 430.5,1690.0 436.2,1672.5" fill="#c0c0c0"/>
<polygon points="489.9,1665.7 475.0,1676.5 480.7,1694.0 499.1,1694.0 504.8,1676.5" fill="#c0c0c0"/>
<polygon points="558.5,1668.3 543.6,1679.1 549.3,1696.6 567.7,1696.6 573.4,1679.1" fill="#c0c0c0"/>
<polygon points="627.1,1679.4 612.2,1690.2 617.9,1707.7 636.3,1707.7 642.0,1690.2" fill="#c0c0c0"/>
<polygon points="695.7,1706.8 680.8,1717.6 686.5,1735.1 704.9,1735.1 710.6,1717.6" fill="#c0c0c0"/>
<polygon points="764.3,1773.9 749.4,1784.7 755.1,1802.2 773.5,1802.2 779.2,1784.7" fill="#c0c0c0"/>
<polygon points="832.9,2200.0 818.0,2210.8 823.7,2228.3 842.1,2228.3 847.8,2210.8" fill="#c0c0c0"/>
<polygon points="901.5,1877.6 886.6,1888.5 892.3,1906.0 910.7,1906.0 916.4,1888.5" fill="#c0c0c0"/>
<polygon points="970.1,1729.7 955.2,1740.5 960.9,1758.0 979.3,1758.0 985.0,1740.5" fill="#c0c0c0"/>
<polygon points="1038.7,1694.8 1023.8,1705.6 1029.5,1723.1 1047.9,1723.1 1053.6,1705.6" fill="#c0c0c0"/>
<polygon points="1107.3,1685.6 1092.4,1696.4 1098.1,1713.9 1116.5,1713.9 1122.2,1696.4" fill="#c0c0c0"/>
<polygon points="1175.9,1679.8 1161.0,1690.6 1166.7,1708.1 1185.1,1708.1 1190.8,1690.6" fill="#c0c0c0"/>
<polygon points="1244.5,1678.5 1229.6,1689.3 1235.3,1706.8 1253.7,1706.8 1259.4,1689.3" fill="#c0c0c0"/>
<polygon points="1313.1,1677.6 1298.2,1688.4 1303.9,1705.9 1322.3,1705.9 1328.0,1688.4" fill="#c0c0c0"/>
<polygon points="1381.7,1677.6 1366.8,1688.4 1372.5,1705.9 1390.9,1705.9 1396.6,1688.4" fill="#c0c0c0"/>
<polygon points="1450.3,1677.6 1435.4,1688.4 1441.1,1705.9 1459.5,1705.9 1465.2,1688.4" fill="#c0c0c0"/>
<polygon points="1518.9,1675.4 1504.0,1686.2 1509.7,1703.7 1528.1,1703.7 1533.8,1686.2" fill="#c0c0c0"/>
<polygon points="1587.5,1682.0 1572.6,1692.8 1578.3,1710.3 1596.7,1710.3 1602.4,1692.8" fill="#c0c0c0"/>
</g>
<path d="M193.0 1672.5H213.5M204.0 1782.9H213.5M193.0 1893.3H213.5M204.0 2003.7H213.5M193.0 2114.1H213.5M204.0 2224.5H213.5M193.0 2334.9H213.5M204.0 2445.3H213.5M193.0 2555.7H213.5M204.0 2666.1H213.5M193.0 2776.5H213.5M215.5 2778.5V2798.0M329.8 2778.5V2788.0M444.2 2778.5V2798.0M558.5 2778.5V2788.0M672.8 2778.5V2798.0M787.2 2778.5V2788.0M901.5 2778.5V2798.0M1015.8 2778.5V2788.0M1130.2 2778.5V2798.0M1244.5 2778.5V2788.0M1358.8 2778.5V2798.0M1473.2 2778.5V2788.0M1587.5 2778.5V2798.0" stroke="#000" stroke-width="5" fill="none"/>
<text transform="translate(179.3 1685.8)" font-size="48.2" text-anchor="end">0</text>
<text transform="translate(179.3 1906.6)" font-size="48.2" text-anchor="end">-5</text>
<text transform="translate(179.3 2127.4)" font-size="48.2" text-anchor="end">-10</text>
<text transform="translate(179.3 2348.2)" font-size="48.2" text-anchor="end">-15</text>
<text transform="translate(179.3 2569)" font-size="48.2" text-anchor="end">-20</text>
<text transform="translate(179.3 2789.8)" font-size="48.2" text-anchor="end">-25</text>
<text transform="translate(215 2849.5)" font-size="48.2" text-anchor="middle">1.0</text>
<text transform="translate(443.67 2849.5)" font-size="48.2" text-anchor="middle">1.5</text>
<text transform="translate(672.33 2849.5)" font-size="48.2" text-anchor="middle">2.0</text>
<text transform="translate(901 2849.5)" font-size="48.2" text-anchor="middle">2.5</text>
<text transform="translate(1129.67 2849.5)" font-size="48.2" text-anchor="middle">3.0</text>
<text transform="translate(1358.33 2849.5)" font-size="48.2" text-anchor="middle">3.5</text>
<text transform="translate(1587 2849.5)" font-size="48.2" text-anchor="middle">4.0</text>
<text transform="translate(683.95 2937.9) scale(1.0000 1.0300)" font-size="57.6">Frequency [GHz]</text>
<text transform="translate(87 2418.76) rotate(-90) scale(1.0000 1.0600)" font-size="57.65">Magnitude [dB]</text>
<rect x="882.0" y="2254.0" width="676.0" height="424.0" fill="#fff" stroke="#000" stroke-width="2"/>
<path d="M888.9 2294.0H1018.0" stroke="#808080" stroke-width="6" stroke-dasharray="23.1 29.5" fill="none"/>
<polygon points="934.3,2294.0 962.4,2278.1 962.4,2309.9" fill="#808080"/>
<text transform="translate(0 2313.7) scale(1 1.0350)" font-size="57.7"><tspan x="1033.6" y="0">S</tspan><tspan x="1073.33" y="15.07" font-size="39.91" textLength="38.35" lengthAdjust="spacingAndGlyphs">11</tspan><tspan x="1116.14" y="-2.81" font-size="68.02" textLength="31.32" lengthAdjust="spacingAndGlyphs">_</tspan><tspan x="1147.64" y="0">L</tspan><tspan x="1179.82" y="-2.81" font-size="68.02" textLength="30.36" lengthAdjust="spacingAndGlyphs">_</tspan><tspan x="1210.7" y="0">T10= </tspan><tspan x="1359.87" y="0">3.5 mm</tspan></text>
<path d="M888.9 2377.1H1018.0" stroke="#808080" stroke-width="6" stroke-dasharray="4.5 26.9" fill="none"/>
<polygon points="943.6,2361.2 971.9,2377.1 943.6,2393.0" fill="#808080"/>
<text transform="translate(0 2396.8) scale(1 1.0350)" font-size="57.7"><tspan x="1033.6" y="0">S</tspan><tspan x="1073.33" y="15.07" font-size="39.91" textLength="38.35" lengthAdjust="spacingAndGlyphs">11</tspan><tspan x="1116.14" y="-2.81" font-size="68.02" textLength="31.32" lengthAdjust="spacingAndGlyphs">_</tspan><tspan x="1147.64" y="0">L</tspan><tspan x="1179.82" y="-2.81" font-size="68.02" textLength="30.36" lengthAdjust="spacingAndGlyphs">_</tspan><tspan x="1210.7" y="0">T10= </tspan><tspan x="1359.87" y="0">4.0 mm</tspan></text>
<path d="M888.9 2460.2H1018.0" stroke="#000000" stroke-width="6.8" fill="none"/>
<polygon points="953.0,2445.3 940.1,2452.8 940.1,2467.6 953.0,2475.1 965.9,2467.6 965.9,2452.8" fill="#000000"/>
<text transform="translate(0 2479.9) scale(1 1.0350)" font-size="57.7"><tspan x="1033.6" y="0">S</tspan><tspan x="1073.33" y="15.07" font-size="39.91" textLength="38.35" lengthAdjust="spacingAndGlyphs">11</tspan><tspan x="1116.14" y="-2.81" font-size="68.02" textLength="31.32" lengthAdjust="spacingAndGlyphs">_</tspan><tspan x="1147.64" y="0">L</tspan><tspan x="1179.82" y="-2.81" font-size="68.02" textLength="30.36" lengthAdjust="spacingAndGlyphs">_</tspan><tspan x="1210.7" y="0">T10= </tspan><tspan x="1359.87" y="0">4.5 mm</tspan></text>
<path d="M888.9 2543.3H1018.0" stroke="#404040" stroke-width="6.8" stroke-dasharray="28.1 17 4 17.8" fill="none"/>
<polygon points="953.0,2527.7 949.5,2538.4 938.1,2538.5 947.3,2545.2 943.8,2556.0 953.0,2549.3 962.2,2556.0 958.7,2545.2 967.9,2538.5 956.5,2538.4" fill="#404040"/>
<text transform="translate(0 2563) scale(1 1.0350)" font-size="57.7"><tspan x="1033.6" y="0">S</tspan><tspan x="1073.33" y="15.07" font-size="39.91" textLength="38.35" lengthAdjust="spacingAndGlyphs">11</tspan><tspan x="1116.14" y="-2.81" font-size="68.02" textLength="31.32" lengthAdjust="spacingAndGlyphs">_</tspan><tspan x="1147.64" y="0">L</tspan><tspan x="1179.82" y="-2.81" font-size="68.02" textLength="30.36" lengthAdjust="spacingAndGlyphs">_</tspan><tspan x="1210.7" y="0">T10= </tspan><tspan x="1359.87" y="0">5.0 mm</tspan></text>
<path d="M888.9 2626.4H1018.0" stroke="#c0c0c0" stroke-width="6.8" stroke-dasharray="21 16 4.5 16 4.5 18" fill="none"/>
<polygon points="953.0,2610.8 938.1,2621.6 943.8,2639.1 962.2,2639.1 967.9,2621.6" fill="#c0c0c0"/>
<text transform="translate(0 2646.1) scale(1 1.0350)" font-size="57.7"><tspan x="1033.6" y="0">S</tspan><tspan x="1073.33" y="15.07" font-size="39.91" textLength="38.35" lengthAdjust="spacingAndGlyphs">11</tspan><tspan x="1116.14" y="-2.81" font-size="68.02" textLength="31.32" lengthAdjust="spacingAndGlyphs">_</tspan><tspan x="1147.64" y="0">L</tspan><tspan x="1179.82" y="-2.81" font-size="68.02" textLength="30.36" lengthAdjust="spacingAndGlyphs">_</tspan><tspan x="1210.7" y="0">T10= </tspan><tspan x="1359.87" y="0">5.5 mm</tspan></text>
<text class="cap" transform="translate(0 3124.93) scale(1 1.0600)" font-size="81.8"><tspan x="811.22" y="0">(</tspan><tspan x="838.64" y="0" font-weight="bold" textLength="49.45" lengthAdjust="spacingAndGlyphs">d</tspan><tspan x="888.88" y="0">)</tspan></text>
</g>
<g>
<clipPath id="clip2"><rect x="223.5" y="3326.5" width="1355.0" height="1090.0"/></clipPath>
<rect x="223.5" y="3326.5" width="1355.0" height="1090.0" fill="none" stroke="#000" stroke-width="5"/>
<g clip-path="url(#clip2)">
<path d="M223.5 3335.2L228.0 3336.4L232.5 3337.1L237.1 3337.4L241.6 3336.8L246.1 3335.2L250.6 3333.3L255.1 3331.7L259.6 3330.9L264.2 3330.7L268.7 3330.6L273.2 3330.6L277.7 3330.6L282.2 3330.5L286.7 3330.5L291.3 3330.4L295.8 3330.3L300.3 3330.1L304.8 3329.9L309.3 3329.6L313.8 3329.3L318.4 3329.0L322.9 3328.7L327.4 3328.4L331.9 3328.2L336.4 3327.9L340.9 3327.7L345.5 3327.5L350.0 3327.4L354.5 3327.3L359.0 3327.4L363.5 3327.5L368.0 3327.7L372.6 3328.0L377.1 3328.3L381.6 3328.7L386.1 3329.1L390.6 3329.5L395.1 3329.9L399.7 3330.4L404.2 3330.8L408.7 3331.2L413.2 3331.5L417.7 3331.8L422.2 3332.0L426.8 3332.2L431.3 3332.2L435.8 3332.1L440.3 3331.9L444.8 3331.6L449.3 3331.3L453.9 3330.9L458.4 3330.5L462.9 3330.1L467.4 3329.7L471.9 3329.4L476.4 3329.0L481.0 3328.8L485.5 3328.6L490.0 3328.6L494.5 3328.7L499.0 3328.9L503.5 3329.2L508.1 3329.5L512.6 3330.0L517.1 3330.4L521.6 3330.9L526.1 3331.5L530.6 3332.0L535.2 3332.6L539.7 3333.1L544.2 3333.6L548.7 3334.1L553.2 3334.5L557.7 3334.9L562.3 3335.2L566.8 3335.5L571.3 3335.7L575.8 3335.9L580.3 3336.2L584.8 3336.4L589.4 3336.6L593.9 3336.9L598.4 3337.1L602.9 3337.4L607.4 3337.6L611.9 3338.0L616.5 3338.3L621.0 3338.7L625.5 3339.1L630.0 3339.6L634.5 3340.1L639.0 3340.7L643.6 3341.3L648.1 3341.9L652.6 3342.6L657.1 3343.3L661.6 3344.1L666.1 3345.0L670.7 3345.8L675.2 3346.8L676.1 3347.0L677.0 3347.2L677.9 3347.3L678.8 3347.5L679.7 3347.7L680.6 3347.9L681.5 3348.2L682.4 3348.4L683.3 3348.6L684.2 3348.8L685.1 3349.0L686.0 3349.2L686.9 3349.4L687.8 3349.6L688.7 3349.9L689.6 3350.1L690.5 3350.3L691.4 3350.6L692.3 3350.8L693.2 3351.0L694.1 3351.3L695.0 3351.5L695.9 3351.7L696.8 3352.0L697.7 3352.2L698.7 3352.5L699.6 3352.7L700.5 3353.0L701.4 3353.3L702.3 3353.5L703.2 3353.8L704.1 3354.1L705.0 3354.4L705.9 3354.7L706.8 3355.0L707.7 3355.3L708.6 3355.6L709.5 3355.9L710.4 3356.2L711.3 3356.5L712.2 3356.9L713.1 3357.2L714.0 3357.5L714.9 3357.9L715.8 3358.2L716.7 3358.6L717.6 3358.9L718.5 3359.3L719.4 3359.7L720.3 3360.0L721.2 3360.4L722.1 3360.8L723.0 3361.2L723.9 3361.6L724.8 3362.0L725.8 3362.4L726.7 3362.8L727.6 3363.2L728.5 3363.6L729.4 3364.0L730.3 3364.4L731.2 3364.9L732.1 3365.3L733.0 3365.7L733.9 3366.2L734.8 3366.6L735.7 3367.1L736.6 3367.5L737.5 3368.0L738.4 3368.4L739.3 3368.9L740.2 3369.4L741.1 3369.8L742.0 3370.3L742.9 3370.8L743.8 3371.3L744.7 3371.8L745.6 3372.3L746.5 3372.8L747.4 3373.3L748.3 3373.8L749.2 3374.3L750.1 3374.8L751.0 3375.4L751.9 3375.9L752.9 3376.4L753.8 3377.0L754.7 3377.5L755.6 3378.1L756.5 3378.6L757.4 3379.2L758.3 3379.8L759.2 3380.3L760.1 3380.9L761.0 3381.5L761.9 3382.1L762.8 3382.7L763.7 3383.3L764.6 3383.9L765.5 3384.5L766.4 3385.1L767.3 3385.7L768.2 3386.3L769.1 3387.0L770.0 3387.6L770.9 3388.2L771.8 3388.8L772.7 3389.5L773.6 3390.1L774.5 3390.7L775.4 3391.4L776.3 3392.0L777.2 3392.7L778.1 3393.3L779.0 3394.0L780.0 3394.7L780.9 3395.4L781.8 3396.0L782.7 3396.7L783.6 3397.5L784.5 3398.2L785.4 3398.9L786.3 3399.7L787.2 3400.4L788.1 3401.2L789.0 3402.0L789.9 3402.8L790.8 3403.6L791.7 3404.4L792.6 3405.3L793.5 3406.1L794.4 3407.0L795.3 3407.9L796.2 3408.8L797.1 3409.8L798.0 3410.7L798.9 3411.7L799.8 3412.7L800.7 3413.8L801.6 3414.8L802.5 3415.9L803.4 3417.0L804.3 3418.1L805.2 3419.3L806.1 3420.5L807.1 3421.7L808.0 3422.9L808.9 3424.2L809.8 3425.5L810.7 3426.8L811.6 3428.2L812.5 3429.6L813.4 3431.1L814.3 3432.6L815.2 3434.1L816.1 3435.7L817.0 3437.3L817.9 3438.9L818.8 3440.6L819.7 3442.3L820.6 3444.1L821.5 3445.9L822.4 3447.8L823.3 3449.8L824.2 3451.7L825.1 3453.8L826.0 3455.9L826.9 3458.0L827.8 3460.2L828.7 3462.5L829.6 3464.8L830.5 3467.2L831.4 3469.6L832.3 3472.2L833.2 3474.7L834.2 3477.4L835.1 3480.1L836.0 3482.9L836.9 3485.7L837.8 3488.6L838.7 3491.6L839.6 3494.7L840.5 3497.8L841.4 3501.0L842.3 3504.3L843.2 3507.7L844.1 3511.1L845.0 3514.7L845.9 3518.3L846.8 3522.0L847.7 3525.8L848.6 3529.7L849.5 3533.7L850.4 3537.8L851.3 3542.1L852.2 3546.4L853.1 3550.8L854.0 3555.4L854.9 3560.1L855.8 3564.9L856.7 3569.8L857.6 3574.9L858.5 3580.1L859.4 3585.4L860.3 3590.9L861.3 3596.6L862.2 3602.4L863.1 3608.4L864.0 3614.5L864.9 3620.8L865.8 3627.3L866.7 3634.0L867.6 3640.9L868.5 3648.0L869.4 3655.3L870.3 3662.8L871.2 3670.5L872.1 3678.4L873.0 3686.6L873.9 3695.1L874.8 3703.8L875.7 3712.7L876.6 3722.0L877.5 3731.5L878.4 3741.3L879.3 3751.4L880.2 3761.9L881.1 3772.6L882.0 3783.7L882.9 3795.1L883.8 3806.8L884.7 3818.9L885.6 3831.4L886.5 3844.2L887.4 3857.3L888.4 3870.7L889.3 3884.5L890.2 3898.6L891.1 3912.9L892.0 3927.4L892.9 3942.0L893.8 3956.7L894.7 3971.3L895.6 3985.8L896.5 3999.9L897.4 4013.4L898.3 4026.1L899.2 4037.8L900.1 4048.1L901.0 4056.8L901.9 4064.6L902.8 4071.5L903.7 4075.7L904.6 4076.2L905.5 4074.1L906.4 4069.6L907.3 4063.0L908.2 4054.5L909.1 4044.4L910.0 4033.0L910.9 4020.4L911.8 4007.1L912.7 3993.3L913.6 3979.0L914.5 3964.6L915.5 3950.0L916.4 3935.6L917.3 3921.2L918.2 3907.1L919.1 3893.2L920.0 3879.6L920.9 3866.3L921.8 3853.3L922.7 3840.7L923.6 3828.3L924.5 3816.4L925.4 3804.8L926.3 3793.5L927.2 3782.5L928.1 3771.9L929.0 3761.6L929.9 3751.5L930.8 3741.8L931.7 3732.4L932.6 3723.3L933.5 3714.4L934.4 3705.8L935.3 3697.4L936.2 3689.3L937.1 3681.4L938.0 3673.8L938.9 3666.3L939.8 3659.1L940.7 3652.1L941.6 3645.3L942.6 3638.6L943.5 3632.2L944.4 3625.9L945.3 3619.9L946.2 3613.9L947.1 3608.2L948.0 3602.6L948.9 3597.1L949.8 3591.8L950.7 3586.6L951.6 3581.6L952.5 3576.7L953.4 3571.9L954.3 3567.3L955.2 3562.7L956.1 3558.3L957.0 3554.0L957.9 3549.8L958.8 3545.8L959.7 3541.8L960.6 3537.9L961.5 3534.1L962.4 3530.4L963.3 3526.8L964.2 3523.3L965.1 3519.9L966.0 3516.5L966.9 3513.3L967.8 3510.1L968.7 3507.0L969.7 3504.0L970.6 3501.0L971.5 3498.1L972.4 3495.3L973.3 3492.5L974.2 3489.9L975.1 3487.2L976.0 3484.6L976.9 3482.1L977.8 3479.7L978.7 3477.3L979.6 3474.9L980.5 3472.6L981.4 3470.4L982.3 3468.2L983.2 3466.1L984.1 3464.0L985.0 3461.9L985.9 3459.9L986.8 3457.9L987.7 3456.0L988.6 3454.1L989.5 3452.3L990.4 3450.5L991.3 3448.7L992.2 3447.0L993.1 3445.3L994.0 3443.6L994.9 3442.0L995.8 3440.4L996.8 3438.8L997.7 3437.3L998.6 3435.8L999.5 3434.4L1000.4 3432.9L1001.3 3431.5L1002.2 3430.1L1003.1 3428.8L1004.0 3427.4L1004.9 3426.1L1005.8 3424.9L1006.7 3423.6L1007.6 3422.4L1008.5 3421.2L1009.4 3420.0L1010.3 3418.9L1011.2 3417.7L1012.1 3416.6L1013.0 3415.5L1013.9 3414.4L1014.8 3413.4L1015.7 3412.4L1016.6 3411.4L1017.5 3410.4L1018.4 3409.4L1019.3 3408.4L1020.2 3407.5L1021.1 3406.6L1022.0 3405.7L1022.9 3404.8L1023.9 3403.9L1024.8 3403.0L1025.7 3402.2L1026.6 3401.4L1027.5 3400.6L1028.4 3399.8L1029.3 3399.0L1030.2 3398.2L1031.1 3397.5L1032.0 3396.7L1032.9 3396.0L1033.8 3395.3L1034.7 3394.6L1035.6 3393.9L1036.5 3393.2L1041.0 3390.0L1045.5 3387.0L1050.0 3384.3L1054.6 3381.9L1059.1 3379.6L1063.6 3377.5L1068.1 3375.5L1072.6 3373.7L1077.1 3372.0L1081.7 3370.5L1086.2 3369.0L1090.7 3367.6L1095.2 3366.4L1099.7 3365.1L1104.2 3364.0L1108.8 3362.9L1113.3 3361.9L1117.8 3360.9L1122.3 3360.0L1126.8 3359.1L1131.3 3358.3L1135.9 3357.5L1140.4 3356.8L1144.9 3356.1L1149.4 3355.4L1153.9 3354.8L1158.4 3354.2L1163.0 3353.6L1167.5 3353.1L1172.0 3352.7L1176.5 3352.2L1181.0 3351.9L1185.5 3351.5L1190.1 3351.2L1194.6 3351.0L1199.1 3350.8L1203.6 3350.6L1208.1 3350.4L1212.6 3350.3L1217.2 3350.2L1221.7 3350.1L1226.2 3350.0L1230.7 3349.8L1235.2 3349.7L1239.7 3349.6L1244.3 3349.5L1248.8 3349.4L1253.3 3349.3L1257.8 3349.2L1262.3 3349.1L1266.8 3349.1L1271.4 3349.0L1275.9 3348.9L1280.4 3348.9L1284.9 3348.8L1289.4 3348.7L1293.9 3348.6L1298.5 3348.5L1303.0 3348.4L1307.5 3348.3L1312.0 3348.2L1316.5 3348.0L1321.0 3347.9L1325.6 3347.8L1330.1 3347.6L1334.6 3347.5L1339.1 3347.4L1343.6 3347.3L1348.1 3347.1L1352.7 3347.0L1357.2 3346.9L1361.7 3346.8L1366.2 3346.7L1370.7 3346.6L1375.2 3346.6L1379.8 3346.5L1384.3 3346.4L1388.8 3346.4L1393.3 3346.4L1397.8 3346.4L1402.3 3346.4L1406.9 3346.4L1411.4 3346.5L1415.9 3346.5L1420.4 3346.5L1424.9 3346.5L1429.4 3346.6L1434.0 3346.6L1438.5 3346.6L1443.0 3346.6L1447.5 3346.5L1452.0 3346.5L1456.5 3346.5L1461.1 3346.4L1465.6 3346.4L1470.1 3346.3L1474.6 3346.3L1479.1 3346.3L1483.6 3346.2L1488.2 3346.2L1492.7 3346.2L1497.2 3346.1L1501.7 3346.1L1506.2 3346.1L1510.7 3346.1L1515.3 3346.1L1519.8 3346.2L1524.3 3346.3L1528.8 3346.5L1533.3 3346.6L1537.8 3346.8L1542.4 3347.1L1546.9 3347.3L1551.4 3347.6L1555.9 3347.9L1560.4 3348.2L1564.9 3348.6L1569.5 3348.9L1574.0 3349.2L1578.5 3349.6" fill="none" stroke="#808080" stroke-width="6.4" stroke-dasharray="22.9 29" stroke-dashoffset="33.6" stroke-linejoin="round"/>
<circle cx="223.5" cy="3335.2" r="13.5" fill="#808080"/><circle cx="219.5" cy="3331.6" r="7.3" fill="#a6a6a6"/><circle cx="219.5" cy="3331.6" r="4.6" fill="#cccccc"/><circle cx="219.5" cy="3331.6" r="2.7" fill="#fafafa"/>
<circle cx="291.2" cy="3330.4" r="13.5" fill="#808080"/><circle cx="287.2" cy="3326.8" r="7.3" fill="#a6a6a6"/><circle cx="287.2" cy="3326.8" r="4.6" fill="#cccccc"/><circle cx="287.2" cy="3326.8" r="2.7" fill="#fafafa"/>
<circle cx="359.0" cy="3327.4" r="13.5" fill="#808080"/><circle cx="355.0" cy="3323.8" r="7.3" fill="#a6a6a6"/><circle cx="355.0" cy="3323.8" r="4.6" fill="#cccccc"/><circle cx="355.0" cy="3323.8" r="2.7" fill="#fafafa"/>
<circle cx="426.8" cy="3332.2" r="13.5" fill="#808080"/><circle cx="422.8" cy="3328.6" r="7.3" fill="#a6a6a6"/><circle cx="422.8" cy="3328.6" r="4.6" fill="#cccccc"/><circle cx="422.8" cy="3328.6" r="2.7" fill="#fafafa"/>
<circle cx="494.5" cy="3328.7" r="13.5" fill="#808080"/><circle cx="490.5" cy="3325.1" r="7.3" fill="#a6a6a6"/><circle cx="490.5" cy="3325.1" r="4.6" fill="#cccccc"/><circle cx="490.5" cy="3325.1" r="2.7" fill="#fafafa"/>
<circle cx="562.2" cy="3335.2" r="13.5" fill="#808080"/><circle cx="558.2" cy="3331.6" r="7.3" fill="#a6a6a6"/><circle cx="558.2" cy="3331.6" r="4.6" fill="#cccccc"/><circle cx="558.2" cy="3331.6" r="2.7" fill="#fafafa"/>
<circle cx="630.0" cy="3339.6" r="13.5" fill="#808080"/><circle cx="626.0" cy="3336.0" r="7.3" fill="#a6a6a6"/><circle cx="626.0" cy="3336.0" r="4.6" fill="#cccccc"/><circle cx="626.0" cy="3336.0" r="2.7" fill="#fafafa"/>
<circle cx="697.7" cy="3352.2" r="13.5" fill="#808080"/><circle cx="693.7" cy="3348.6" r="7.3" fill="#a6a6a6"/><circle cx="693.7" cy="3348.6" r="4.6" fill="#cccccc"/><circle cx="693.7" cy="3348.6" r="2.7" fill="#fafafa"/>
<circle cx="765.5" cy="3384.5" r="13.5" fill="#808080"/><circle cx="761.5" cy="3380.9" r="7.3" fill="#a6a6a6"/><circle cx="761.5" cy="3380.9" r="4.6" fill="#cccccc"/><circle cx="761.5" cy="3380.9" r="2.7" fill="#fafafa"/>
<circle cx="833.2" cy="3474.7" r="13.5" fill="#808080"/><circle cx="829.2" cy="3471.1" r="7.3" fill="#a6a6a6"/><circle cx="829.2" cy="3471.1" r="4.6" fill="#cccccc"/><circle cx="829.2" cy="3471.1" r="2.7" fill="#fafafa"/>
<circle cx="901.0" cy="4056.8" r="13.5" fill="#808080"/><circle cx="897.0" cy="4053.2" r="7.3" fill="#a6a6a6"/><circle cx="897.0" cy="4053.2" r="4.6" fill="#cccccc"/><circle cx="897.0" cy="4053.2" r="2.7" fill="#fafafa"/>
<circle cx="968.7" cy="3507.0" r="13.5" fill="#808080"/><circle cx="964.7" cy="3503.4" r="7.3" fill="#a6a6a6"/><circle cx="964.7" cy="3503.4" r="4.6" fill="#cccccc"/><circle cx="964.7" cy="3503.4" r="2.7" fill="#fafafa"/>
<circle cx="1036.5" cy="3393.2" r="13.5" fill="#808080"/><circle cx="1032.5" cy="3389.6" r="7.3" fill="#a6a6a6"/><circle cx="1032.5" cy="3389.6" r="4.6" fill="#cccccc"/><circle cx="1032.5" cy="3389.6" r="2.7" fill="#fafafa"/>
<circle cx="1104.2" cy="3364.0" r="13.5" fill="#808080"/><circle cx="1100.2" cy="3360.4" r="7.3" fill="#a6a6a6"/><circle cx="1100.2" cy="3360.4" r="4.6" fill="#cccccc"/><circle cx="1100.2" cy="3360.4" r="2.7" fill="#fafafa"/>
<circle cx="1172.0" cy="3352.7" r="13.5" fill="#808080"/><circle cx="1168.0" cy="3349.1" r="7.3" fill="#a6a6a6"/><circle cx="1168.0" cy="3349.1" r="4.6" fill="#cccccc"/><circle cx="1168.0" cy="3349.1" r="2.7" fill="#fafafa"/>
<circle cx="1239.8" cy="3349.6" r="13.5" fill="#808080"/><circle cx="1235.8" cy="3346.0" r="7.3" fill="#a6a6a6"/><circle cx="1235.8" cy="3346.0" r="4.6" fill="#cccccc"/><circle cx="1235.8" cy="3346.0" r="2.7" fill="#fafafa"/>
<circle cx="1307.5" cy="3348.3" r="13.5" fill="#808080"/><circle cx="1303.5" cy="3344.7" r="7.3" fill="#a6a6a6"/><circle cx="1303.5" cy="3344.7" r="4.6" fill="#cccccc"/><circle cx="1303.5" cy="3344.7" r="2.7" fill="#fafafa"/>
<circle cx="1375.2" cy="3346.6" r="13.5" fill="#808080"/><circle cx="1371.2" cy="3343.0" r="7.3" fill="#a6a6a6"/><circle cx="1371.2" cy="3343.0" r="4.6" fill="#cccccc"/><circle cx="1371.2" cy="3343.0" r="2.7" fill="#fafafa"/>
<circle cx="1443.0" cy="3346.6" r="13.5" fill="#808080"/><circle cx="1439.0" cy="3343.0" r="7.3" fill="#a6a6a6"/><circle cx="1439.0" cy="3343.0" r="4.6" fill="#cccccc"/><circle cx="1439.0" cy="3343.0" r="2.7" fill="#fafafa"/>
<circle cx="1510.8" cy="3346.1" r="13.5" fill="#808080"/><circle cx="1506.8" cy="3342.5" r="7.3" fill="#a6a6a6"/><circle cx="1506.8" cy="3342.5" r="4.6" fill="#cccccc"/><circle cx="1506.8" cy="3342.5" r="2.7" fill="#fafafa"/>
<circle cx="1578.5" cy="3349.6" r="13.5" fill="#808080"/><circle cx="1574.5" cy="3346.0" r="7.3" fill="#a6a6a6"/><circle cx="1574.5" cy="3346.0" r="4.6" fill="#cccccc"/><circle cx="1574.5" cy="3346.0" r="2.7" fill="#fafafa"/>
<path d="M223.5 3336.1L228.0 3336.9L232.5 3337.3L237.1 3337.4L241.6 3336.8L246.1 3335.2L250.6 3333.2L255.1 3331.6L259.6 3330.9L264.2 3330.8L268.7 3330.8L273.2 3330.8L277.7 3330.8L282.2 3330.8L286.7 3330.8L291.3 3330.9L295.8 3330.9L300.3 3330.9L304.8 3330.9L309.3 3330.9L313.8 3331.0L318.4 3331.0L322.9 3331.0L327.4 3331.1L331.9 3331.1L336.4 3331.1L340.9 3331.2L345.5 3331.2L350.0 3331.2L354.5 3331.3L359.0 3331.3L363.5 3331.3L368.0 3331.3L372.6 3331.3L377.1 3331.3L381.6 3331.3L386.1 3331.3L390.6 3331.3L395.1 3331.4L399.7 3331.4L404.2 3331.4L408.7 3331.4L413.2 3331.5L417.7 3331.5L422.2 3331.6L426.8 3331.7L431.3 3331.9L435.8 3332.0L440.3 3332.2L444.8 3332.4L449.3 3332.6L453.9 3332.8L458.4 3333.0L462.9 3333.2L467.4 3333.5L471.9 3333.7L476.4 3333.9L481.0 3334.2L485.5 3334.4L490.0 3334.6L494.5 3334.8L499.0 3335.0L503.5 3335.2L508.1 3335.4L512.6 3335.6L517.1 3335.8L521.6 3336.0L526.1 3336.2L530.6 3336.5L535.2 3336.7L539.7 3336.9L544.2 3337.2L548.7 3337.4L553.2 3337.7L557.7 3338.0L562.3 3338.3L566.8 3338.5L571.3 3338.8L575.8 3338.9L580.3 3339.1L584.8 3339.2L589.4 3339.3L593.9 3339.5L598.4 3339.6L602.9 3339.8L607.4 3340.0L611.9 3340.3L616.5 3340.6L621.0 3341.1L625.5 3341.6L630.0 3342.2L634.5 3342.9L639.0 3343.7L643.6 3344.6L648.1 3345.6L652.6 3346.6L657.1 3347.7L661.6 3348.9L666.1 3350.1L670.7 3351.4L675.2 3352.8L676.1 3353.0L677.0 3353.3L677.9 3353.6L678.8 3353.9L679.7 3354.2L680.6 3354.5L681.5 3354.8L682.4 3355.1L683.3 3355.4L684.2 3355.7L685.1 3356.0L686.0 3356.3L686.9 3356.6L687.8 3356.9L688.7 3357.2L689.6 3357.5L690.5 3357.9L691.4 3358.2L692.3 3358.5L693.2 3358.8L694.1 3359.2L695.0 3359.5L695.9 3359.8L696.8 3360.2L697.7 3360.5L698.7 3360.9L699.6 3361.2L700.5 3361.6L701.4 3361.9L702.3 3362.3L703.2 3362.6L704.1 3363.0L705.0 3363.4L705.9 3363.8L706.8 3364.2L707.7 3364.6L708.6 3364.9L709.5 3365.4L710.4 3365.8L711.3 3366.2L712.2 3366.6L713.1 3367.0L714.0 3367.4L714.9 3367.9L715.8 3368.3L716.7 3368.8L717.6 3369.2L718.5 3369.7L719.4 3370.2L720.3 3370.6L721.2 3371.1L722.1 3371.6L723.0 3372.1L723.9 3372.6L724.8 3373.1L725.8 3373.6L726.7 3374.2L727.6 3374.7L728.5 3375.2L729.4 3375.8L730.3 3376.3L731.2 3376.9L732.1 3377.5L733.0 3378.1L733.9 3378.7L734.8 3379.3L735.7 3379.9L736.6 3380.5L737.5 3381.1L738.4 3381.8L739.3 3382.4L740.2 3383.1L741.1 3383.7L742.0 3384.4L742.9 3385.1L743.8 3385.8L744.7 3386.5L745.6 3387.2L746.5 3388.0L747.4 3388.7L748.3 3389.5L749.2 3390.3L750.1 3391.1L751.0 3391.9L751.9 3392.7L752.9 3393.5L753.8 3394.3L754.7 3395.2L755.6 3396.1L756.5 3397.0L757.4 3397.9L758.3 3398.8L759.2 3399.7L760.1 3400.7L761.0 3401.6L761.9 3402.6L762.8 3403.6L763.7 3404.6L764.6 3405.7L765.5 3406.7L766.4 3407.8L767.3 3408.9L768.2 3410.0L769.1 3411.1L770.0 3412.3L770.9 3413.4L771.8 3414.6L772.7 3415.8L773.6 3417.1L774.5 3418.3L775.4 3419.6L776.3 3420.9L777.2 3422.2L778.1 3423.6L779.0 3424.9L780.0 3426.3L780.9 3427.8L781.8 3429.2L782.7 3430.7L783.6 3432.2L784.5 3433.8L785.4 3435.3L786.3 3437.0L787.2 3438.6L788.1 3440.3L789.0 3442.0L789.9 3443.7L790.8 3445.5L791.7 3447.3L792.6 3449.2L793.5 3451.1L794.4 3453.1L795.3 3455.0L796.2 3457.1L797.1 3459.2L798.0 3461.3L798.9 3463.5L799.8 3465.7L800.7 3468.0L801.6 3470.3L802.5 3472.7L803.4 3475.1L804.3 3477.6L805.2 3480.1L806.1 3482.8L807.1 3485.4L808.0 3488.2L808.9 3491.0L809.8 3493.9L810.7 3496.8L811.6 3499.8L812.5 3502.9L813.4 3506.1L814.3 3509.3L815.2 3512.7L816.1 3516.1L817.0 3519.6L817.9 3523.2L818.8 3526.9L819.7 3530.6L820.6 3534.5L821.5 3538.5L822.4 3542.5L823.3 3546.7L824.2 3551.0L825.1 3555.4L826.0 3559.9L826.9 3564.6L827.8 3569.3L828.7 3574.2L829.6 3579.3L830.5 3584.4L831.4 3589.7L832.3 3595.2L833.2 3600.7L834.2 3606.5L835.1 3612.4L836.0 3618.5L836.9 3624.7L837.8 3631.1L838.7 3637.7L839.6 3644.5L840.5 3651.4L841.4 3658.6L842.3 3666.0L843.2 3673.5L844.1 3681.3L845.0 3689.3L845.9 3697.6L846.8 3706.0L847.7 3714.7L848.6 3723.7L849.5 3732.9L850.4 3742.4L851.3 3752.1L852.2 3762.0L853.1 3772.3L854.0 3782.8L854.9 3793.6L855.8 3804.6L856.7 3815.9L857.6 3827.5L858.5 3839.3L859.4 3851.3L860.3 3863.5L861.3 3875.9L862.2 3888.4L863.1 3901.0L864.0 3913.6L864.9 3926.1L865.8 3938.5L866.7 3950.7L867.6 3962.4L868.5 3973.6L869.4 3984.2L870.3 3993.8L871.2 4002.5L872.1 4009.8L873.0 4015.8L873.9 4020.3L874.8 4023.1L875.7 4024.1L876.6 4023.4L877.5 4021.1L878.4 4017.3L879.3 4012.0L880.2 4005.4L881.1 3997.6L882.0 3988.9L882.9 3979.4L883.8 3969.2L884.7 3958.5L885.6 3947.5L886.5 3936.3L887.4 3924.9L888.4 3913.4L889.3 3902.0L890.2 3890.6L891.1 3879.3L892.0 3868.2L892.9 3857.2L893.8 3846.3L894.7 3835.6L895.6 3825.1L896.5 3814.8L897.4 3804.7L898.3 3794.7L899.2 3784.8L900.1 3775.1L901.0 3765.6L901.9 3756.1L902.8 3747.0L903.7 3738.0L904.6 3729.3L905.5 3720.8L906.4 3712.5L907.3 3704.4L908.2 3696.5L909.1 3688.8L910.0 3681.2L910.9 3673.9L911.8 3666.7L912.7 3659.7L913.6 3652.9L914.5 3646.3L915.5 3639.8L916.4 3633.4L917.3 3627.2L918.2 3621.1L919.1 3615.2L920.0 3609.4L920.9 3603.8L921.8 3598.2L922.7 3592.8L923.6 3587.5L924.5 3582.4L925.4 3577.3L926.3 3572.4L927.2 3567.6L928.1 3562.8L929.0 3558.2L929.9 3553.7L930.8 3549.3L931.7 3544.9L932.6 3540.7L933.5 3536.5L934.4 3532.5L935.3 3528.5L936.2 3524.6L937.1 3520.8L938.0 3517.1L938.9 3513.5L939.8 3509.9L940.7 3506.4L941.6 3503.0L942.6 3499.7L943.5 3496.4L944.4 3493.2L945.3 3490.1L946.2 3487.0L947.1 3484.0L948.0 3481.1L948.9 3478.3L949.8 3475.5L950.7 3472.7L951.6 3470.1L952.5 3467.5L953.4 3464.9L954.3 3462.5L955.2 3460.1L956.1 3457.7L957.0 3455.4L957.9 3453.2L958.8 3451.0L959.7 3448.9L960.6 3446.8L961.5 3444.8L962.4 3442.8L963.3 3440.9L964.2 3439.1L965.1 3437.3L966.0 3435.6L966.9 3433.9L967.8 3432.3L968.7 3430.7L969.7 3429.2L970.6 3427.7L971.5 3426.2L972.4 3424.8L973.3 3423.4L974.2 3422.0L975.1 3420.7L976.0 3419.3L976.9 3418.0L977.8 3416.8L978.7 3415.5L979.6 3414.3L980.5 3413.1L981.4 3411.9L982.3 3410.8L983.2 3409.6L984.1 3408.5L985.0 3407.4L985.9 3406.4L986.8 3405.3L987.7 3404.3L988.6 3403.3L989.5 3402.3L990.4 3401.3L991.3 3400.4L992.2 3399.5L993.1 3398.5L994.0 3397.7L994.9 3396.8L995.8 3395.9L996.8 3395.1L997.7 3394.2L998.6 3393.4L999.5 3392.6L1000.4 3391.8L1001.3 3391.0L1002.2 3390.3L1003.1 3389.5L1004.0 3388.8L1004.9 3388.1L1005.8 3387.3L1006.7 3386.7L1007.6 3386.0L1008.5 3385.3L1009.4 3384.6L1010.3 3384.0L1011.2 3383.3L1012.1 3382.7L1013.0 3382.1L1013.9 3381.5L1014.8 3380.9L1015.7 3380.3L1016.6 3379.7L1017.5 3379.2L1018.4 3378.6L1019.3 3378.1L1020.2 3377.5L1021.1 3377.0L1022.0 3376.5L1022.9 3376.0L1023.9 3375.5L1024.8 3375.0L1025.7 3374.5L1026.6 3374.0L1027.5 3373.5L1028.4 3373.1L1029.3 3372.6L1030.2 3372.2L1031.1 3371.7L1032.0 3371.3L1032.9 3370.9L1033.8 3370.4L1034.7 3370.0L1035.6 3369.6L1036.5 3369.2L1041.0 3367.4L1045.5 3365.7L1050.0 3364.3L1054.6 3363.0L1059.1 3361.8L1063.6 3360.8L1068.1 3360.0L1072.6 3359.2L1077.1 3358.5L1081.7 3357.8L1086.2 3357.2L1090.7 3356.6L1095.2 3356.0L1099.7 3355.4L1104.2 3354.8L1108.8 3354.2L1113.3 3353.6L1117.8 3353.1L1122.3 3352.6L1126.8 3352.0L1131.3 3351.5L1135.9 3351.1L1140.4 3350.6L1144.9 3350.2L1149.4 3349.8L1153.9 3349.5L1158.4 3349.1L1163.0 3348.8L1167.5 3348.5L1172.0 3348.3L1176.5 3348.1L1181.0 3347.9L1185.5 3347.8L1190.1 3347.6L1194.6 3347.5L1199.1 3347.4L1203.6 3347.4L1208.1 3347.3L1212.6 3347.2L1217.2 3347.2L1221.7 3347.2L1226.2 3347.1L1230.7 3347.1L1235.2 3347.0L1239.7 3347.0L1244.3 3346.9L1248.8 3346.9L1253.3 3346.9L1257.8 3346.8L1262.3 3346.8L1266.8 3346.7L1271.4 3346.7L1275.9 3346.7L1280.4 3346.7L1284.9 3346.6L1289.4 3346.6L1293.9 3346.6L1298.5 3346.6L1303.0 3346.6L1307.5 3346.6L1312.0 3346.5L1316.5 3346.5L1321.0 3346.5L1325.6 3346.5L1330.1 3346.5L1334.6 3346.5L1339.1 3346.5L1343.6 3346.5L1348.1 3346.5L1352.7 3346.5L1357.2 3346.5L1361.7 3346.6L1366.2 3346.6L1370.7 3346.6L1375.2 3346.6L1379.8 3346.6L1384.3 3346.6L1388.8 3346.6L1393.3 3346.6L1397.8 3346.6L1402.3 3346.6L1406.9 3346.6L1411.4 3346.6L1415.9 3346.6L1420.4 3346.6L1424.9 3346.6L1429.4 3346.6L1434.0 3346.6L1438.5 3346.6L1443.0 3346.6L1447.5 3346.5L1452.0 3346.5L1456.5 3346.5L1461.1 3346.4L1465.6 3346.4L1470.1 3346.3L1474.6 3346.3L1479.1 3346.3L1483.6 3346.2L1488.2 3346.2L1492.7 3346.2L1497.2 3346.2L1501.7 3346.1L1506.2 3346.1L1510.7 3346.1L1515.3 3346.1L1519.8 3346.2L1524.3 3346.3L1528.8 3346.4L1533.3 3346.6L1537.8 3346.8L1542.4 3347.1L1546.9 3347.3L1551.4 3347.6L1555.9 3347.9L1560.4 3348.2L1564.9 3348.5L1569.5 3348.9L1574.0 3349.2L1578.5 3349.6" fill="none" stroke="#404040" stroke-width="6.4" stroke-dasharray="4.3 26.7" stroke-linejoin="round"/>
<path d="M211.2 3336.1H235.8M223.5 3323.8V3348.4" stroke="#404040" stroke-width="2" fill="none"/>
<path d="M278.9 3330.9H303.5M291.2 3318.6V3343.2" stroke="#404040" stroke-width="2" fill="none"/>
<path d="M346.7 3331.3H371.3M359.0 3319.0V3343.6" stroke="#404040" stroke-width="2" fill="none"/>
<path d="M414.4 3331.7H439.1M426.8 3319.4V3344.0" stroke="#404040" stroke-width="2" fill="none"/>
<path d="M482.2 3334.8H506.8M494.5 3322.5V3347.1" stroke="#404040" stroke-width="2" fill="none"/>
<path d="M550.0 3338.3H574.5M562.2 3326.0V3350.6" stroke="#404040" stroke-width="2" fill="none"/>
<path d="M617.7 3342.2H642.3M630.0 3329.9V3354.5" stroke="#404040" stroke-width="2" fill="none"/>
<path d="M685.4 3360.5H710.0M697.7 3348.2V3372.8" stroke="#404040" stroke-width="2" fill="none"/>
<path d="M753.2 3406.7H777.8M765.5 3394.4V3419.0" stroke="#404040" stroke-width="2" fill="none"/>
<path d="M820.9 3600.7H845.5M833.2 3588.4V3613.0" stroke="#404040" stroke-width="2" fill="none"/>
<path d="M888.7 3765.6H913.3M901.0 3753.3V3777.9" stroke="#404040" stroke-width="2" fill="none"/>
<path d="M956.4 3430.7H981.0M968.7 3418.4V3443.0" stroke="#404040" stroke-width="2" fill="none"/>
<path d="M1024.2 3369.2H1048.8M1036.5 3356.9V3381.5" stroke="#404040" stroke-width="2" fill="none"/>
<path d="M1092.0 3354.8H1116.5M1104.2 3342.5V3367.1" stroke="#404040" stroke-width="2" fill="none"/>
<path d="M1159.7 3348.3H1184.3M1172.0 3336.0V3360.6" stroke="#404040" stroke-width="2" fill="none"/>
<path d="M1227.5 3347.0H1252.0M1239.8 3334.7V3359.3" stroke="#404040" stroke-width="2" fill="none"/>
<path d="M1295.2 3346.6H1319.8M1307.5 3334.3V3358.9" stroke="#404040" stroke-width="2" fill="none"/>
<path d="M1363.0 3346.6H1387.5M1375.2 3334.3V3358.9" stroke="#404040" stroke-width="2" fill="none"/>
<path d="M1430.7 3346.6H1455.3M1443.0 3334.3V3358.9" stroke="#404040" stroke-width="2" fill="none"/>
<path d="M1498.5 3346.1H1523.0M1510.8 3333.8V3358.4" stroke="#404040" stroke-width="2" fill="none"/>
<path d="M1566.2 3349.6H1590.8M1578.5 3337.3V3361.9" stroke="#404040" stroke-width="2" fill="none"/>
<path d="M223.5 3337.4L228.0 3337.4L232.5 3337.4L237.1 3337.4L241.6 3336.7L246.1 3335.1L250.6 3333.1L255.1 3331.5L259.6 3330.9L264.2 3330.9L268.7 3331.0L273.2 3331.1L277.7 3331.3L282.2 3331.4L286.7 3331.6L291.3 3331.7L295.8 3331.9L300.3 3332.1L304.8 3332.3L309.3 3332.5L313.8 3332.8L318.4 3333.0L322.9 3333.2L327.4 3333.5L331.9 3333.7L336.4 3334.0L340.9 3334.2L345.5 3334.4L350.0 3334.5L354.5 3334.7L359.0 3334.8L363.5 3334.8L368.0 3334.7L372.6 3334.5L377.1 3334.2L381.6 3333.8L386.1 3333.4L390.6 3333.0L395.1 3332.5L399.7 3332.1L404.2 3331.7L408.7 3331.3L413.2 3331.1L417.7 3330.9L422.2 3330.8L426.8 3330.9L431.3 3331.0L435.8 3331.3L440.3 3331.6L444.8 3331.9L449.3 3332.3L453.9 3332.7L458.4 3333.1L462.9 3333.5L467.4 3334.0L471.9 3334.4L476.4 3334.8L481.0 3335.2L485.5 3335.5L490.0 3335.8L494.5 3336.1L499.0 3336.3L503.5 3336.5L508.1 3336.6L512.6 3336.7L517.1 3336.8L521.6 3336.9L526.1 3337.0L530.6 3337.1L535.2 3337.2L539.7 3337.3L544.2 3337.4L548.7 3337.6L553.2 3337.8L557.7 3338.0L562.3 3338.3L566.8 3338.6L571.3 3338.9L575.8 3339.3L580.3 3339.6L584.8 3340.0L589.4 3340.4L593.9 3340.9L598.4 3341.4L602.9 3341.9L607.4 3342.5L611.9 3343.1L616.5 3343.8L621.0 3344.5L625.5 3345.3L630.0 3346.1L634.5 3347.0L639.0 3348.1L643.6 3349.2L648.1 3350.4L652.6 3351.8L657.1 3353.2L661.6 3354.7L666.1 3356.3L670.7 3357.9L675.2 3359.7L676.1 3360.1L677.0 3360.5L677.9 3360.8L678.8 3361.2L679.7 3361.6L680.6 3362.0L681.5 3362.4L682.4 3362.8L683.3 3363.2L684.2 3363.6L685.1 3364.0L686.0 3364.4L686.9 3364.8L687.8 3365.2L688.7 3365.6L689.6 3366.1L690.5 3366.5L691.4 3366.9L692.3 3367.4L693.2 3367.8L694.1 3368.3L695.0 3368.7L695.9 3369.2L696.8 3369.6L697.7 3370.1L698.7 3370.6L699.6 3371.1L700.5 3371.5L701.4 3372.0L702.3 3372.5L703.2 3373.0L704.1 3373.5L705.0 3374.0L705.9 3374.6L706.8 3375.1L707.7 3375.6L708.6 3376.2L709.5 3376.7L710.4 3377.3L711.3 3377.8L712.2 3378.4L713.1 3379.0L714.0 3379.6L714.9 3380.2L715.8 3380.8L716.7 3381.4L717.6 3382.1L718.5 3382.7L719.4 3383.4L720.3 3384.0L721.2 3384.7L722.1 3385.4L723.0 3386.1L723.9 3386.8L724.8 3387.5L725.8 3388.3L726.7 3389.0L727.6 3389.8L728.5 3390.5L729.4 3391.3L730.3 3392.1L731.2 3393.0L732.1 3393.8L733.0 3394.7L733.9 3395.5L734.8 3396.4L735.7 3397.3L736.6 3398.3L737.5 3399.2L738.4 3400.2L739.3 3401.1L740.2 3402.1L741.1 3403.2L742.0 3404.2L742.9 3405.3L743.8 3406.3L744.7 3407.5L745.6 3408.6L746.5 3409.7L747.4 3410.9L748.3 3412.1L749.2 3413.3L750.1 3414.6L751.0 3415.9L751.9 3417.2L752.9 3418.5L753.8 3419.9L754.7 3421.3L755.6 3422.7L756.5 3424.2L757.4 3425.7L758.3 3427.2L759.2 3428.8L760.1 3430.4L761.0 3432.0L761.9 3433.7L762.8 3435.4L763.7 3437.1L764.6 3438.9L765.5 3440.7L766.4 3442.6L767.3 3444.5L768.2 3446.5L769.1 3448.6L770.0 3450.7L770.9 3452.9L771.8 3455.1L772.7 3457.4L773.6 3459.8L774.5 3462.2L775.4 3464.7L776.3 3467.2L777.2 3469.8L778.1 3472.5L779.0 3475.3L780.0 3478.1L780.9 3481.0L781.8 3484.0L782.7 3487.1L783.6 3490.2L784.5 3493.4L785.4 3496.7L786.3 3500.0L787.2 3503.5L788.1 3507.0L789.0 3510.6L789.9 3514.3L790.8 3518.1L791.7 3522.0L792.6 3526.0L793.5 3530.0L794.4 3534.2L795.3 3538.5L796.2 3542.9L797.1 3547.3L798.0 3551.9L798.9 3556.6L799.8 3561.5L800.7 3566.4L801.6 3571.4L802.5 3576.6L803.4 3581.9L804.3 3587.4L805.2 3592.9L806.1 3598.6L807.1 3604.5L808.0 3610.5L808.9 3616.6L809.8 3622.9L810.7 3629.4L811.6 3636.0L812.5 3642.8L813.4 3649.7L814.3 3656.8L815.2 3664.1L816.1 3671.6L817.0 3679.3L817.9 3687.1L818.8 3695.2L819.7 3703.5L820.6 3711.9L821.5 3720.6L822.4 3729.5L823.3 3738.6L824.2 3747.9L825.1 3757.4L826.0 3767.1L826.9 3777.0L827.8 3787.1L828.7 3797.5L829.6 3808.0L830.5 3818.6L831.4 3829.5L832.3 3840.4L833.2 3851.4L834.2 3862.4L835.1 3873.2L836.0 3883.7L836.9 3894.0L837.8 3903.9L838.7 3913.5L839.6 3922.7L840.5 3931.4L841.4 3939.5L842.3 3946.9L843.2 3953.5L844.1 3959.2L845.0 3963.9L845.9 3967.6L846.8 3970.2L847.7 3971.5L848.6 3971.7L849.5 3970.6L850.4 3968.2L851.3 3964.5L852.2 3959.7L853.1 3953.7L854.0 3946.8L854.9 3939.1L855.8 3930.6L856.7 3921.5L857.6 3911.9L858.5 3901.9L859.4 3891.6L860.3 3881.0L861.3 3870.4L862.2 3859.7L863.1 3848.9L864.0 3838.2L864.9 3827.6L865.8 3817.0L866.7 3806.6L867.6 3796.3L868.5 3786.2L869.4 3776.3L870.3 3766.6L871.2 3757.1L872.1 3747.8L873.0 3738.6L873.9 3729.7L874.8 3721.0L875.7 3712.5L876.6 3704.3L877.5 3696.2L878.4 3688.3L879.3 3680.6L880.2 3673.1L881.1 3665.8L882.0 3658.7L882.9 3651.7L883.8 3645.0L884.7 3638.4L885.6 3631.9L886.5 3625.7L887.4 3619.6L888.4 3613.6L889.3 3607.8L890.2 3602.2L891.1 3596.7L892.0 3591.3L892.9 3586.1L893.8 3581.0L894.7 3576.0L895.6 3571.2L896.5 3566.4L897.4 3561.8L898.3 3557.3L899.2 3553.0L900.1 3548.7L901.0 3544.5L901.9 3540.4L902.8 3536.5L903.7 3532.6L904.6 3528.8L905.5 3525.1L906.4 3521.5L907.3 3518.0L908.2 3514.5L909.1 3511.2L910.0 3507.9L910.9 3504.7L911.8 3501.6L912.7 3498.5L913.6 3495.5L914.5 3492.6L915.5 3489.8L916.4 3487.0L917.3 3484.3L918.2 3481.6L919.1 3479.0L920.0 3476.4L920.9 3474.0L921.8 3471.5L922.7 3469.1L923.6 3466.8L924.5 3464.5L925.4 3462.3L926.3 3460.1L927.2 3458.0L928.1 3455.9L929.0 3453.9L929.9 3451.9L930.8 3449.9L931.7 3448.0L932.6 3446.1L933.5 3444.3L934.4 3442.5L935.3 3440.7L936.2 3439.0L937.1 3437.3L938.0 3435.7L938.9 3434.0L939.8 3432.5L940.7 3430.9L941.6 3429.4L942.6 3427.9L943.5 3426.4L944.4 3425.0L945.3 3423.6L946.2 3422.2L947.1 3420.8L948.0 3419.5L948.9 3418.2L949.8 3416.9L950.7 3415.7L951.6 3414.4L952.5 3413.2L953.4 3412.1L954.3 3410.9L955.2 3409.8L956.1 3408.6L957.0 3407.5L957.9 3406.5L958.8 3405.4L959.7 3404.4L960.6 3403.3L961.5 3402.3L962.4 3401.4L963.3 3400.4L964.2 3399.4L965.1 3398.5L966.0 3397.6L966.9 3396.7L967.8 3395.8L968.7 3395.0L969.7 3394.1L970.6 3393.3L971.5 3392.4L972.4 3391.6L973.3 3390.8L974.2 3390.1L975.1 3389.3L976.0 3388.6L976.9 3387.8L977.8 3387.1L978.7 3386.4L979.6 3385.7L980.5 3385.0L981.4 3384.3L982.3 3383.7L983.2 3383.0L984.1 3382.4L985.0 3381.8L985.9 3381.2L986.8 3380.6L987.7 3380.0L988.6 3379.4L989.5 3378.8L990.4 3378.3L991.3 3377.7L992.2 3377.2L993.1 3376.6L994.0 3376.1L994.9 3375.6L995.8 3375.1L996.8 3374.6L997.7 3374.1L998.6 3373.6L999.5 3373.2L1000.4 3372.7L1001.3 3372.2L1002.2 3371.8L1003.1 3371.3L1004.0 3370.9L1004.9 3370.5L1005.8 3370.1L1006.7 3369.7L1007.6 3369.3L1008.5 3368.9L1009.4 3368.5L1010.3 3368.1L1011.2 3367.7L1012.1 3367.3L1013.0 3367.0L1013.9 3366.6L1014.8 3366.2L1015.7 3365.9L1016.6 3365.6L1017.5 3365.2L1018.4 3364.9L1019.3 3364.6L1020.2 3364.2L1021.1 3363.9L1022.0 3363.6L1022.9 3363.3L1023.9 3363.0L1024.8 3362.7L1025.7 3362.4L1026.6 3362.1L1027.5 3361.8L1028.4 3361.5L1029.3 3361.3L1030.2 3361.0L1031.1 3360.7L1032.0 3360.5L1032.9 3360.2L1033.8 3359.9L1034.7 3359.7L1035.6 3359.4L1036.5 3359.2L1041.0 3358.0L1045.5 3357.0L1050.0 3356.1L1054.6 3355.3L1059.1 3354.5L1063.6 3353.8L1068.1 3353.2L1072.6 3352.7L1077.1 3352.2L1081.7 3351.8L1086.2 3351.4L1090.7 3351.0L1095.2 3350.7L1099.7 3350.4L1104.2 3350.0L1108.8 3349.7L1113.3 3349.5L1117.8 3349.2L1122.3 3349.0L1126.8 3348.8L1131.3 3348.6L1135.9 3348.4L1140.4 3348.3L1144.9 3348.1L1149.4 3348.0L1153.9 3347.9L1158.4 3347.7L1163.0 3347.6L1167.5 3347.5L1172.0 3347.4L1176.5 3347.3L1181.0 3347.2L1185.5 3347.2L1190.1 3347.1L1194.6 3347.0L1199.1 3347.0L1203.6 3346.9L1208.1 3346.9L1212.6 3346.8L1217.2 3346.8L1221.7 3346.7L1226.2 3346.7L1230.7 3346.6L1235.2 3346.6L1239.7 3346.6L1244.3 3346.5L1248.8 3346.5L1253.3 3346.4L1257.8 3346.4L1262.3 3346.3L1266.8 3346.3L1271.4 3346.3L1275.9 3346.2L1280.4 3346.2L1284.9 3346.2L1289.4 3346.2L1293.9 3346.1L1298.5 3346.1L1303.0 3346.1L1307.5 3346.1L1312.0 3346.1L1316.5 3346.1L1321.0 3346.2L1325.6 3346.2L1330.1 3346.2L1334.6 3346.2L1339.1 3346.3L1343.6 3346.3L1348.1 3346.3L1352.7 3346.4L1357.2 3346.4L1361.7 3346.5L1366.2 3346.5L1370.7 3346.5L1375.2 3346.6L1379.8 3346.6L1384.3 3346.6L1388.8 3346.7L1393.3 3346.7L1397.8 3346.7L1402.3 3346.8L1406.9 3346.8L1411.4 3346.8L1415.9 3346.9L1420.4 3346.9L1424.9 3346.9L1429.4 3346.9L1434.0 3347.0L1438.5 3347.0L1443.0 3347.0L1447.5 3347.0L1452.0 3347.0L1456.5 3347.0L1461.1 3347.0L1465.6 3347.0L1470.1 3347.0L1474.6 3346.9L1479.1 3346.9L1483.6 3346.9L1488.2 3346.9L1492.7 3346.9L1497.2 3346.9L1501.7 3346.9L1506.2 3347.0L1510.7 3347.0L1515.3 3347.0L1519.8 3347.1L1524.3 3347.2L1528.8 3347.3L1533.3 3347.5L1537.8 3347.6L1542.4 3347.8L1546.9 3348.0L1551.4 3348.2L1555.9 3348.4L1560.4 3348.6L1564.9 3348.9L1569.5 3349.1L1574.0 3349.4L1578.5 3349.6" fill="none" stroke="#000000" stroke-width="6" stroke-linejoin="round"/>
<path d="M210.2 3324.1L236.8 3350.7M210.2 3350.7L236.8 3324.1" stroke="#000000" stroke-width="2.4" fill="none"/>
<path d="M277.9 3318.4L304.5 3345.0M277.9 3345.0L304.5 3318.4" stroke="#000000" stroke-width="2.4" fill="none"/>
<path d="M345.7 3321.5L372.3 3348.1M345.7 3348.1L372.3 3321.5" stroke="#000000" stroke-width="2.4" fill="none"/>
<path d="M413.4 3317.6L440.1 3344.2M413.4 3344.2L440.1 3317.6" stroke="#000000" stroke-width="2.4" fill="none"/>
<path d="M481.2 3322.8L507.8 3349.4M481.2 3349.4L507.8 3322.8" stroke="#000000" stroke-width="2.4" fill="none"/>
<path d="M549.0 3325.0L575.5 3351.6M549.0 3351.6L575.5 3325.0" stroke="#000000" stroke-width="2.4" fill="none"/>
<path d="M616.7 3332.8L643.3 3359.4M616.7 3359.4L643.3 3332.8" stroke="#000000" stroke-width="2.4" fill="none"/>
<path d="M684.4 3356.8L711.0 3383.4M684.4 3383.4L711.0 3356.8" stroke="#000000" stroke-width="2.4" fill="none"/>
<path d="M752.2 3427.4L778.8 3454.0M752.2 3454.0L778.8 3427.4" stroke="#000000" stroke-width="2.4" fill="none"/>
<path d="M819.9 3838.1L846.5 3864.7M819.9 3864.7L846.5 3838.1" stroke="#000000" stroke-width="2.4" fill="none"/>
<path d="M887.7 3531.2L914.3 3557.8M887.7 3557.8L914.3 3531.2" stroke="#000000" stroke-width="2.4" fill="none"/>
<path d="M955.4 3381.7L982.0 3408.3M955.4 3408.3L982.0 3381.7" stroke="#000000" stroke-width="2.4" fill="none"/>
<path d="M1023.2 3345.9L1049.8 3372.5M1023.2 3372.5L1049.8 3345.9" stroke="#000000" stroke-width="2.4" fill="none"/>
<path d="M1091.0 3336.7L1117.5 3363.3M1091.0 3363.3L1117.5 3336.7" stroke="#000000" stroke-width="2.4" fill="none"/>
<path d="M1158.7 3334.1L1185.3 3360.7M1158.7 3360.7L1185.3 3334.1" stroke="#000000" stroke-width="2.4" fill="none"/>
<path d="M1226.5 3333.3L1253.0 3359.9M1226.5 3359.9L1253.0 3333.3" stroke="#000000" stroke-width="2.4" fill="none"/>
<path d="M1294.2 3332.8L1320.8 3359.4M1294.2 3359.4L1320.8 3332.8" stroke="#000000" stroke-width="2.4" fill="none"/>
<path d="M1362.0 3333.3L1388.5 3359.9M1362.0 3359.9L1388.5 3333.3" stroke="#000000" stroke-width="2.4" fill="none"/>
<path d="M1429.7 3333.7L1456.3 3360.3M1429.7 3360.3L1456.3 3333.7" stroke="#000000" stroke-width="2.4" fill="none"/>
<path d="M1497.5 3333.7L1524.0 3360.3M1497.5 3360.3L1524.0 3333.7" stroke="#000000" stroke-width="2.4" fill="none"/>
<path d="M1565.2 3336.3L1591.8 3362.9M1565.2 3362.9L1591.8 3336.3" stroke="#000000" stroke-width="2.4" fill="none"/>
<path d="M223.5 3333.0L228.0 3335.3L232.5 3336.8L237.1 3337.4L241.6 3336.7L246.1 3335.1L250.6 3333.1L255.1 3331.5L259.6 3330.9L264.2 3331.1L268.7 3331.5L273.2 3332.1L277.7 3332.7L282.2 3333.3L286.7 3333.7L291.3 3333.9L295.8 3334.0L300.3 3334.0L304.8 3333.9L309.3 3333.9L313.8 3333.8L318.4 3333.7L322.9 3333.6L327.4 3333.5L331.9 3333.4L336.4 3333.2L340.9 3333.1L345.5 3333.0L350.0 3332.8L354.5 3332.7L359.0 3332.6L363.5 3332.5L368.0 3332.4L372.6 3332.2L377.1 3332.1L381.6 3331.9L386.1 3331.7L390.6 3331.6L395.1 3331.4L399.7 3331.3L404.2 3331.1L408.7 3331.0L413.2 3330.9L417.7 3330.9L422.2 3330.9L426.8 3330.9L431.3 3330.9L435.8 3330.9L440.3 3331.0L444.8 3331.0L449.3 3331.1L453.9 3331.2L458.4 3331.3L462.9 3331.4L467.4 3331.5L471.9 3331.7L476.4 3331.8L481.0 3332.0L485.5 3332.2L490.0 3332.4L494.5 3332.6L499.0 3332.8L503.5 3333.1L508.1 3333.4L512.6 3333.7L517.1 3334.0L521.6 3334.3L526.1 3334.6L530.6 3334.9L535.2 3335.3L539.7 3335.7L544.2 3336.1L548.7 3336.5L553.2 3336.9L557.7 3337.4L562.3 3337.8L566.8 3338.4L571.3 3338.9L575.8 3339.5L580.3 3340.2L584.8 3340.9L589.4 3341.6L593.9 3342.4L598.4 3343.2L602.9 3344.1L607.4 3345.0L611.9 3346.0L616.5 3347.0L621.0 3348.1L625.5 3349.3L630.0 3350.5L634.5 3351.8L639.0 3353.2L643.6 3354.7L648.1 3356.3L652.6 3358.0L657.1 3359.9L661.6 3361.8L666.1 3363.9L670.7 3366.2L675.2 3368.5L676.1 3369.0L677.0 3369.5L677.9 3370.0L678.8 3370.5L679.7 3371.0L680.6 3371.5L681.5 3372.1L682.4 3372.6L683.3 3373.1L684.2 3373.7L685.1 3374.2L686.0 3374.8L686.9 3375.3L687.8 3375.9L688.7 3376.5L689.6 3377.1L690.5 3377.7L691.4 3378.3L692.3 3378.9L693.2 3379.5L694.1 3380.1L695.0 3380.8L695.9 3381.4L696.8 3382.1L697.7 3382.7L698.7 3383.4L699.6 3384.1L700.5 3384.8L701.4 3385.5L702.3 3386.2L703.2 3387.0L704.1 3387.7L705.0 3388.5L705.9 3389.2L706.8 3390.0L707.7 3390.8L708.6 3391.6L709.5 3392.5L710.4 3393.3L711.3 3394.2L712.2 3395.0L713.1 3395.9L714.0 3396.8L714.9 3397.8L715.8 3398.7L716.7 3399.7L717.6 3400.6L718.5 3401.6L719.4 3402.6L720.3 3403.7L721.2 3404.7L722.1 3405.8L723.0 3406.9L723.9 3408.0L724.8 3409.1L725.8 3410.3L726.7 3411.5L727.6 3412.7L728.5 3413.9L729.4 3415.2L730.3 3416.5L731.2 3417.8L732.1 3419.1L733.0 3420.4L733.9 3421.8L734.8 3423.3L735.7 3424.7L736.6 3426.2L737.5 3427.7L738.4 3429.2L739.3 3430.8L740.2 3432.4L741.1 3434.0L742.0 3435.7L742.9 3437.4L743.8 3439.1L744.7 3440.9L745.6 3442.7L746.5 3444.6L747.4 3446.5L748.3 3448.5L749.2 3450.4L750.1 3452.5L751.0 3454.6L751.9 3456.7L752.9 3458.9L753.8 3461.1L754.7 3463.4L755.6 3465.7L756.5 3468.1L757.4 3470.5L758.3 3473.0L759.2 3475.6L760.1 3478.2L761.0 3480.9L761.9 3483.6L762.8 3486.4L763.7 3489.3L764.6 3492.2L765.5 3495.2L766.4 3498.3L767.3 3501.5L768.2 3504.7L769.1 3508.0L770.0 3511.4L770.9 3514.9L771.8 3518.5L772.7 3522.2L773.6 3525.9L774.5 3529.8L775.4 3533.7L776.3 3537.8L777.2 3541.9L778.1 3546.2L779.0 3550.6L780.0 3555.0L780.9 3559.6L781.8 3564.4L782.7 3569.2L783.6 3574.2L784.5 3579.3L785.4 3584.5L786.3 3589.9L787.2 3595.4L788.1 3601.1L789.0 3606.9L789.9 3612.9L790.8 3619.0L791.7 3625.3L792.6 3631.8L793.5 3638.4L794.4 3645.3L795.3 3652.3L796.2 3659.5L797.1 3666.8L798.0 3674.4L798.9 3682.2L799.8 3690.1L800.7 3698.3L801.6 3706.7L802.5 3715.3L803.4 3724.1L804.3 3733.1L805.2 3742.3L806.1 3751.7L807.1 3761.3L808.0 3771.1L808.9 3781.0L809.8 3791.2L810.7 3801.4L811.6 3811.8L812.5 3822.3L813.4 3832.8L814.3 3843.4L815.2 3853.9L816.1 3864.3L817.0 3874.6L817.9 3884.6L818.8 3894.3L819.7 3903.6L820.6 3912.4L821.5 3920.5L822.4 3927.8L823.3 3934.3L824.2 3939.8L825.1 3944.2L826.0 3947.4L826.9 3949.3L827.8 3950.0L828.7 3949.5L829.6 3947.9L830.5 3945.2L831.4 3941.3L832.3 3936.2L833.2 3929.9L834.2 3922.6L835.1 3914.4L836.0 3905.7L836.9 3896.4L837.8 3886.7L838.7 3876.6L839.6 3866.3L840.5 3855.9L841.4 3845.3L842.3 3834.7L843.2 3824.2L844.1 3813.7L845.0 3803.2L845.9 3792.9L846.8 3782.8L847.7 3772.8L848.6 3763.0L849.5 3753.3L850.4 3743.9L851.3 3734.6L852.2 3725.6L853.1 3716.8L854.0 3708.1L854.9 3699.7L855.8 3691.5L856.7 3683.5L857.6 3675.7L858.5 3668.0L859.4 3660.6L860.3 3653.4L861.3 3646.3L862.2 3639.4L863.1 3632.8L864.0 3626.2L864.9 3619.9L865.8 3613.7L866.7 3607.7L867.6 3601.8L868.5 3596.1L869.4 3590.5L870.3 3585.1L871.2 3579.8L872.1 3574.6L873.0 3569.6L873.9 3564.7L874.8 3560.0L875.7 3555.3L876.6 3550.8L877.5 3546.4L878.4 3542.1L879.3 3537.9L880.2 3533.8L881.1 3529.8L882.0 3525.9L882.9 3522.1L883.8 3518.4L884.7 3514.8L885.6 3511.3L886.5 3507.9L887.4 3504.5L888.4 3501.3L889.3 3498.1L890.2 3495.0L891.1 3491.9L892.0 3489.0L892.9 3486.1L893.8 3483.3L894.7 3480.5L895.6 3477.8L896.5 3475.2L897.4 3472.6L898.3 3470.1L899.2 3467.7L900.1 3465.3L901.0 3463.0L901.9 3460.7L902.8 3458.5L903.7 3456.3L904.6 3454.2L905.5 3452.1L906.4 3450.1L907.3 3448.1L908.2 3446.2L909.1 3444.3L910.0 3442.4L910.9 3440.6L911.8 3438.9L912.7 3437.1L913.6 3435.4L914.5 3433.8L915.5 3432.2L916.4 3430.6L917.3 3429.0L918.2 3427.5L919.1 3426.1L920.0 3424.6L920.9 3423.2L921.8 3421.8L922.7 3420.4L923.6 3419.1L924.5 3417.8L925.4 3416.5L926.3 3415.3L927.2 3414.1L928.1 3412.9L929.0 3411.7L929.9 3410.6L930.8 3409.4L931.7 3408.3L932.6 3407.3L933.5 3406.2L934.4 3405.2L935.3 3404.2L936.2 3403.2L937.1 3402.2L938.0 3401.2L938.9 3400.3L939.8 3399.4L940.7 3398.5L941.6 3397.6L942.6 3396.7L943.5 3395.9L944.4 3395.1L945.3 3394.2L946.2 3393.4L947.1 3392.7L948.0 3391.9L948.9 3391.1L949.8 3390.4L950.7 3389.7L951.6 3388.9L952.5 3388.2L953.4 3387.6L954.3 3386.9L955.2 3386.2L956.1 3385.6L957.0 3384.9L957.9 3384.3L958.8 3383.7L959.7 3383.1L960.6 3382.5L961.5 3381.9L962.4 3381.3L963.3 3380.7L964.2 3380.2L965.1 3379.6L966.0 3379.1L966.9 3378.5L967.8 3378.0L968.7 3377.5L969.7 3377.0L970.6 3376.5L971.5 3376.0L972.4 3375.5L973.3 3375.1L974.2 3374.6L975.1 3374.2L976.0 3373.7L976.9 3373.3L977.8 3372.8L978.7 3372.4L979.6 3372.0L980.5 3371.6L981.4 3371.2L982.3 3370.8L983.2 3370.4L984.1 3370.0L985.0 3369.7L985.9 3369.3L986.8 3368.9L987.7 3368.6L988.6 3368.2L989.5 3367.9L990.4 3367.6L991.3 3367.2L992.2 3366.9L993.1 3366.6L994.0 3366.3L994.9 3366.0L995.8 3365.7L996.8 3365.4L997.7 3365.1L998.6 3364.8L999.5 3364.5L1000.4 3364.2L1001.3 3363.9L1002.2 3363.7L1003.1 3363.4L1004.0 3363.1L1004.9 3362.9L1005.8 3362.6L1006.7 3362.4L1007.6 3362.1L1008.5 3361.9L1009.4 3361.6L1010.3 3361.4L1011.2 3361.2L1012.1 3360.9L1013.0 3360.7L1013.9 3360.5L1014.8 3360.3L1015.7 3360.0L1016.6 3359.8L1017.5 3359.6L1018.4 3359.4L1019.3 3359.2L1020.2 3359.0L1021.1 3358.8L1022.0 3358.6L1022.9 3358.4L1023.9 3358.2L1024.8 3358.0L1025.7 3357.8L1026.6 3357.6L1027.5 3357.5L1028.4 3357.3L1029.3 3357.1L1030.2 3356.9L1031.1 3356.7L1032.0 3356.6L1032.9 3356.4L1033.8 3356.2L1034.7 3356.0L1035.6 3355.9L1036.5 3355.7L1041.0 3354.9L1045.5 3354.1L1050.0 3353.4L1054.6 3352.7L1059.1 3352.1L1063.6 3351.5L1068.1 3350.9L1072.6 3350.3L1077.1 3349.8L1081.7 3349.3L1086.2 3348.9L1090.7 3348.5L1095.2 3348.1L1099.7 3347.7L1104.2 3347.4L1108.8 3347.1L1113.3 3346.9L1117.8 3346.7L1122.3 3346.5L1126.8 3346.4L1131.3 3346.3L1135.9 3346.2L1140.4 3346.1L1144.9 3346.0L1149.4 3345.9L1153.9 3345.9L1158.4 3345.8L1163.0 3345.8L1167.5 3345.7L1172.0 3345.7L1176.5 3345.6L1181.0 3345.6L1185.5 3345.5L1190.1 3345.5L1194.6 3345.5L1199.1 3345.5L1203.6 3345.4L1208.1 3345.4L1212.6 3345.4L1217.2 3345.4L1221.7 3345.3L1226.2 3345.3L1230.7 3345.3L1235.2 3345.3L1239.7 3345.2L1244.3 3345.2L1248.8 3345.2L1253.3 3345.1L1257.8 3345.1L1262.3 3345.1L1266.8 3345.0L1271.4 3345.0L1275.9 3344.9L1280.4 3344.9L1284.9 3344.9L1289.4 3344.9L1293.9 3344.8L1298.5 3344.8L1303.0 3344.8L1307.5 3344.8L1312.0 3344.8L1316.5 3344.8L1321.0 3344.8L1325.6 3344.9L1330.1 3344.9L1334.6 3344.9L1339.1 3345.0L1343.6 3345.0L1348.1 3345.0L1352.7 3345.1L1357.2 3345.1L1361.7 3345.1L1366.2 3345.2L1370.7 3345.2L1375.2 3345.2L1379.8 3345.3L1384.3 3345.3L1388.8 3345.3L1393.3 3345.4L1397.8 3345.4L1402.3 3345.5L1406.9 3345.5L1411.4 3345.5L1415.9 3345.6L1420.4 3345.6L1424.9 3345.6L1429.4 3345.6L1434.0 3345.7L1438.5 3345.7L1443.0 3345.7L1447.5 3345.7L1452.0 3345.7L1456.5 3345.7L1461.1 3345.7L1465.6 3345.7L1470.1 3345.7L1474.6 3345.6L1479.1 3345.6L1483.6 3345.6L1488.2 3345.6L1492.7 3345.6L1497.2 3345.6L1501.7 3345.6L1506.2 3345.7L1510.7 3345.7L1515.3 3345.7L1519.8 3345.8L1524.3 3345.9L1528.8 3346.0L1533.3 3346.1L1537.8 3346.3L1542.4 3346.5L1546.9 3346.7L1551.4 3346.9L1555.9 3347.1L1560.4 3347.3L1564.9 3347.5L1569.5 3347.8L1574.0 3348.0L1578.5 3348.3" fill="none" stroke="#c0c0c0" stroke-width="6.5" stroke-dasharray="28 16.3 5 16" stroke-linejoin="round"/>
<path d="M210.2 3319.7L236.8 3346.3M210.2 3346.3L236.8 3319.7M210.2 3333.0H236.8M223.5 3319.7V3346.3" stroke="#c0c0c0" stroke-width="2.2" fill="none"/>
<path d="M277.9 3320.6L304.5 3347.2M277.9 3347.2L304.5 3320.6M277.9 3333.9H304.5M291.2 3320.6V3347.2" stroke="#c0c0c0" stroke-width="2.2" fill="none"/>
<path d="M345.7 3319.3L372.3 3345.9M345.7 3345.9L372.3 3319.3M345.7 3332.6H372.3M359.0 3319.3V3345.9" stroke="#c0c0c0" stroke-width="2.2" fill="none"/>
<path d="M413.4 3317.6L440.1 3344.2M413.4 3344.2L440.1 3317.6M413.4 3330.9H440.1M426.8 3317.6V3344.2" stroke="#c0c0c0" stroke-width="2.2" fill="none"/>
<path d="M481.2 3319.3L507.8 3345.9M481.2 3345.9L507.8 3319.3M481.2 3332.6H507.8M494.5 3319.3V3345.9" stroke="#c0c0c0" stroke-width="2.2" fill="none"/>
<path d="M549.0 3324.5L575.5 3351.1M549.0 3351.1L575.5 3324.5M549.0 3337.8H575.5M562.2 3324.5V3351.1" stroke="#c0c0c0" stroke-width="2.2" fill="none"/>
<path d="M616.7 3337.2L643.3 3363.8M616.7 3363.8L643.3 3337.2M616.7 3350.5H643.3M630.0 3337.2V3363.8" stroke="#c0c0c0" stroke-width="2.2" fill="none"/>
<path d="M684.4 3369.4L711.0 3396.0M684.4 3396.0L711.0 3369.4M684.4 3382.7H711.0M697.7 3369.4V3396.0" stroke="#c0c0c0" stroke-width="2.2" fill="none"/>
<path d="M752.2 3481.9L778.8 3508.5M752.2 3508.5L778.8 3481.9M752.2 3495.2H778.8M765.5 3481.9V3508.5" stroke="#c0c0c0" stroke-width="2.2" fill="none"/>
<path d="M819.9 3916.6L846.5 3943.2M819.9 3943.2L846.5 3916.6M819.9 3929.9H846.5M833.2 3916.6V3943.2" stroke="#c0c0c0" stroke-width="2.2" fill="none"/>
<path d="M887.7 3449.7L914.3 3476.3M887.7 3476.3L914.3 3449.7M887.7 3463.0H914.3M901.0 3449.7V3476.3" stroke="#c0c0c0" stroke-width="2.2" fill="none"/>
<path d="M955.4 3364.2L982.0 3390.8M955.4 3390.8L982.0 3364.2M955.4 3377.5H982.0M968.7 3364.2V3390.8" stroke="#c0c0c0" stroke-width="2.2" fill="none"/>
<path d="M1023.2 3342.4L1049.8 3369.0M1023.2 3369.0L1049.8 3342.4M1023.2 3355.7H1049.8M1036.5 3342.4V3369.0" stroke="#c0c0c0" stroke-width="2.2" fill="none"/>
<path d="M1091.0 3334.1L1117.5 3360.7M1091.0 3360.7L1117.5 3334.1M1091.0 3347.4H1117.5M1104.2 3334.1V3360.7" stroke="#c0c0c0" stroke-width="2.2" fill="none"/>
<path d="M1158.7 3332.4L1185.3 3359.0M1158.7 3359.0L1185.3 3332.4M1158.7 3345.7H1185.3M1172.0 3332.4V3359.0" stroke="#c0c0c0" stroke-width="2.2" fill="none"/>
<path d="M1226.5 3331.9L1253.0 3358.5M1226.5 3358.5L1253.0 3331.9M1226.5 3345.2H1253.0M1239.8 3331.9V3358.5" stroke="#c0c0c0" stroke-width="2.2" fill="none"/>
<path d="M1294.2 3331.5L1320.8 3358.1M1294.2 3358.1L1320.8 3331.5M1294.2 3344.8H1320.8M1307.5 3331.5V3358.1" stroke="#c0c0c0" stroke-width="2.2" fill="none"/>
<path d="M1362.0 3331.9L1388.5 3358.5M1362.0 3358.5L1388.5 3331.9M1362.0 3345.2H1388.5M1375.2 3331.9V3358.5" stroke="#c0c0c0" stroke-width="2.2" fill="none"/>
<path d="M1429.7 3332.4L1456.3 3359.0M1429.7 3359.0L1456.3 3332.4M1429.7 3345.7H1456.3M1443.0 3332.4V3359.0" stroke="#c0c0c0" stroke-width="2.2" fill="none"/>
<path d="M1497.5 3332.4L1524.0 3359.0M1497.5 3359.0L1524.0 3332.4M1497.5 3345.7H1524.0M1510.8 3332.4V3359.0" stroke="#c0c0c0" stroke-width="2.2" fill="none"/>
<path d="M1565.2 3335.0L1591.8 3361.6M1565.2 3361.6L1591.8 3335.0M1565.2 3348.3H1591.8M1578.5 3335.0V3361.6" stroke="#c0c0c0" stroke-width="2.2" fill="none"/>
<path d="M223.5 3336.1L228.0 3336.9L232.5 3337.3L237.1 3337.4L241.6 3336.8L246.1 3335.2L250.6 3333.2L255.1 3331.6L259.6 3330.9L264.2 3330.8L268.7 3330.8L273.2 3330.8L277.7 3330.8L282.2 3330.8L286.7 3330.8L291.3 3330.9L295.8 3330.9L300.3 3330.9L304.8 3330.9L309.3 3330.9L313.8 3331.0L318.4 3331.0L322.9 3331.0L327.4 3331.1L331.9 3331.1L336.4 3331.1L340.9 3331.2L345.5 3331.2L350.0 3331.2L354.5 3331.3L359.0 3331.3L363.5 3331.3L368.0 3331.3L372.6 3331.3L377.1 3331.3L381.6 3331.4L386.1 3331.4L390.6 3331.4L395.1 3331.4L399.7 3331.4L404.2 3331.4L408.7 3331.4L413.2 3331.5L417.7 3331.5L422.2 3331.6L426.8 3331.7L431.3 3331.9L435.8 3332.0L440.3 3332.2L444.8 3332.3L449.3 3332.5L453.9 3332.7L458.4 3332.9L462.9 3333.1L467.4 3333.3L471.9 3333.6L476.4 3333.8L481.0 3334.0L485.5 3334.3L490.0 3334.5L494.5 3334.8L499.0 3335.0L503.5 3335.2L508.1 3335.3L512.6 3335.4L517.1 3335.5L521.6 3335.6L526.1 3335.7L530.6 3335.8L535.2 3335.9L539.7 3336.1L544.2 3336.4L548.7 3336.7L553.2 3337.1L557.7 3337.6L562.3 3338.3L566.8 3339.0L571.3 3339.8L575.8 3340.8L580.3 3341.8L584.8 3342.8L589.4 3344.0L593.9 3345.2L598.4 3346.5L602.9 3347.8L607.4 3349.2L611.9 3350.7L616.5 3352.2L621.0 3353.7L625.5 3355.4L630.0 3357.0L634.5 3358.7L639.0 3360.4L643.6 3362.1L648.1 3363.9L652.6 3365.8L657.1 3367.9L661.6 3370.1L666.1 3372.5L670.7 3375.2L675.2 3378.2L676.1 3378.9L677.0 3379.5L677.9 3380.2L678.8 3380.9L679.7 3381.6L680.6 3382.3L681.5 3383.1L682.4 3383.8L683.3 3384.6L684.2 3385.4L685.1 3386.2L686.0 3387.0L686.9 3387.8L687.8 3388.7L688.7 3389.6L689.6 3390.5L690.5 3391.4L691.4 3392.4L692.3 3393.4L693.2 3394.4L694.1 3395.4L695.0 3396.4L695.9 3397.5L696.8 3398.6L697.7 3399.7L698.7 3400.9L699.6 3402.1L700.5 3403.3L701.4 3404.6L702.3 3405.9L703.2 3407.2L704.1 3408.6L705.0 3410.0L705.9 3411.5L706.8 3412.9L707.7 3414.5L708.6 3416.0L709.5 3417.6L710.4 3419.3L711.3 3420.9L712.2 3422.6L713.1 3424.4L714.0 3426.2L714.9 3428.0L715.8 3429.9L716.7 3431.8L717.6 3433.8L718.5 3435.8L719.4 3437.8L720.3 3439.9L721.2 3442.0L722.1 3444.2L723.0 3446.4L723.9 3448.7L724.8 3451.0L725.8 3453.4L726.7 3455.8L727.6 3458.3L728.5 3460.8L729.4 3463.4L730.3 3466.0L731.2 3468.7L732.1 3471.4L733.0 3474.2L733.9 3477.0L734.8 3479.9L735.7 3482.9L736.6 3485.9L737.5 3489.0L738.4 3492.2L739.3 3495.4L740.2 3498.7L741.1 3502.0L742.0 3505.5L742.9 3509.0L743.8 3512.5L744.7 3516.2L745.6 3519.9L746.5 3523.7L747.4 3527.6L748.3 3531.6L749.2 3535.6L750.1 3539.8L751.0 3544.0L751.9 3548.3L752.9 3552.7L753.8 3557.2L754.7 3561.9L755.6 3566.6L756.5 3571.4L757.4 3576.3L758.3 3581.4L759.2 3586.5L760.1 3591.8L761.0 3597.2L761.9 3602.7L762.8 3608.3L763.7 3614.1L764.6 3620.0L765.5 3626.0L766.4 3632.2L767.3 3638.5L768.2 3645.0L769.1 3651.6L770.0 3658.4L770.9 3665.3L771.8 3672.4L772.7 3679.7L773.6 3687.1L774.5 3694.7L775.4 3702.4L776.3 3710.4L777.2 3718.5L778.1 3726.7L779.0 3735.1L780.0 3743.7L780.9 3752.4L781.8 3761.3L782.7 3770.3L783.6 3779.4L784.5 3788.6L785.4 3797.9L786.3 3807.3L787.2 3816.6L788.1 3826.0L789.0 3835.3L789.9 3844.5L790.8 3853.5L791.7 3862.3L792.6 3870.9L793.5 3879.1L794.4 3886.8L795.3 3894.1L796.2 3900.7L797.1 3906.7L798.0 3911.8L798.9 3916.2L799.8 3919.6L800.7 3922.0L801.6 3923.4L802.5 3923.8L803.4 3923.1L804.3 3921.4L805.2 3918.7L806.1 3915.0L807.1 3910.4L808.0 3905.0L808.9 3898.9L809.8 3892.1L810.7 3884.7L811.6 3876.9L812.5 3868.6L813.4 3860.0L814.3 3851.1L815.2 3842.1L816.1 3832.9L817.0 3823.6L817.9 3814.3L818.8 3805.0L819.7 3795.7L820.6 3786.5L821.5 3777.3L822.4 3768.3L823.3 3759.3L824.2 3750.5L825.1 3741.9L826.0 3733.4L826.9 3725.0L827.8 3716.8L828.7 3708.8L829.6 3700.9L830.5 3693.2L831.4 3685.6L832.3 3678.2L833.2 3670.9L834.2 3663.9L835.1 3656.9L836.0 3650.1L836.9 3643.5L837.8 3637.0L838.7 3630.7L839.6 3624.5L840.5 3618.5L841.4 3612.6L842.3 3606.8L843.2 3601.2L844.1 3595.7L845.0 3590.3L845.9 3585.0L846.8 3579.9L847.7 3574.9L848.6 3570.0L849.5 3565.2L850.4 3560.5L851.3 3555.9L852.2 3551.4L853.1 3547.0L854.0 3542.7L854.9 3538.6L855.8 3534.5L856.7 3530.5L857.6 3526.5L858.5 3522.7L859.4 3519.0L860.3 3515.3L861.3 3511.7L862.2 3508.2L863.1 3504.8L864.0 3501.5L864.9 3498.2L865.8 3495.0L866.7 3491.8L867.6 3488.7L868.5 3485.7L869.4 3482.8L870.3 3479.9L871.2 3477.1L872.1 3474.4L873.0 3471.7L873.9 3469.0L874.8 3466.4L875.7 3463.9L876.6 3461.4L877.5 3459.0L878.4 3456.6L879.3 3454.3L880.2 3452.1L881.1 3449.8L882.0 3447.7L882.9 3445.5L883.8 3443.5L884.7 3441.4L885.6 3439.5L886.5 3437.5L887.4 3435.6L888.4 3433.8L889.3 3432.0L890.2 3430.2L891.1 3428.5L892.0 3426.8L892.9 3425.1L893.8 3423.5L894.7 3421.9L895.6 3420.4L896.5 3418.9L897.4 3417.4L898.3 3416.0L899.2 3414.6L900.1 3413.3L901.0 3412.0L901.9 3410.7L902.8 3409.4L903.7 3408.2L904.6 3407.0L905.5 3405.9L906.4 3404.7L907.3 3403.7L908.2 3402.6L909.1 3401.5L910.0 3400.5L910.9 3399.5L911.8 3398.6L912.7 3397.7L913.6 3396.7L914.5 3395.9L915.5 3395.0L916.4 3394.1L917.3 3393.3L918.2 3392.5L919.1 3391.8L920.0 3391.0L920.9 3390.3L921.8 3389.5L922.7 3388.8L923.6 3388.2L924.5 3387.5L925.4 3386.9L926.3 3386.2L927.2 3385.6L928.1 3385.0L929.0 3384.4L929.9 3383.9L930.8 3383.3L931.7 3382.8L932.6 3382.2L933.5 3381.7L934.4 3381.2L935.3 3380.7L936.2 3380.3L937.1 3379.8L938.0 3379.3L938.9 3378.9L939.8 3378.4L940.7 3378.0L941.6 3377.6L942.6 3377.2L943.5 3376.8L944.4 3376.4L945.3 3376.0L946.2 3375.6L947.1 3375.3L948.0 3374.9L948.9 3374.5L949.8 3374.2L950.7 3373.8L951.6 3373.5L952.5 3373.2L953.4 3372.8L954.3 3372.5L955.2 3372.2L956.1 3371.8L957.0 3371.5L957.9 3371.2L958.8 3370.9L959.7 3370.6L960.6 3370.3L961.5 3370.0L962.4 3369.6L963.3 3369.3L964.2 3369.0L965.1 3368.7L966.0 3368.4L966.9 3368.1L967.8 3367.8L968.7 3367.5L969.7 3367.2L970.6 3366.9L971.5 3366.6L972.4 3366.3L973.3 3366.0L974.2 3365.7L975.1 3365.4L976.0 3365.1L976.9 3364.9L977.8 3364.6L978.7 3364.3L979.6 3364.0L980.5 3363.8L981.4 3363.5L982.3 3363.3L983.2 3363.0L984.1 3362.8L985.0 3362.5L985.9 3362.3L986.8 3362.1L987.7 3361.8L988.6 3361.6L989.5 3361.4L990.4 3361.1L991.3 3360.9L992.2 3360.7L993.1 3360.5L994.0 3360.3L994.9 3360.0L995.8 3359.8L996.8 3359.6L997.7 3359.4L998.6 3359.2L999.5 3359.0L1000.4 3358.8L1001.3 3358.6L1002.2 3358.4L1003.1 3358.2L1004.0 3358.1L1004.9 3357.9L1005.8 3357.7L1006.7 3357.5L1007.6 3357.3L1008.5 3357.2L1009.4 3357.0L1010.3 3356.8L1011.2 3356.6L1012.1 3356.5L1013.0 3356.3L1013.9 3356.2L1014.8 3356.0L1015.7 3355.8L1016.6 3355.7L1017.5 3355.5L1018.4 3355.4L1019.3 3355.2L1020.2 3355.1L1021.1 3354.9L1022.0 3354.8L1022.9 3354.6L1023.9 3354.5L1024.8 3354.3L1025.7 3354.2L1026.6 3354.1L1027.5 3353.9L1028.4 3353.8L1029.3 3353.7L1030.2 3353.5L1031.1 3353.4L1032.0 3353.3L1032.9 3353.1L1033.8 3353.0L1034.7 3352.9L1035.6 3352.8L1036.5 3352.7L1041.0 3352.1L1045.5 3351.5L1050.0 3351.0L1054.6 3350.5L1059.1 3350.0L1063.6 3349.5L1068.1 3349.1L1072.6 3348.7L1077.1 3348.3L1081.7 3347.9L1086.2 3347.6L1090.7 3347.3L1095.2 3347.0L1099.7 3346.8L1104.2 3346.6L1108.8 3346.4L1113.3 3346.4L1117.8 3346.4L1122.3 3346.5L1126.8 3346.7L1131.3 3346.9L1135.9 3347.1L1140.4 3347.4L1144.9 3347.6L1149.4 3347.8L1153.9 3348.0L1158.4 3348.2L1163.0 3348.3L1167.5 3348.3L1172.0 3348.3L1176.5 3348.2L1181.0 3348.1L1185.5 3348.0L1190.1 3347.9L1194.6 3347.8L1199.1 3347.7L1203.6 3347.6L1208.1 3347.5L1212.6 3347.4L1217.2 3347.4L1221.7 3347.3L1226.2 3347.2L1230.7 3347.1L1235.2 3347.0L1239.7 3347.0L1244.3 3346.9L1248.8 3346.9L1253.3 3346.9L1257.8 3346.8L1262.3 3346.8L1266.8 3346.7L1271.4 3346.7L1275.9 3346.7L1280.4 3346.7L1284.9 3346.6L1289.4 3346.6L1293.9 3346.6L1298.5 3346.6L1303.0 3346.6L1307.5 3346.6L1312.0 3346.5L1316.5 3346.5L1321.0 3346.5L1325.6 3346.5L1330.1 3346.5L1334.6 3346.5L1339.1 3346.5L1343.6 3346.5L1348.1 3346.5L1352.7 3346.5L1357.2 3346.5L1361.7 3346.6L1366.2 3346.6L1370.7 3346.6L1375.2 3346.6L1379.8 3346.6L1384.3 3346.6L1388.8 3346.6L1393.3 3346.6L1397.8 3346.6L1402.3 3346.6L1406.9 3346.6L1411.4 3346.6L1415.9 3346.6L1420.4 3346.6L1424.9 3346.6L1429.4 3346.6L1434.0 3346.6L1438.5 3346.6L1443.0 3346.6L1447.5 3346.5L1452.0 3346.5L1456.5 3346.5L1461.1 3346.4L1465.6 3346.4L1470.1 3346.4L1474.6 3346.3L1479.1 3346.3L1483.6 3346.3L1488.2 3346.2L1492.7 3346.2L1497.2 3346.2L1501.7 3346.2L1506.2 3346.1L1510.7 3346.1L1515.3 3346.1L1519.8 3346.2L1524.3 3346.3L1528.8 3346.4L1533.3 3346.6L1537.8 3346.8L1542.4 3347.0L1546.9 3347.3L1551.4 3347.6L1555.9 3347.9L1560.4 3348.2L1564.9 3348.5L1569.5 3348.9L1574.0 3349.2L1578.5 3349.6" fill="none" stroke="#808080" stroke-width="5.8" stroke-dasharray="20 17.5 4 17 4 16.5" stroke-linejoin="round"/>
<path d="M210.5 3336.1H236.5" stroke="#808080" stroke-width="1.8" fill="none"/>
<path d="M278.2 3330.9H304.2" stroke="#808080" stroke-width="1.8" fill="none"/>
<path d="M346.0 3331.3H372.0" stroke="#808080" stroke-width="1.8" fill="none"/>
<path d="M413.8 3331.7H439.8" stroke="#808080" stroke-width="1.8" fill="none"/>
<path d="M481.5 3334.8H507.5" stroke="#808080" stroke-width="1.8" fill="none"/>
<path d="M549.2 3338.3H575.2" stroke="#808080" stroke-width="1.8" fill="none"/>
<path d="M617.0 3357.0H643.0" stroke="#808080" stroke-width="1.8" fill="none"/>
<path d="M684.7 3399.7H710.7" stroke="#808080" stroke-width="1.8" fill="none"/>
<path d="M752.5 3626.0H778.5" stroke="#808080" stroke-width="1.8" fill="none"/>
<path d="M820.2 3670.9H846.2" stroke="#808080" stroke-width="1.8" fill="none"/>
<path d="M888.0 3412.0H914.0" stroke="#808080" stroke-width="1.8" fill="none"/>
<path d="M955.7 3367.5H981.7" stroke="#808080" stroke-width="1.8" fill="none"/>
<path d="M1023.5 3352.7H1049.5" stroke="#808080" stroke-width="1.8" fill="none"/>
<path d="M1091.2 3346.6H1117.2" stroke="#808080" stroke-width="1.8" fill="none"/>
<path d="M1159.0 3348.3H1185.0" stroke="#808080" stroke-width="1.8" fill="none"/>
<path d="M1226.8 3347.0H1252.8" stroke="#808080" stroke-width="1.8" fill="none"/>
<path d="M1294.5 3346.6H1320.5" stroke="#808080" stroke-width="1.8" fill="none"/>
<path d="M1362.2 3346.6H1388.2" stroke="#808080" stroke-width="1.8" fill="none"/>
<path d="M1430.0 3346.6H1456.0" stroke="#808080" stroke-width="1.8" fill="none"/>
<path d="M1497.8 3346.1H1523.8" stroke="#808080" stroke-width="1.8" fill="none"/>
<path d="M1565.5 3349.6H1591.5" stroke="#808080" stroke-width="1.8" fill="none"/>
</g>
<path d="M202.0 3326.5H221.5M212.2 3435.5H221.5M202.0 3544.5H221.5M212.2 3653.5H221.5M202.0 3762.5H221.5M212.2 3871.5H221.5M202.0 3980.5H221.5M212.2 4089.5H221.5M202.0 4198.5H221.5M212.2 4307.5H221.5M202.0 4416.5H221.5M223.5 4418.5V4438.9M336.4 4418.5V4427.8M449.3 4418.5V4438.9M562.2 4418.5V4427.8M675.2 4418.5V4438.9M788.1 4418.5V4427.8M901.0 4418.5V4438.9M1013.9 4418.5V4427.8M1126.8 4418.5V4438.9M1239.8 4418.5V4427.8M1352.7 4418.5V4438.9M1465.6 4418.5V4427.8M1578.5 4418.5V4438.9" stroke="#000" stroke-width="5" fill="none"/>
<text transform="translate(188.2 3339.5)" font-size="47.8" text-anchor="end">0</text>
<text transform="translate(188.2 3557.5)" font-size="47.8" text-anchor="end">-5</text>
<text transform="translate(188.2 3775.5)" font-size="47.8" text-anchor="end">-10</text>
<text transform="translate(188.2 3993.5)" font-size="47.8" text-anchor="end">-15</text>
<text transform="translate(188.2 4211.5)" font-size="47.8" text-anchor="end">-20</text>
<text transform="translate(188.2 4429.5)" font-size="47.8" text-anchor="end">-25</text>
<text transform="translate(223.5 4488.8)" font-size="47.8" text-anchor="middle">1.0</text>
<text transform="translate(449.33 4488.8)" font-size="47.8" text-anchor="middle">1.5</text>
<text transform="translate(675.17 4488.8)" font-size="47.8" text-anchor="middle">2.0</text>
<text transform="translate(901 4488.8)" font-size="47.8" text-anchor="middle">2.5</text>
<text transform="translate(1126.83 4488.8)" font-size="47.8" text-anchor="middle">3.0</text>
<text transform="translate(1352.67 4488.8)" font-size="47.8" text-anchor="middle">3.5</text>
<text transform="translate(1578.5 4488.8)" font-size="47.8" text-anchor="middle">4.0</text>
<text transform="translate(687.32 4575.4) scale(1.0000 1.0200)" font-size="56.7">Frequency [GHz]</text>
<text transform="translate(97 4062.49) rotate(-90) scale(1.0000 1.0500)" font-size="56.85">Magnitude [dB]</text>
<rect x="968.0" y="3957.0" width="541.0" height="345.0" fill="#fff" stroke="#000" stroke-width="2"/>
<path d="M975.0 3989.2H1078.5" stroke="#808080" stroke-width="6.4" stroke-dasharray="22.9 29" fill="none"/>
<circle cx="1026.7" cy="3989.2" r="13.5" fill="#808080"/><circle cx="1022.7" cy="3985.6" r="7.3" fill="#a6a6a6"/><circle cx="1022.7" cy="3985.6" r="4.6" fill="#cccccc"/><circle cx="1022.7" cy="3985.6" r="2.7" fill="#fafafa"/>
<text transform="translate(0 4004.8) scale(1 1.0300)" font-size="46.7"><tspan x="1091.6" y="0">S</tspan><tspan x="1123.64" y="12.52" font-size="31.92" textLength="31.31" lengthAdjust="spacingAndGlyphs">11</tspan><tspan x="1157.48" y="-1.69" font-size="52.82" textLength="25.4" lengthAdjust="spacingAndGlyphs">_</tspan><tspan x="1184.77" y="0">W</tspan><tspan x="1227.47" y="-1.69" font-size="52.82" textLength="24.92" lengthAdjust="spacingAndGlyphs">_</tspan><tspan x="1252.85" y="0">T2= </tspan><tspan x="1349" y="0" textLength="153.37" lengthAdjust="spacingAndGlyphs">1.0 mm</tspan></text>
<path d="M975.0 4056.8H1078.5" stroke="#404040" stroke-width="6.4" stroke-dasharray="4.3 26.7" fill="none"/>
<path d="M1014.4 4056.8H1039.0M1026.7 4044.5V4069.1" stroke="#404040" stroke-width="2" fill="none"/>
<text transform="translate(0 4072.4) scale(1 1.0300)" font-size="46.7"><tspan x="1091.6" y="0">S</tspan><tspan x="1123.64" y="12.52" font-size="31.92" textLength="31.31" lengthAdjust="spacingAndGlyphs">11</tspan><tspan x="1157.48" y="-1.69" font-size="52.82" textLength="25.4" lengthAdjust="spacingAndGlyphs">_</tspan><tspan x="1184.77" y="0">W</tspan><tspan x="1227.47" y="-1.69" font-size="52.82" textLength="24.92" lengthAdjust="spacingAndGlyphs">_</tspan><tspan x="1252.85" y="0">T2= </tspan><tspan x="1349" y="0" textLength="153.37" lengthAdjust="spacingAndGlyphs">1.5 mm</tspan></text>
<path d="M975.0 4124.4H1078.5" stroke="#000000" stroke-width="6" fill="none"/>
<path d="M1013.4 4111.1L1040.0 4137.7M1013.4 4137.7L1040.0 4111.1" stroke="#000000" stroke-width="2.4" fill="none"/>
<text transform="translate(0 4140) scale(1 1.0300)" font-size="46.7"><tspan x="1091.6" y="0">S</tspan><tspan x="1123.64" y="12.52" font-size="31.92" textLength="31.31" lengthAdjust="spacingAndGlyphs">11</tspan><tspan x="1157.48" y="-1.69" font-size="52.82" textLength="25.4" lengthAdjust="spacingAndGlyphs">_</tspan><tspan x="1184.77" y="0">W</tspan><tspan x="1227.47" y="-1.69" font-size="52.82" textLength="24.92" lengthAdjust="spacingAndGlyphs">_</tspan><tspan x="1252.85" y="0">T2= </tspan><tspan x="1349" y="0" textLength="153.37" lengthAdjust="spacingAndGlyphs">2.0 mm</tspan></text>
<path d="M975.0 4192.0H1078.5" stroke="#c0c0c0" stroke-width="6.5" stroke-dasharray="28 16.3 5 16" fill="none"/>
<path d="M1013.4 4178.7L1040.0 4205.3M1013.4 4205.3L1040.0 4178.7M1013.4 4192.0H1040.0M1026.7 4178.7V4205.3" stroke="#c0c0c0" stroke-width="2.2" fill="none"/>
<text transform="translate(0 4207.6) scale(1 1.0300)" font-size="46.7"><tspan x="1091.6" y="0">S</tspan><tspan x="1123.64" y="12.52" font-size="31.92" textLength="31.31" lengthAdjust="spacingAndGlyphs">11</tspan><tspan x="1157.48" y="-1.69" font-size="52.82" textLength="25.4" lengthAdjust="spacingAndGlyphs">_</tspan><tspan x="1184.77" y="0">W</tspan><tspan x="1227.47" y="-1.69" font-size="52.82" textLength="24.92" lengthAdjust="spacingAndGlyphs">_</tspan><tspan x="1252.85" y="0">T2= </tspan><tspan x="1349" y="0" textLength="153.37" lengthAdjust="spacingAndGlyphs">2.5 mm</tspan></text>
<path d="M975.0 4259.6H1078.5" stroke="#808080" stroke-width="5.8" stroke-dasharray="20 17.5 4 17 4 16.5" fill="none"/>
<path d="M1013.7 4259.6H1039.7" stroke="#808080" stroke-width="1.8" fill="none"/>
<text transform="translate(0 4275.2) scale(1 1.0300)" font-size="46.7"><tspan x="1091.6" y="0">S</tspan><tspan x="1123.64" y="12.52" font-size="31.92" textLength="31.31" lengthAdjust="spacingAndGlyphs">11</tspan><tspan x="1157.48" y="-1.69" font-size="52.82" textLength="25.4" lengthAdjust="spacingAndGlyphs">_</tspan><tspan x="1184.77" y="0">W</tspan><tspan x="1227.47" y="-1.69" font-size="52.82" textLength="24.92" lengthAdjust="spacingAndGlyphs">_</tspan><tspan x="1252.85" y="0">T2= </tspan><tspan x="1349" y="0" textLength="153.37" lengthAdjust="spacingAndGlyphs">3.0 mm</tspan></text>
<text class="cap" transform="translate(0 4762.93) scale(1 1.0600)" font-size="81.8"><tspan x="815.82" y="0">(</tspan><tspan x="843.42" y="0" font-weight="bold" textLength="41.66" lengthAdjust="spacingAndGlyphs">e</tspan><tspan x="884.98" y="0">)</tspan></text>
</g>
</svg>
</body>
</html>
